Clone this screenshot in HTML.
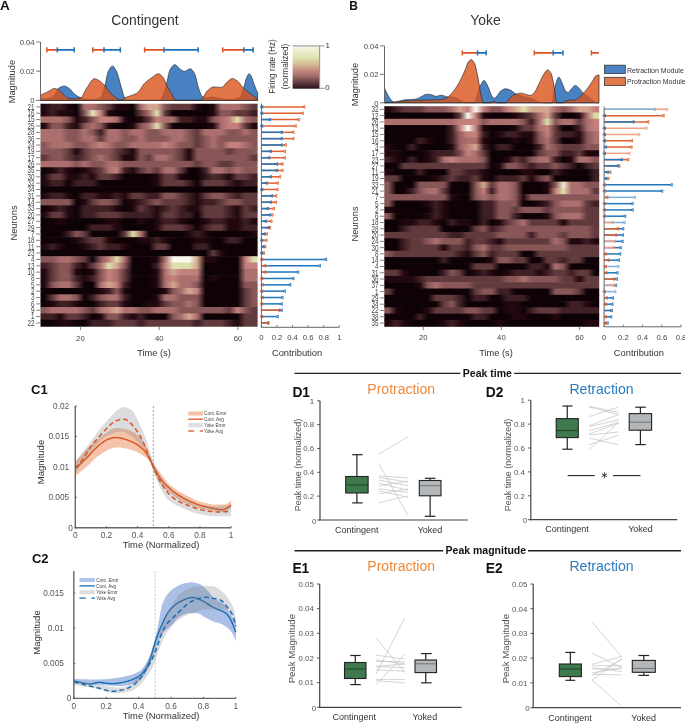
<!DOCTYPE html><html><head><meta charset="utf-8"><title>Figure</title><style>html,body{margin:0;padding:0;background:#fff;width:685px;height:723px;overflow:hidden;}svg{display:block;font-family:"Liberation Sans",sans-serif;will-change:transform;}</style></head><body><svg width="685" height="723" viewBox="0 0 685 723" font-family='"Liberation Sans", sans-serif'><defs><linearGradient id="cbar" x1="0" y1="0" x2="0" y2="1"><stop offset="0" stop-color="#f8f8f2"/><stop offset="0.1" stop-color="#eeeed4"/><stop offset="0.28" stop-color="#dfe2b0"/><stop offset="0.45" stop-color="#d2b592"/><stop offset="0.58" stop-color="#c28a80"/><stop offset="0.72" stop-color="#9c6a68"/><stop offset="0.86" stop-color="#5e3c40"/><stop offset="1" stop-color="#2a1018"/></linearGradient><linearGradient id="ha0" x1="0" y1="0" x2="1" y2="0"><stop offset="0.0185" stop-color="#21080e"/><stop offset="0.0556" stop-color="#3e1f24"/><stop offset="0.0926" stop-color="#3e1f24"/><stop offset="0.1296" stop-color="#21080e"/><stop offset="0.1667" stop-color="#0e0206"/><stop offset="0.2037" stop-color="#ab6f6e"/><stop offset="0.2407" stop-color="#ab6f6e"/><stop offset="0.2778" stop-color="#885657"/><stop offset="0.3148" stop-color="#613a3d"/><stop offset="0.3519" stop-color="#21080e"/><stop offset="0.3889" stop-color="#21080e"/><stop offset="0.4259" stop-color="#0e0206"/><stop offset="0.4630" stop-color="#ab6f6e"/><stop offset="0.5000" stop-color="#d2a68e"/><stop offset="0.5370" stop-color="#d2a68e"/><stop offset="0.5741" stop-color="#885657"/><stop offset="0.6111" stop-color="#613a3d"/><stop offset="0.6481" stop-color="#613a3d"/><stop offset="0.6852" stop-color="#613a3d"/><stop offset="0.7222" stop-color="#21080e"/><stop offset="0.7593" stop-color="#0e0206"/><stop offset="0.7963" stop-color="#21080e"/><stop offset="0.8333" stop-color="#ab6f6e"/><stop offset="0.8704" stop-color="#ab6f6e"/><stop offset="0.9074" stop-color="#ab6f6e"/><stop offset="0.9444" stop-color="#885657"/><stop offset="0.9815" stop-color="#613a3d"/></linearGradient><linearGradient id="ha1" x1="0" y1="0" x2="1" y2="0"><stop offset="0.0185" stop-color="#21080e"/><stop offset="0.0556" stop-color="#3e1f24"/><stop offset="0.0926" stop-color="#21080e"/><stop offset="0.1296" stop-color="#21080e"/><stop offset="0.1667" stop-color="#0e0206"/><stop offset="0.2037" stop-color="#885657"/><stop offset="0.2407" stop-color="#e3e3b9"/><stop offset="0.2778" stop-color="#c4807c"/><stop offset="0.3148" stop-color="#21080e"/><stop offset="0.3519" stop-color="#0e0206"/><stop offset="0.3889" stop-color="#0e0206"/><stop offset="0.4259" stop-color="#0e0206"/><stop offset="0.4630" stop-color="#613a3d"/><stop offset="0.5000" stop-color="#ab6f6e"/><stop offset="0.5370" stop-color="#dedeac"/><stop offset="0.5741" stop-color="#613a3d"/><stop offset="0.6111" stop-color="#0e0206"/><stop offset="0.6481" stop-color="#0e0206"/><stop offset="0.6852" stop-color="#0e0206"/><stop offset="0.7222" stop-color="#0e0206"/><stop offset="0.7593" stop-color="#0e0206"/><stop offset="0.7963" stop-color="#21080e"/><stop offset="0.8333" stop-color="#885657"/><stop offset="0.8704" stop-color="#885657"/><stop offset="0.9074" stop-color="#613a3d"/><stop offset="0.9444" stop-color="#613a3d"/><stop offset="0.9815" stop-color="#3e1f24"/></linearGradient><linearGradient id="ha2" x1="0" y1="0" x2="1" y2="0"><stop offset="0.0185" stop-color="#ab6f6e"/><stop offset="0.0556" stop-color="#ab6f6e"/><stop offset="0.0926" stop-color="#ab6f6e"/><stop offset="0.1296" stop-color="#885657"/><stop offset="0.1667" stop-color="#21080e"/><stop offset="0.2037" stop-color="#3e1f24"/><stop offset="0.2407" stop-color="#885657"/><stop offset="0.2778" stop-color="#c4807c"/><stop offset="0.3148" stop-color="#c4807c"/><stop offset="0.3519" stop-color="#ab6f6e"/><stop offset="0.3889" stop-color="#21080e"/><stop offset="0.4259" stop-color="#0e0206"/><stop offset="0.4630" stop-color="#21080e"/><stop offset="0.5000" stop-color="#613a3d"/><stop offset="0.5370" stop-color="#c4807c"/><stop offset="0.5741" stop-color="#ab6f6e"/><stop offset="0.6111" stop-color="#ab6f6e"/><stop offset="0.6481" stop-color="#3e1f24"/><stop offset="0.6852" stop-color="#3e1f24"/><stop offset="0.7222" stop-color="#21080e"/><stop offset="0.7593" stop-color="#21080e"/><stop offset="0.7963" stop-color="#885657"/><stop offset="0.8333" stop-color="#ab6f6e"/><stop offset="0.8704" stop-color="#c4807c"/><stop offset="0.9074" stop-color="#dedeac"/><stop offset="0.9444" stop-color="#ab6f6e"/><stop offset="0.9815" stop-color="#885657"/></linearGradient><linearGradient id="ha3" x1="0" y1="0" x2="1" y2="0"><stop offset="0.0185" stop-color="#21080e"/><stop offset="0.0556" stop-color="#885657"/><stop offset="0.0926" stop-color="#885657"/><stop offset="0.1296" stop-color="#3e1f24"/><stop offset="0.1667" stop-color="#21080e"/><stop offset="0.2037" stop-color="#885657"/><stop offset="0.2407" stop-color="#ab6f6e"/><stop offset="0.2778" stop-color="#885657"/><stop offset="0.3148" stop-color="#21080e"/><stop offset="0.3519" stop-color="#0e0206"/><stop offset="0.3889" stop-color="#0e0206"/><stop offset="0.4259" stop-color="#21080e"/><stop offset="0.4630" stop-color="#885657"/><stop offset="0.5000" stop-color="#ab6f6e"/><stop offset="0.5370" stop-color="#dedeac"/><stop offset="0.5741" stop-color="#885657"/><stop offset="0.6111" stop-color="#0e0206"/><stop offset="0.6481" stop-color="#0e0206"/><stop offset="0.6852" stop-color="#0e0206"/><stop offset="0.7222" stop-color="#0e0206"/><stop offset="0.7593" stop-color="#0e0206"/><stop offset="0.7963" stop-color="#21080e"/><stop offset="0.8333" stop-color="#ab6f6e"/><stop offset="0.8704" stop-color="#c4807c"/><stop offset="0.9074" stop-color="#c4807c"/><stop offset="0.9444" stop-color="#613a3d"/><stop offset="0.9815" stop-color="#21080e"/></linearGradient><linearGradient id="ha4" x1="0" y1="0" x2="1" y2="0"><stop offset="0.0185" stop-color="#ab6f6e"/><stop offset="0.0556" stop-color="#ab6f6e"/><stop offset="0.0926" stop-color="#ab6f6e"/><stop offset="0.1296" stop-color="#885657"/><stop offset="0.1667" stop-color="#885657"/><stop offset="0.2037" stop-color="#ab6f6e"/><stop offset="0.2407" stop-color="#885657"/><stop offset="0.2778" stop-color="#3e1f24"/><stop offset="0.3148" stop-color="#ab6f6e"/><stop offset="0.3519" stop-color="#ab6f6e"/><stop offset="0.3889" stop-color="#885657"/><stop offset="0.4259" stop-color="#ab6f6e"/><stop offset="0.4630" stop-color="#ab6f6e"/><stop offset="0.5000" stop-color="#885657"/><stop offset="0.5370" stop-color="#885657"/><stop offset="0.5741" stop-color="#ab6f6e"/><stop offset="0.6111" stop-color="#ab6f6e"/><stop offset="0.6481" stop-color="#ab6f6e"/><stop offset="0.6852" stop-color="#885657"/><stop offset="0.7222" stop-color="#613a3d"/><stop offset="0.7593" stop-color="#ab6f6e"/><stop offset="0.7963" stop-color="#ab6f6e"/><stop offset="0.8333" stop-color="#ab6f6e"/><stop offset="0.8704" stop-color="#885657"/><stop offset="0.9074" stop-color="#885657"/><stop offset="0.9444" stop-color="#ab6f6e"/><stop offset="0.9815" stop-color="#885657"/></linearGradient><linearGradient id="ha5" x1="0" y1="0" x2="1" y2="0"><stop offset="0.0185" stop-color="#ab6f6e"/><stop offset="0.0556" stop-color="#ab6f6e"/><stop offset="0.0926" stop-color="#ab6f6e"/><stop offset="0.1296" stop-color="#885657"/><stop offset="0.1667" stop-color="#885657"/><stop offset="0.2037" stop-color="#ab6f6e"/><stop offset="0.2407" stop-color="#ab6f6e"/><stop offset="0.2778" stop-color="#613a3d"/><stop offset="0.3148" stop-color="#ab6f6e"/><stop offset="0.3519" stop-color="#ab6f6e"/><stop offset="0.3889" stop-color="#885657"/><stop offset="0.4259" stop-color="#885657"/><stop offset="0.4630" stop-color="#ab6f6e"/><stop offset="0.5000" stop-color="#885657"/><stop offset="0.5370" stop-color="#885657"/><stop offset="0.5741" stop-color="#885657"/><stop offset="0.6111" stop-color="#ab6f6e"/><stop offset="0.6481" stop-color="#ab6f6e"/><stop offset="0.6852" stop-color="#885657"/><stop offset="0.7222" stop-color="#613a3d"/><stop offset="0.7593" stop-color="#885657"/><stop offset="0.7963" stop-color="#ab6f6e"/><stop offset="0.8333" stop-color="#885657"/><stop offset="0.8704" stop-color="#885657"/><stop offset="0.9074" stop-color="#885657"/><stop offset="0.9444" stop-color="#885657"/><stop offset="0.9815" stop-color="#885657"/></linearGradient><linearGradient id="ha6" x1="0" y1="0" x2="1" y2="0"><stop offset="0.0185" stop-color="#885657"/><stop offset="0.0556" stop-color="#ab6f6e"/><stop offset="0.0926" stop-color="#ab6f6e"/><stop offset="0.1296" stop-color="#ab6f6e"/><stop offset="0.1667" stop-color="#885657"/><stop offset="0.2037" stop-color="#885657"/><stop offset="0.2407" stop-color="#ab6f6e"/><stop offset="0.2778" stop-color="#c4807c"/><stop offset="0.3148" stop-color="#ab6f6e"/><stop offset="0.3519" stop-color="#885657"/><stop offset="0.3889" stop-color="#885657"/><stop offset="0.4259" stop-color="#ab6f6e"/><stop offset="0.4630" stop-color="#ab6f6e"/><stop offset="0.5000" stop-color="#ab6f6e"/><stop offset="0.5370" stop-color="#ab6f6e"/><stop offset="0.5741" stop-color="#c4807c"/><stop offset="0.6111" stop-color="#ab6f6e"/><stop offset="0.6481" stop-color="#885657"/><stop offset="0.6852" stop-color="#885657"/><stop offset="0.7222" stop-color="#613a3d"/><stop offset="0.7593" stop-color="#885657"/><stop offset="0.7963" stop-color="#ab6f6e"/><stop offset="0.8333" stop-color="#885657"/><stop offset="0.8704" stop-color="#c4807c"/><stop offset="0.9074" stop-color="#c4807c"/><stop offset="0.9444" stop-color="#ab6f6e"/><stop offset="0.9815" stop-color="#885657"/></linearGradient><linearGradient id="ha7" x1="0" y1="0" x2="1" y2="0"><stop offset="0.0185" stop-color="#885657"/><stop offset="0.0556" stop-color="#885657"/><stop offset="0.0926" stop-color="#885657"/><stop offset="0.1296" stop-color="#613a3d"/><stop offset="0.1667" stop-color="#21080e"/><stop offset="0.2037" stop-color="#613a3d"/><stop offset="0.2407" stop-color="#885657"/><stop offset="0.2778" stop-color="#885657"/><stop offset="0.3148" stop-color="#885657"/><stop offset="0.3519" stop-color="#613a3d"/><stop offset="0.3889" stop-color="#3e1f24"/><stop offset="0.4259" stop-color="#21080e"/><stop offset="0.4630" stop-color="#885657"/><stop offset="0.5000" stop-color="#885657"/><stop offset="0.5370" stop-color="#885657"/><stop offset="0.5741" stop-color="#885657"/><stop offset="0.6111" stop-color="#885657"/><stop offset="0.6481" stop-color="#613a3d"/><stop offset="0.6852" stop-color="#21080e"/><stop offset="0.7222" stop-color="#885657"/><stop offset="0.7593" stop-color="#885657"/><stop offset="0.7963" stop-color="#885657"/><stop offset="0.8333" stop-color="#885657"/><stop offset="0.8704" stop-color="#613a3d"/><stop offset="0.9074" stop-color="#885657"/><stop offset="0.9444" stop-color="#885657"/><stop offset="0.9815" stop-color="#885657"/></linearGradient><linearGradient id="ha8" x1="0" y1="0" x2="1" y2="0"><stop offset="0.0185" stop-color="#613a3d"/><stop offset="0.0556" stop-color="#885657"/><stop offset="0.0926" stop-color="#885657"/><stop offset="0.1296" stop-color="#613a3d"/><stop offset="0.1667" stop-color="#3e1f24"/><stop offset="0.2037" stop-color="#613a3d"/><stop offset="0.2407" stop-color="#885657"/><stop offset="0.2778" stop-color="#ab6f6e"/><stop offset="0.3148" stop-color="#885657"/><stop offset="0.3519" stop-color="#613a3d"/><stop offset="0.3889" stop-color="#21080e"/><stop offset="0.4259" stop-color="#21080e"/><stop offset="0.4630" stop-color="#885657"/><stop offset="0.5000" stop-color="#613a3d"/><stop offset="0.5370" stop-color="#ab6f6e"/><stop offset="0.5741" stop-color="#ab6f6e"/><stop offset="0.6111" stop-color="#885657"/><stop offset="0.6481" stop-color="#613a3d"/><stop offset="0.6852" stop-color="#21080e"/><stop offset="0.7222" stop-color="#885657"/><stop offset="0.7593" stop-color="#885657"/><stop offset="0.7963" stop-color="#885657"/><stop offset="0.8333" stop-color="#885657"/><stop offset="0.8704" stop-color="#885657"/><stop offset="0.9074" stop-color="#885657"/><stop offset="0.9444" stop-color="#885657"/><stop offset="0.9815" stop-color="#613a3d"/></linearGradient><linearGradient id="ha9" x1="0" y1="0" x2="1" y2="0"><stop offset="0.0185" stop-color="#ab6f6e"/><stop offset="0.0556" stop-color="#ab6f6e"/><stop offset="0.0926" stop-color="#ab6f6e"/><stop offset="0.1296" stop-color="#ab6f6e"/><stop offset="0.1667" stop-color="#885657"/><stop offset="0.2037" stop-color="#ab6f6e"/><stop offset="0.2407" stop-color="#885657"/><stop offset="0.2778" stop-color="#885657"/><stop offset="0.3148" stop-color="#ab6f6e"/><stop offset="0.3519" stop-color="#ab6f6e"/><stop offset="0.3889" stop-color="#885657"/><stop offset="0.4259" stop-color="#885657"/><stop offset="0.4630" stop-color="#885657"/><stop offset="0.5000" stop-color="#885657"/><stop offset="0.5370" stop-color="#885657"/><stop offset="0.5741" stop-color="#885657"/><stop offset="0.6111" stop-color="#885657"/><stop offset="0.6481" stop-color="#885657"/><stop offset="0.6852" stop-color="#885657"/><stop offset="0.7222" stop-color="#613a3d"/><stop offset="0.7593" stop-color="#885657"/><stop offset="0.7963" stop-color="#885657"/><stop offset="0.8333" stop-color="#613a3d"/><stop offset="0.8704" stop-color="#613a3d"/><stop offset="0.9074" stop-color="#885657"/><stop offset="0.9444" stop-color="#885657"/><stop offset="0.9815" stop-color="#885657"/></linearGradient><linearGradient id="ha10" x1="0" y1="0" x2="1" y2="0"><stop offset="0.0185" stop-color="#0e0206"/><stop offset="0.0556" stop-color="#21080e"/><stop offset="0.0926" stop-color="#3e1f24"/><stop offset="0.1296" stop-color="#21080e"/><stop offset="0.1667" stop-color="#0e0206"/><stop offset="0.2037" stop-color="#21080e"/><stop offset="0.2407" stop-color="#3e1f24"/><stop offset="0.2778" stop-color="#613a3d"/><stop offset="0.3148" stop-color="#ab6f6e"/><stop offset="0.3519" stop-color="#c4807c"/><stop offset="0.3889" stop-color="#3e1f24"/><stop offset="0.4259" stop-color="#21080e"/><stop offset="0.4630" stop-color="#613a3d"/><stop offset="0.5000" stop-color="#885657"/><stop offset="0.5370" stop-color="#613a3d"/><stop offset="0.5741" stop-color="#ab6f6e"/><stop offset="0.6111" stop-color="#ab6f6e"/><stop offset="0.6481" stop-color="#613a3d"/><stop offset="0.6852" stop-color="#0e0206"/><stop offset="0.7222" stop-color="#0e0206"/><stop offset="0.7593" stop-color="#3e1f24"/><stop offset="0.7963" stop-color="#ab6f6e"/><stop offset="0.8333" stop-color="#ab6f6e"/><stop offset="0.8704" stop-color="#885657"/><stop offset="0.9074" stop-color="#ab6f6e"/><stop offset="0.9444" stop-color="#885657"/><stop offset="0.9815" stop-color="#885657"/></linearGradient><linearGradient id="ha11" x1="0" y1="0" x2="1" y2="0"><stop offset="0.0185" stop-color="#21080e"/><stop offset="0.0556" stop-color="#613a3d"/><stop offset="0.0926" stop-color="#613a3d"/><stop offset="0.1296" stop-color="#21080e"/><stop offset="0.1667" stop-color="#21080e"/><stop offset="0.2037" stop-color="#3e1f24"/><stop offset="0.2407" stop-color="#21080e"/><stop offset="0.2778" stop-color="#613a3d"/><stop offset="0.3148" stop-color="#613a3d"/><stop offset="0.3519" stop-color="#3e1f24"/><stop offset="0.3889" stop-color="#0e0206"/><stop offset="0.4259" stop-color="#0e0206"/><stop offset="0.4630" stop-color="#0e0206"/><stop offset="0.5000" stop-color="#0e0206"/><stop offset="0.5370" stop-color="#21080e"/><stop offset="0.5741" stop-color="#613a3d"/><stop offset="0.6111" stop-color="#613a3d"/><stop offset="0.6481" stop-color="#18050a"/><stop offset="0.6852" stop-color="#0e0206"/><stop offset="0.7222" stop-color="#0e0206"/><stop offset="0.7593" stop-color="#301419"/><stop offset="0.7963" stop-color="#502c30"/><stop offset="0.8333" stop-color="#3e1f24"/><stop offset="0.8704" stop-color="#21080e"/><stop offset="0.9074" stop-color="#613a3d"/><stop offset="0.9444" stop-color="#613a3d"/><stop offset="0.9815" stop-color="#3e1f24"/></linearGradient><linearGradient id="ha12" x1="0" y1="0" x2="1" y2="0"><stop offset="0.0185" stop-color="#21080e"/><stop offset="0.0556" stop-color="#3e1f24"/><stop offset="0.0926" stop-color="#3e1f24"/><stop offset="0.1296" stop-color="#0e0206"/><stop offset="0.1667" stop-color="#3e1f24"/><stop offset="0.2037" stop-color="#3e1f24"/><stop offset="0.2407" stop-color="#3e1f24"/><stop offset="0.2778" stop-color="#0e0206"/><stop offset="0.3148" stop-color="#0e0206"/><stop offset="0.3519" stop-color="#0e0206"/><stop offset="0.3889" stop-color="#0e0206"/><stop offset="0.4259" stop-color="#0e0206"/><stop offset="0.4630" stop-color="#0e0206"/><stop offset="0.5000" stop-color="#0e0206"/><stop offset="0.5370" stop-color="#21080e"/><stop offset="0.5741" stop-color="#613a3d"/><stop offset="0.6111" stop-color="#613a3d"/><stop offset="0.6481" stop-color="#613a3d"/><stop offset="0.6852" stop-color="#3e1f24"/><stop offset="0.7222" stop-color="#0e0206"/><stop offset="0.7593" stop-color="#613a3d"/><stop offset="0.7963" stop-color="#613a3d"/><stop offset="0.8333" stop-color="#613a3d"/><stop offset="0.8704" stop-color="#3e1f24"/><stop offset="0.9074" stop-color="#21080e"/><stop offset="0.9444" stop-color="#3e1f24"/><stop offset="0.9815" stop-color="#3e1f24"/></linearGradient><linearGradient id="ha13" x1="0" y1="0" x2="1" y2="0"><stop offset="0.0185" stop-color="#0e0206"/><stop offset="0.0556" stop-color="#0e0206"/><stop offset="0.0926" stop-color="#0e0206"/><stop offset="0.1296" stop-color="#0e0206"/><stop offset="0.1667" stop-color="#0e0206"/><stop offset="0.2037" stop-color="#0e0206"/><stop offset="0.2407" stop-color="#0e0206"/><stop offset="0.2778" stop-color="#0e0206"/><stop offset="0.3148" stop-color="#0e0206"/><stop offset="0.3519" stop-color="#0e0206"/><stop offset="0.3889" stop-color="#0e0206"/><stop offset="0.4259" stop-color="#0e0206"/><stop offset="0.4630" stop-color="#0e0206"/><stop offset="0.5000" stop-color="#0e0206"/><stop offset="0.5370" stop-color="#0e0206"/><stop offset="0.5741" stop-color="#0e0206"/><stop offset="0.6111" stop-color="#0e0206"/><stop offset="0.6481" stop-color="#0e0206"/><stop offset="0.6852" stop-color="#0e0206"/><stop offset="0.7222" stop-color="#0e0206"/><stop offset="0.7593" stop-color="#0e0206"/><stop offset="0.7963" stop-color="#0e0206"/><stop offset="0.8333" stop-color="#0e0206"/><stop offset="0.8704" stop-color="#0e0206"/><stop offset="0.9074" stop-color="#0e0206"/><stop offset="0.9444" stop-color="#0e0206"/><stop offset="0.9815" stop-color="#0e0206"/></linearGradient><linearGradient id="ha14" x1="0" y1="0" x2="1" y2="0"><stop offset="0.0185" stop-color="#21080e"/><stop offset="0.0556" stop-color="#3e1f24"/><stop offset="0.0926" stop-color="#3e1f24"/><stop offset="0.1296" stop-color="#21080e"/><stop offset="0.1667" stop-color="#0e0206"/><stop offset="0.2037" stop-color="#3e1f24"/><stop offset="0.2407" stop-color="#3e1f24"/><stop offset="0.2778" stop-color="#21080e"/><stop offset="0.3148" stop-color="#21080e"/><stop offset="0.3519" stop-color="#3e1f24"/><stop offset="0.3889" stop-color="#21080e"/><stop offset="0.4259" stop-color="#613a3d"/><stop offset="0.4630" stop-color="#613a3d"/><stop offset="0.5000" stop-color="#3e1f24"/><stop offset="0.5370" stop-color="#3e1f24"/><stop offset="0.5741" stop-color="#885657"/><stop offset="0.6111" stop-color="#885657"/><stop offset="0.6481" stop-color="#613a3d"/><stop offset="0.6852" stop-color="#3e1f24"/><stop offset="0.7222" stop-color="#21080e"/><stop offset="0.7593" stop-color="#613a3d"/><stop offset="0.7963" stop-color="#885657"/><stop offset="0.8333" stop-color="#885657"/><stop offset="0.8704" stop-color="#613a3d"/><stop offset="0.9074" stop-color="#3e1f24"/><stop offset="0.9444" stop-color="#613a3d"/><stop offset="0.9815" stop-color="#613a3d"/></linearGradient><linearGradient id="ha15" x1="0" y1="0" x2="1" y2="0"><stop offset="0.0185" stop-color="#885657"/><stop offset="0.0556" stop-color="#885657"/><stop offset="0.0926" stop-color="#885657"/><stop offset="0.1296" stop-color="#885657"/><stop offset="0.1667" stop-color="#0e0206"/><stop offset="0.2037" stop-color="#21080e"/><stop offset="0.2407" stop-color="#613a3d"/><stop offset="0.2778" stop-color="#885657"/><stop offset="0.3148" stop-color="#885657"/><stop offset="0.3519" stop-color="#613a3d"/><stop offset="0.3889" stop-color="#0e0206"/><stop offset="0.4259" stop-color="#21080e"/><stop offset="0.4630" stop-color="#3e1f24"/><stop offset="0.5000" stop-color="#613a3d"/><stop offset="0.5370" stop-color="#885657"/><stop offset="0.5741" stop-color="#613a3d"/><stop offset="0.6111" stop-color="#613a3d"/><stop offset="0.6481" stop-color="#613a3d"/><stop offset="0.6852" stop-color="#3e1f24"/><stop offset="0.7222" stop-color="#21080e"/><stop offset="0.7593" stop-color="#3e1f24"/><stop offset="0.7963" stop-color="#3e1f24"/><stop offset="0.8333" stop-color="#613a3d"/><stop offset="0.8704" stop-color="#885657"/><stop offset="0.9074" stop-color="#885657"/><stop offset="0.9444" stop-color="#613a3d"/><stop offset="0.9815" stop-color="#613a3d"/></linearGradient><linearGradient id="ha16" x1="0" y1="0" x2="1" y2="0"><stop offset="0.0185" stop-color="#0e0206"/><stop offset="0.0556" stop-color="#21080e"/><stop offset="0.0926" stop-color="#3e1f24"/><stop offset="0.1296" stop-color="#21080e"/><stop offset="0.1667" stop-color="#0e0206"/><stop offset="0.2037" stop-color="#3e1f24"/><stop offset="0.2407" stop-color="#3e1f24"/><stop offset="0.2778" stop-color="#3e1f24"/><stop offset="0.3148" stop-color="#3e1f24"/><stop offset="0.3519" stop-color="#21080e"/><stop offset="0.3889" stop-color="#0e0206"/><stop offset="0.4259" stop-color="#21080e"/><stop offset="0.4630" stop-color="#613a3d"/><stop offset="0.5000" stop-color="#3e1f24"/><stop offset="0.5370" stop-color="#21080e"/><stop offset="0.5741" stop-color="#3e1f24"/><stop offset="0.6111" stop-color="#613a3d"/><stop offset="0.6481" stop-color="#3e1f24"/><stop offset="0.6852" stop-color="#21080e"/><stop offset="0.7222" stop-color="#21080e"/><stop offset="0.7593" stop-color="#613a3d"/><stop offset="0.7963" stop-color="#613a3d"/><stop offset="0.8333" stop-color="#613a3d"/><stop offset="0.8704" stop-color="#3e1f24"/><stop offset="0.9074" stop-color="#21080e"/><stop offset="0.9444" stop-color="#613a3d"/><stop offset="0.9815" stop-color="#3e1f24"/></linearGradient><linearGradient id="ha17" x1="0" y1="0" x2="1" y2="0"><stop offset="0.0185" stop-color="#21080e"/><stop offset="0.0556" stop-color="#613a3d"/><stop offset="0.0926" stop-color="#613a3d"/><stop offset="0.1296" stop-color="#21080e"/><stop offset="0.1667" stop-color="#0e0206"/><stop offset="0.2037" stop-color="#3e1f24"/><stop offset="0.2407" stop-color="#3e1f24"/><stop offset="0.2778" stop-color="#613a3d"/><stop offset="0.3148" stop-color="#613a3d"/><stop offset="0.3519" stop-color="#613a3d"/><stop offset="0.3889" stop-color="#3e1f24"/><stop offset="0.4259" stop-color="#3e1f24"/><stop offset="0.4630" stop-color="#3e1f24"/><stop offset="0.5000" stop-color="#3e1f24"/><stop offset="0.5370" stop-color="#21080e"/><stop offset="0.5741" stop-color="#613a3d"/><stop offset="0.6111" stop-color="#613a3d"/><stop offset="0.6481" stop-color="#3e1f24"/><stop offset="0.6852" stop-color="#3e1f24"/><stop offset="0.7222" stop-color="#0e0206"/><stop offset="0.7593" stop-color="#613a3d"/><stop offset="0.7963" stop-color="#613a3d"/><stop offset="0.8333" stop-color="#613a3d"/><stop offset="0.8704" stop-color="#3e1f24"/><stop offset="0.9074" stop-color="#21080e"/><stop offset="0.9444" stop-color="#613a3d"/><stop offset="0.9815" stop-color="#613a3d"/></linearGradient><linearGradient id="ha18" x1="0" y1="0" x2="1" y2="0"><stop offset="0.0185" stop-color="#0e0206"/><stop offset="0.0556" stop-color="#0e0206"/><stop offset="0.0926" stop-color="#21080e"/><stop offset="0.1296" stop-color="#0e0206"/><stop offset="0.1667" stop-color="#0e0206"/><stop offset="0.2037" stop-color="#0e0206"/><stop offset="0.2407" stop-color="#0e0206"/><stop offset="0.2778" stop-color="#0e0206"/><stop offset="0.3148" stop-color="#21080e"/><stop offset="0.3519" stop-color="#21080e"/><stop offset="0.3889" stop-color="#0e0206"/><stop offset="0.4259" stop-color="#0e0206"/><stop offset="0.4630" stop-color="#21080e"/><stop offset="0.5000" stop-color="#0e0206"/><stop offset="0.5370" stop-color="#21080e"/><stop offset="0.5741" stop-color="#3e1f24"/><stop offset="0.6111" stop-color="#3e1f24"/><stop offset="0.6481" stop-color="#21080e"/><stop offset="0.6852" stop-color="#0e0206"/><stop offset="0.7222" stop-color="#0e0206"/><stop offset="0.7593" stop-color="#21080e"/><stop offset="0.7963" stop-color="#3e1f24"/><stop offset="0.8333" stop-color="#3e1f24"/><stop offset="0.8704" stop-color="#21080e"/><stop offset="0.9074" stop-color="#21080e"/><stop offset="0.9444" stop-color="#3e1f24"/><stop offset="0.9815" stop-color="#21080e"/></linearGradient><linearGradient id="ha19" x1="0" y1="0" x2="1" y2="0"><stop offset="0.0185" stop-color="#0e0206"/><stop offset="0.0556" stop-color="#0e0206"/><stop offset="0.0926" stop-color="#0e0206"/><stop offset="0.1296" stop-color="#0e0206"/><stop offset="0.1667" stop-color="#0e0206"/><stop offset="0.2037" stop-color="#0e0206"/><stop offset="0.2407" stop-color="#3e1f24"/><stop offset="0.2778" stop-color="#3e1f24"/><stop offset="0.3148" stop-color="#3e1f24"/><stop offset="0.3519" stop-color="#21080e"/><stop offset="0.3889" stop-color="#0e0206"/><stop offset="0.4259" stop-color="#0e0206"/><stop offset="0.4630" stop-color="#0e0206"/><stop offset="0.5000" stop-color="#0e0206"/><stop offset="0.5370" stop-color="#21080e"/><stop offset="0.5741" stop-color="#613a3d"/><stop offset="0.6111" stop-color="#613a3d"/><stop offset="0.6481" stop-color="#613a3d"/><stop offset="0.6852" stop-color="#3e1f24"/><stop offset="0.7222" stop-color="#0e0206"/><stop offset="0.7593" stop-color="#3e1f24"/><stop offset="0.7963" stop-color="#613a3d"/><stop offset="0.8333" stop-color="#613a3d"/><stop offset="0.8704" stop-color="#21080e"/><stop offset="0.9074" stop-color="#21080e"/><stop offset="0.9444" stop-color="#3e1f24"/><stop offset="0.9815" stop-color="#3e1f24"/></linearGradient><linearGradient id="ha20" x1="0" y1="0" x2="1" y2="0"><stop offset="0.0185" stop-color="#0e0206"/><stop offset="0.0556" stop-color="#0e0206"/><stop offset="0.0926" stop-color="#0e0206"/><stop offset="0.1296" stop-color="#3e1f24"/><stop offset="0.1667" stop-color="#885657"/><stop offset="0.2037" stop-color="#613a3d"/><stop offset="0.2407" stop-color="#0e0206"/><stop offset="0.2778" stop-color="#0e0206"/><stop offset="0.3148" stop-color="#0e0206"/><stop offset="0.3519" stop-color="#0e0206"/><stop offset="0.3889" stop-color="#613a3d"/><stop offset="0.4259" stop-color="#dedeac"/><stop offset="0.4630" stop-color="#ab6f6e"/><stop offset="0.5000" stop-color="#0e0206"/><stop offset="0.5370" stop-color="#0e0206"/><stop offset="0.5741" stop-color="#0e0206"/><stop offset="0.6111" stop-color="#0e0206"/><stop offset="0.6481" stop-color="#0e0206"/><stop offset="0.6852" stop-color="#21080e"/><stop offset="0.7222" stop-color="#3e1f24"/><stop offset="0.7593" stop-color="#21080e"/><stop offset="0.7963" stop-color="#0e0206"/><stop offset="0.8333" stop-color="#0e0206"/><stop offset="0.8704" stop-color="#0e0206"/><stop offset="0.9074" stop-color="#0e0206"/><stop offset="0.9444" stop-color="#0e0206"/><stop offset="0.9815" stop-color="#21080e"/></linearGradient><linearGradient id="ha21" x1="0" y1="0" x2="1" y2="0"><stop offset="0.0185" stop-color="#0e0206"/><stop offset="0.0556" stop-color="#0e0206"/><stop offset="0.0926" stop-color="#0e0206"/><stop offset="0.1296" stop-color="#0e0206"/><stop offset="0.1667" stop-color="#21080e"/><stop offset="0.2037" stop-color="#3e1f24"/><stop offset="0.2407" stop-color="#613a3d"/><stop offset="0.2778" stop-color="#613a3d"/><stop offset="0.3148" stop-color="#21080e"/><stop offset="0.3519" stop-color="#0e0206"/><stop offset="0.3889" stop-color="#0e0206"/><stop offset="0.4259" stop-color="#0e0206"/><stop offset="0.4630" stop-color="#21080e"/><stop offset="0.5000" stop-color="#21080e"/><stop offset="0.5370" stop-color="#3e1f24"/><stop offset="0.5741" stop-color="#21080e"/><stop offset="0.6111" stop-color="#0e0206"/><stop offset="0.6481" stop-color="#0e0206"/><stop offset="0.6852" stop-color="#0e0206"/><stop offset="0.7222" stop-color="#21080e"/><stop offset="0.7593" stop-color="#21080e"/><stop offset="0.7963" stop-color="#0e0206"/><stop offset="0.8333" stop-color="#0e0206"/><stop offset="0.8704" stop-color="#3e1f24"/><stop offset="0.9074" stop-color="#3e1f24"/><stop offset="0.9444" stop-color="#0e0206"/><stop offset="0.9815" stop-color="#0e0206"/></linearGradient><linearGradient id="ha22" x1="0" y1="0" x2="1" y2="0"><stop offset="0.0185" stop-color="#21080e"/><stop offset="0.0556" stop-color="#3e1f24"/><stop offset="0.0926" stop-color="#21080e"/><stop offset="0.1296" stop-color="#0e0206"/><stop offset="0.1667" stop-color="#0e0206"/><stop offset="0.2037" stop-color="#21080e"/><stop offset="0.2407" stop-color="#3e1f24"/><stop offset="0.2778" stop-color="#613a3d"/><stop offset="0.3148" stop-color="#3e1f24"/><stop offset="0.3519" stop-color="#3e1f24"/><stop offset="0.3889" stop-color="#21080e"/><stop offset="0.4259" stop-color="#0e0206"/><stop offset="0.4630" stop-color="#0e0206"/><stop offset="0.5000" stop-color="#0e0206"/><stop offset="0.5370" stop-color="#613a3d"/><stop offset="0.5741" stop-color="#613a3d"/><stop offset="0.6111" stop-color="#0e0206"/><stop offset="0.6481" stop-color="#0e0206"/><stop offset="0.6852" stop-color="#0e0206"/><stop offset="0.7222" stop-color="#3e1f24"/><stop offset="0.7593" stop-color="#3e1f24"/><stop offset="0.7963" stop-color="#0e0206"/><stop offset="0.8333" stop-color="#0e0206"/><stop offset="0.8704" stop-color="#0e0206"/><stop offset="0.9074" stop-color="#0e0206"/><stop offset="0.9444" stop-color="#0e0206"/><stop offset="0.9815" stop-color="#0e0206"/></linearGradient><linearGradient id="ha23" x1="0" y1="0" x2="1" y2="0"><stop offset="0.0185" stop-color="#0e0206"/><stop offset="0.0556" stop-color="#0e0206"/><stop offset="0.0926" stop-color="#0e0206"/><stop offset="0.1296" stop-color="#0e0206"/><stop offset="0.1667" stop-color="#0e0206"/><stop offset="0.2037" stop-color="#0e0206"/><stop offset="0.2407" stop-color="#0e0206"/><stop offset="0.2778" stop-color="#0e0206"/><stop offset="0.3148" stop-color="#0e0206"/><stop offset="0.3519" stop-color="#0e0206"/><stop offset="0.3889" stop-color="#0e0206"/><stop offset="0.4259" stop-color="#0e0206"/><stop offset="0.4630" stop-color="#0e0206"/><stop offset="0.5000" stop-color="#0e0206"/><stop offset="0.5370" stop-color="#0e0206"/><stop offset="0.5741" stop-color="#0e0206"/><stop offset="0.6111" stop-color="#0e0206"/><stop offset="0.6481" stop-color="#0e0206"/><stop offset="0.6852" stop-color="#0e0206"/><stop offset="0.7222" stop-color="#0e0206"/><stop offset="0.7593" stop-color="#0e0206"/><stop offset="0.7963" stop-color="#613a3d"/><stop offset="0.8333" stop-color="#21080e"/><stop offset="0.8704" stop-color="#0e0206"/><stop offset="0.9074" stop-color="#0e0206"/><stop offset="0.9444" stop-color="#0e0206"/><stop offset="0.9815" stop-color="#0e0206"/></linearGradient><linearGradient id="ha24" x1="0" y1="0" x2="1" y2="0"><stop offset="0.0185" stop-color="#885657"/><stop offset="0.0556" stop-color="#885657"/><stop offset="0.0926" stop-color="#ab6f6e"/><stop offset="0.1296" stop-color="#ab6f6e"/><stop offset="0.1667" stop-color="#885657"/><stop offset="0.2037" stop-color="#613a3d"/><stop offset="0.2407" stop-color="#0e0206"/><stop offset="0.2778" stop-color="#885657"/><stop offset="0.3148" stop-color="#c4807c"/><stop offset="0.3519" stop-color="#dedeac"/><stop offset="0.3889" stop-color="#ab6f6e"/><stop offset="0.4259" stop-color="#0e0206"/><stop offset="0.4630" stop-color="#0e0206"/><stop offset="0.5000" stop-color="#0e0206"/><stop offset="0.5370" stop-color="#21080e"/><stop offset="0.5741" stop-color="#ab6f6e"/><stop offset="0.6111" stop-color="#f9f9ee"/><stop offset="0.6481" stop-color="#f9f9ee"/><stop offset="0.6852" stop-color="#f9f9ee"/><stop offset="0.7222" stop-color="#d2a68e"/><stop offset="0.7593" stop-color="#21080e"/><stop offset="0.7963" stop-color="#21080e"/><stop offset="0.8333" stop-color="#0e0206"/><stop offset="0.8704" stop-color="#0e0206"/><stop offset="0.9074" stop-color="#0e0206"/><stop offset="0.9444" stop-color="#c4807c"/><stop offset="0.9815" stop-color="#dedeac"/></linearGradient><linearGradient id="ha25" x1="0" y1="0" x2="1" y2="0"><stop offset="0.0185" stop-color="#3e1f24"/><stop offset="0.0556" stop-color="#613a3d"/><stop offset="0.0926" stop-color="#885657"/><stop offset="0.1296" stop-color="#885657"/><stop offset="0.1667" stop-color="#3e1f24"/><stop offset="0.2037" stop-color="#21080e"/><stop offset="0.2407" stop-color="#613a3d"/><stop offset="0.2778" stop-color="#ab6f6e"/><stop offset="0.3148" stop-color="#dedeac"/><stop offset="0.3519" stop-color="#d2a68e"/><stop offset="0.3889" stop-color="#885657"/><stop offset="0.4259" stop-color="#0e0206"/><stop offset="0.4630" stop-color="#0e0206"/><stop offset="0.5000" stop-color="#0e0206"/><stop offset="0.5370" stop-color="#3e1f24"/><stop offset="0.5741" stop-color="#c4807c"/><stop offset="0.6111" stop-color="#dedeac"/><stop offset="0.6481" stop-color="#dedeac"/><stop offset="0.6852" stop-color="#dedeac"/><stop offset="0.7222" stop-color="#d2a68e"/><stop offset="0.7593" stop-color="#0e0206"/><stop offset="0.7963" stop-color="#0e0206"/><stop offset="0.8333" stop-color="#0e0206"/><stop offset="0.8704" stop-color="#0e0206"/><stop offset="0.9074" stop-color="#0e0206"/><stop offset="0.9444" stop-color="#c4807c"/><stop offset="0.9815" stop-color="#c4807c"/></linearGradient><linearGradient id="ha26" x1="0" y1="0" x2="1" y2="0"><stop offset="0.0185" stop-color="#21080e"/><stop offset="0.0556" stop-color="#613a3d"/><stop offset="0.0926" stop-color="#885657"/><stop offset="0.1296" stop-color="#885657"/><stop offset="0.1667" stop-color="#21080e"/><stop offset="0.2037" stop-color="#0e0206"/><stop offset="0.2407" stop-color="#21080e"/><stop offset="0.2778" stop-color="#885657"/><stop offset="0.3148" stop-color="#c4807c"/><stop offset="0.3519" stop-color="#ab6f6e"/><stop offset="0.3889" stop-color="#613a3d"/><stop offset="0.4259" stop-color="#0e0206"/><stop offset="0.4630" stop-color="#0e0206"/><stop offset="0.5000" stop-color="#0e0206"/><stop offset="0.5370" stop-color="#21080e"/><stop offset="0.5741" stop-color="#ab6f6e"/><stop offset="0.6111" stop-color="#d2a68e"/><stop offset="0.6481" stop-color="#c4807c"/><stop offset="0.6852" stop-color="#c4807c"/><stop offset="0.7222" stop-color="#c4807c"/><stop offset="0.7593" stop-color="#0e0206"/><stop offset="0.7963" stop-color="#0e0206"/><stop offset="0.8333" stop-color="#0e0206"/><stop offset="0.8704" stop-color="#0e0206"/><stop offset="0.9074" stop-color="#0e0206"/><stop offset="0.9444" stop-color="#ab6f6e"/><stop offset="0.9815" stop-color="#ab6f6e"/></linearGradient><linearGradient id="ha27" x1="0" y1="0" x2="1" y2="0"><stop offset="0.0185" stop-color="#21080e"/><stop offset="0.0556" stop-color="#613a3d"/><stop offset="0.0926" stop-color="#885657"/><stop offset="0.1296" stop-color="#885657"/><stop offset="0.1667" stop-color="#3e1f24"/><stop offset="0.2037" stop-color="#21080e"/><stop offset="0.2407" stop-color="#3e1f24"/><stop offset="0.2778" stop-color="#885657"/><stop offset="0.3148" stop-color="#c4807c"/><stop offset="0.3519" stop-color="#ab6f6e"/><stop offset="0.3889" stop-color="#613a3d"/><stop offset="0.4259" stop-color="#0e0206"/><stop offset="0.4630" stop-color="#0e0206"/><stop offset="0.5000" stop-color="#0e0206"/><stop offset="0.5370" stop-color="#21080e"/><stop offset="0.5741" stop-color="#ab6f6e"/><stop offset="0.6111" stop-color="#c4807c"/><stop offset="0.6481" stop-color="#ab6f6e"/><stop offset="0.6852" stop-color="#ab6f6e"/><stop offset="0.7222" stop-color="#ab6f6e"/><stop offset="0.7593" stop-color="#0e0206"/><stop offset="0.7963" stop-color="#21080e"/><stop offset="0.8333" stop-color="#0e0206"/><stop offset="0.8704" stop-color="#0e0206"/><stop offset="0.9074" stop-color="#0e0206"/><stop offset="0.9444" stop-color="#ab6f6e"/><stop offset="0.9815" stop-color="#ab6f6e"/></linearGradient><linearGradient id="ha28" x1="0" y1="0" x2="1" y2="0"><stop offset="0.0185" stop-color="#21080e"/><stop offset="0.0556" stop-color="#885657"/><stop offset="0.0926" stop-color="#ab6f6e"/><stop offset="0.1296" stop-color="#ab6f6e"/><stop offset="0.1667" stop-color="#613a3d"/><stop offset="0.2037" stop-color="#0e0206"/><stop offset="0.2407" stop-color="#0e0206"/><stop offset="0.2778" stop-color="#ab6f6e"/><stop offset="0.3148" stop-color="#d2a68e"/><stop offset="0.3519" stop-color="#c4807c"/><stop offset="0.3889" stop-color="#3e1f24"/><stop offset="0.4259" stop-color="#0e0206"/><stop offset="0.4630" stop-color="#0e0206"/><stop offset="0.5000" stop-color="#0e0206"/><stop offset="0.5370" stop-color="#21080e"/><stop offset="0.5741" stop-color="#ab6f6e"/><stop offset="0.6111" stop-color="#d2a68e"/><stop offset="0.6481" stop-color="#ab6f6e"/><stop offset="0.6852" stop-color="#ab6f6e"/><stop offset="0.7222" stop-color="#885657"/><stop offset="0.7593" stop-color="#0e0206"/><stop offset="0.7963" stop-color="#0e0206"/><stop offset="0.8333" stop-color="#0e0206"/><stop offset="0.8704" stop-color="#0e0206"/><stop offset="0.9074" stop-color="#0e0206"/><stop offset="0.9444" stop-color="#885657"/><stop offset="0.9815" stop-color="#885657"/></linearGradient><linearGradient id="ha29" x1="0" y1="0" x2="1" y2="0"><stop offset="0.0185" stop-color="#0e0206"/><stop offset="0.0556" stop-color="#0e0206"/><stop offset="0.0926" stop-color="#0e0206"/><stop offset="0.1296" stop-color="#0e0206"/><stop offset="0.1667" stop-color="#0e0206"/><stop offset="0.2037" stop-color="#0e0206"/><stop offset="0.2407" stop-color="#0e0206"/><stop offset="0.2778" stop-color="#21080e"/><stop offset="0.3148" stop-color="#3e1f24"/><stop offset="0.3519" stop-color="#885657"/><stop offset="0.3889" stop-color="#21080e"/><stop offset="0.4259" stop-color="#0e0206"/><stop offset="0.4630" stop-color="#0e0206"/><stop offset="0.5000" stop-color="#0e0206"/><stop offset="0.5370" stop-color="#0e0206"/><stop offset="0.5741" stop-color="#21080e"/><stop offset="0.6111" stop-color="#885657"/><stop offset="0.6481" stop-color="#ab6f6e"/><stop offset="0.6852" stop-color="#d2a68e"/><stop offset="0.7222" stop-color="#c4807c"/><stop offset="0.7593" stop-color="#0e0206"/><stop offset="0.7963" stop-color="#0e0206"/><stop offset="0.8333" stop-color="#0e0206"/><stop offset="0.8704" stop-color="#0e0206"/><stop offset="0.9074" stop-color="#0e0206"/><stop offset="0.9444" stop-color="#613a3d"/><stop offset="0.9815" stop-color="#885657"/></linearGradient><linearGradient id="ha30" x1="0" y1="0" x2="1" y2="0"><stop offset="0.0185" stop-color="#0e0206"/><stop offset="0.0556" stop-color="#613a3d"/><stop offset="0.0926" stop-color="#ab6f6e"/><stop offset="0.1296" stop-color="#ab6f6e"/><stop offset="0.1667" stop-color="#885657"/><stop offset="0.2037" stop-color="#0e0206"/><stop offset="0.2407" stop-color="#3e1f24"/><stop offset="0.2778" stop-color="#885657"/><stop offset="0.3148" stop-color="#ab6f6e"/><stop offset="0.3519" stop-color="#ab6f6e"/><stop offset="0.3889" stop-color="#3e1f24"/><stop offset="0.4259" stop-color="#0e0206"/><stop offset="0.4630" stop-color="#0e0206"/><stop offset="0.5000" stop-color="#0e0206"/><stop offset="0.5370" stop-color="#21080e"/><stop offset="0.5741" stop-color="#ab6f6e"/><stop offset="0.6111" stop-color="#ab6f6e"/><stop offset="0.6481" stop-color="#885657"/><stop offset="0.6852" stop-color="#885657"/><stop offset="0.7222" stop-color="#885657"/><stop offset="0.7593" stop-color="#0e0206"/><stop offset="0.7963" stop-color="#0e0206"/><stop offset="0.8333" stop-color="#0e0206"/><stop offset="0.8704" stop-color="#0e0206"/><stop offset="0.9074" stop-color="#0e0206"/><stop offset="0.9444" stop-color="#613a3d"/><stop offset="0.9815" stop-color="#885657"/></linearGradient><linearGradient id="ha31" x1="0" y1="0" x2="1" y2="0"><stop offset="0.0185" stop-color="#0e0206"/><stop offset="0.0556" stop-color="#21080e"/><stop offset="0.0926" stop-color="#3e1f24"/><stop offset="0.1296" stop-color="#3e1f24"/><stop offset="0.1667" stop-color="#21080e"/><stop offset="0.2037" stop-color="#0e0206"/><stop offset="0.2407" stop-color="#0e0206"/><stop offset="0.2778" stop-color="#3e1f24"/><stop offset="0.3148" stop-color="#613a3d"/><stop offset="0.3519" stop-color="#613a3d"/><stop offset="0.3889" stop-color="#21080e"/><stop offset="0.4259" stop-color="#0e0206"/><stop offset="0.4630" stop-color="#0e0206"/><stop offset="0.5000" stop-color="#21080e"/><stop offset="0.5370" stop-color="#21080e"/><stop offset="0.5741" stop-color="#613a3d"/><stop offset="0.6111" stop-color="#885657"/><stop offset="0.6481" stop-color="#885657"/><stop offset="0.6852" stop-color="#ab6f6e"/><stop offset="0.7222" stop-color="#885657"/><stop offset="0.7593" stop-color="#0e0206"/><stop offset="0.7963" stop-color="#0e0206"/><stop offset="0.8333" stop-color="#0e0206"/><stop offset="0.8704" stop-color="#0e0206"/><stop offset="0.9074" stop-color="#0e0206"/><stop offset="0.9444" stop-color="#613a3d"/><stop offset="0.9815" stop-color="#885657"/></linearGradient><linearGradient id="ha32" x1="0" y1="0" x2="1" y2="0"><stop offset="0.0185" stop-color="#885657"/><stop offset="0.0556" stop-color="#ab6f6e"/><stop offset="0.0926" stop-color="#ab6f6e"/><stop offset="0.1296" stop-color="#ab6f6e"/><stop offset="0.1667" stop-color="#ab6f6e"/><stop offset="0.2037" stop-color="#885657"/><stop offset="0.2407" stop-color="#613a3d"/><stop offset="0.2778" stop-color="#ab6f6e"/><stop offset="0.3148" stop-color="#c4807c"/><stop offset="0.3519" stop-color="#d2a68e"/><stop offset="0.3889" stop-color="#ab6f6e"/><stop offset="0.4259" stop-color="#ab6f6e"/><stop offset="0.4630" stop-color="#885657"/><stop offset="0.5000" stop-color="#885657"/><stop offset="0.5370" stop-color="#ab6f6e"/><stop offset="0.5741" stop-color="#ab6f6e"/><stop offset="0.6111" stop-color="#ab6f6e"/><stop offset="0.6481" stop-color="#885657"/><stop offset="0.6852" stop-color="#885657"/><stop offset="0.7222" stop-color="#885657"/><stop offset="0.7593" stop-color="#885657"/><stop offset="0.7963" stop-color="#885657"/><stop offset="0.8333" stop-color="#885657"/><stop offset="0.8704" stop-color="#613a3d"/><stop offset="0.9074" stop-color="#c4807c"/><stop offset="0.9444" stop-color="#885657"/><stop offset="0.9815" stop-color="#613a3d"/></linearGradient><linearGradient id="ha33" x1="0" y1="0" x2="1" y2="0"><stop offset="0.0185" stop-color="#3e1f24"/><stop offset="0.0556" stop-color="#3e1f24"/><stop offset="0.0926" stop-color="#21080e"/><stop offset="0.1296" stop-color="#613a3d"/><stop offset="0.1667" stop-color="#613a3d"/><stop offset="0.2037" stop-color="#3e1f24"/><stop offset="0.2407" stop-color="#0e0206"/><stop offset="0.2778" stop-color="#21080e"/><stop offset="0.3148" stop-color="#885657"/><stop offset="0.3519" stop-color="#885657"/><stop offset="0.3889" stop-color="#3e1f24"/><stop offset="0.4259" stop-color="#21080e"/><stop offset="0.4630" stop-color="#3e1f24"/><stop offset="0.5000" stop-color="#0e0206"/><stop offset="0.5370" stop-color="#0e0206"/><stop offset="0.5741" stop-color="#0e0206"/><stop offset="0.6111" stop-color="#885657"/><stop offset="0.6481" stop-color="#ab6f6e"/><stop offset="0.6852" stop-color="#d2a68e"/><stop offset="0.7222" stop-color="#ab6f6e"/><stop offset="0.7593" stop-color="#0e0206"/><stop offset="0.7963" stop-color="#0e0206"/><stop offset="0.8333" stop-color="#0e0206"/><stop offset="0.8704" stop-color="#0e0206"/><stop offset="0.9074" stop-color="#0e0206"/><stop offset="0.9444" stop-color="#613a3d"/><stop offset="0.9815" stop-color="#613a3d"/></linearGradient><linearGradient id="ha34" x1="0" y1="0" x2="1" y2="0"><stop offset="0.0185" stop-color="#0e0206"/><stop offset="0.0556" stop-color="#0e0206"/><stop offset="0.0926" stop-color="#21080e"/><stop offset="0.1296" stop-color="#21080e"/><stop offset="0.1667" stop-color="#0e0206"/><stop offset="0.2037" stop-color="#0e0206"/><stop offset="0.2407" stop-color="#3e1f24"/><stop offset="0.2778" stop-color="#3e1f24"/><stop offset="0.3148" stop-color="#3e1f24"/><stop offset="0.3519" stop-color="#613a3d"/><stop offset="0.3889" stop-color="#613a3d"/><stop offset="0.4259" stop-color="#613a3d"/><stop offset="0.4630" stop-color="#3e1f24"/><stop offset="0.5000" stop-color="#613a3d"/><stop offset="0.5370" stop-color="#613a3d"/><stop offset="0.5741" stop-color="#613a3d"/><stop offset="0.6111" stop-color="#613a3d"/><stop offset="0.6481" stop-color="#613a3d"/><stop offset="0.6852" stop-color="#613a3d"/><stop offset="0.7222" stop-color="#3e1f24"/><stop offset="0.7593" stop-color="#613a3d"/><stop offset="0.7963" stop-color="#613a3d"/><stop offset="0.8333" stop-color="#613a3d"/><stop offset="0.8704" stop-color="#3e1f24"/><stop offset="0.9074" stop-color="#21080e"/><stop offset="0.9444" stop-color="#613a3d"/><stop offset="0.9815" stop-color="#613a3d"/></linearGradient><linearGradient id="hb0" x1="0" y1="0" x2="1" y2="0"><stop offset="0.0185" stop-color="#21080e"/><stop offset="0.0556" stop-color="#3e1f24"/><stop offset="0.0926" stop-color="#613a3d"/><stop offset="0.1296" stop-color="#613a3d"/><stop offset="0.1667" stop-color="#613a3d"/><stop offset="0.2037" stop-color="#885657"/><stop offset="0.2407" stop-color="#885657"/><stop offset="0.2778" stop-color="#885657"/><stop offset="0.3148" stop-color="#ab6f6e"/><stop offset="0.3519" stop-color="#d2a68e"/><stop offset="0.3889" stop-color="#c4807c"/><stop offset="0.4259" stop-color="#f9f9ee"/><stop offset="0.4630" stop-color="#c4807c"/><stop offset="0.5000" stop-color="#885657"/><stop offset="0.5370" stop-color="#885657"/><stop offset="0.5741" stop-color="#c4807c"/><stop offset="0.6111" stop-color="#d2a68e"/><stop offset="0.6481" stop-color="#dedeac"/><stop offset="0.6852" stop-color="#d2a68e"/><stop offset="0.7222" stop-color="#d2a68e"/><stop offset="0.7593" stop-color="#d2a68e"/><stop offset="0.7963" stop-color="#ab6f6e"/><stop offset="0.8333" stop-color="#885657"/><stop offset="0.8704" stop-color="#ab6f6e"/><stop offset="0.9074" stop-color="#d2a68e"/><stop offset="0.9444" stop-color="#d2a68e"/><stop offset="0.9815" stop-color="#c4807c"/></linearGradient><linearGradient id="hb1" x1="0" y1="0" x2="1" y2="0"><stop offset="0.0185" stop-color="#0e0206"/><stop offset="0.0556" stop-color="#0e0206"/><stop offset="0.0926" stop-color="#0e0206"/><stop offset="0.1296" stop-color="#0e0206"/><stop offset="0.1667" stop-color="#0e0206"/><stop offset="0.2037" stop-color="#0e0206"/><stop offset="0.2407" stop-color="#0e0206"/><stop offset="0.2778" stop-color="#0e0206"/><stop offset="0.3148" stop-color="#0e0206"/><stop offset="0.3519" stop-color="#613a3d"/><stop offset="0.3889" stop-color="#f9f9ee"/><stop offset="0.4259" stop-color="#c4807c"/><stop offset="0.4630" stop-color="#21080e"/><stop offset="0.5000" stop-color="#0e0206"/><stop offset="0.5370" stop-color="#0e0206"/><stop offset="0.5741" stop-color="#0e0206"/><stop offset="0.6111" stop-color="#21080e"/><stop offset="0.6481" stop-color="#3e1f24"/><stop offset="0.6852" stop-color="#613a3d"/><stop offset="0.7222" stop-color="#ab6f6e"/><stop offset="0.7593" stop-color="#d2a68e"/><stop offset="0.7963" stop-color="#613a3d"/><stop offset="0.8333" stop-color="#0e0206"/><stop offset="0.8704" stop-color="#0e0206"/><stop offset="0.9074" stop-color="#21080e"/><stop offset="0.9444" stop-color="#ab6f6e"/><stop offset="0.9815" stop-color="#dedeac"/></linearGradient><linearGradient id="hb2" x1="0" y1="0" x2="1" y2="0"><stop offset="0.0185" stop-color="#ab6f6e"/><stop offset="0.0556" stop-color="#ab6f6e"/><stop offset="0.0926" stop-color="#ab6f6e"/><stop offset="0.1296" stop-color="#ab6f6e"/><stop offset="0.1667" stop-color="#ab6f6e"/><stop offset="0.2037" stop-color="#ab6f6e"/><stop offset="0.2407" stop-color="#ab6f6e"/><stop offset="0.2778" stop-color="#ab6f6e"/><stop offset="0.3148" stop-color="#ab6f6e"/><stop offset="0.3519" stop-color="#c4807c"/><stop offset="0.3889" stop-color="#c4807c"/><stop offset="0.4259" stop-color="#c4807c"/><stop offset="0.4630" stop-color="#885657"/><stop offset="0.5000" stop-color="#ab6f6e"/><stop offset="0.5370" stop-color="#ab6f6e"/><stop offset="0.5741" stop-color="#ab6f6e"/><stop offset="0.6111" stop-color="#ab6f6e"/><stop offset="0.6481" stop-color="#885657"/><stop offset="0.6852" stop-color="#3e1f24"/><stop offset="0.7222" stop-color="#ab6f6e"/><stop offset="0.7593" stop-color="#dedeac"/><stop offset="0.7963" stop-color="#885657"/><stop offset="0.8333" stop-color="#ab6f6e"/><stop offset="0.8704" stop-color="#ab6f6e"/><stop offset="0.9074" stop-color="#613a3d"/><stop offset="0.9444" stop-color="#ab6f6e"/><stop offset="0.9815" stop-color="#c4807c"/></linearGradient><linearGradient id="hb3" x1="0" y1="0" x2="1" y2="0"><stop offset="0.0185" stop-color="#0e0206"/><stop offset="0.0556" stop-color="#0e0206"/><stop offset="0.0926" stop-color="#0e0206"/><stop offset="0.1296" stop-color="#0e0206"/><stop offset="0.1667" stop-color="#0e0206"/><stop offset="0.2037" stop-color="#0e0206"/><stop offset="0.2407" stop-color="#0e0206"/><stop offset="0.2778" stop-color="#0e0206"/><stop offset="0.3148" stop-color="#3e1f24"/><stop offset="0.3519" stop-color="#c4807c"/><stop offset="0.3889" stop-color="#f9f9ee"/><stop offset="0.4259" stop-color="#c4807c"/><stop offset="0.4630" stop-color="#21080e"/><stop offset="0.5000" stop-color="#0e0206"/><stop offset="0.5370" stop-color="#0e0206"/><stop offset="0.5741" stop-color="#0e0206"/><stop offset="0.6111" stop-color="#21080e"/><stop offset="0.6481" stop-color="#613a3d"/><stop offset="0.6852" stop-color="#613a3d"/><stop offset="0.7222" stop-color="#ab6f6e"/><stop offset="0.7593" stop-color="#c4807c"/><stop offset="0.7963" stop-color="#613a3d"/><stop offset="0.8333" stop-color="#0e0206"/><stop offset="0.8704" stop-color="#0e0206"/><stop offset="0.9074" stop-color="#3e1f24"/><stop offset="0.9444" stop-color="#ab6f6e"/><stop offset="0.9815" stop-color="#c4807c"/></linearGradient><linearGradient id="hb4" x1="0" y1="0" x2="1" y2="0"><stop offset="0.0185" stop-color="#0e0206"/><stop offset="0.0556" stop-color="#0e0206"/><stop offset="0.0926" stop-color="#0e0206"/><stop offset="0.1296" stop-color="#0e0206"/><stop offset="0.1667" stop-color="#0e0206"/><stop offset="0.2037" stop-color="#0e0206"/><stop offset="0.2407" stop-color="#0e0206"/><stop offset="0.2778" stop-color="#0e0206"/><stop offset="0.3148" stop-color="#3e1f24"/><stop offset="0.3519" stop-color="#9a6262"/><stop offset="0.3889" stop-color="#c4807c"/><stop offset="0.4259" stop-color="#c4807c"/><stop offset="0.4630" stop-color="#3e1f24"/><stop offset="0.5000" stop-color="#0e0206"/><stop offset="0.5370" stop-color="#21080e"/><stop offset="0.5741" stop-color="#3e1f24"/><stop offset="0.6111" stop-color="#3e1f24"/><stop offset="0.6481" stop-color="#21080e"/><stop offset="0.6852" stop-color="#21080e"/><stop offset="0.7222" stop-color="#885657"/><stop offset="0.7593" stop-color="#c4807c"/><stop offset="0.7963" stop-color="#613a3d"/><stop offset="0.8333" stop-color="#3e1f24"/><stop offset="0.8704" stop-color="#3e1f24"/><stop offset="0.9074" stop-color="#21080e"/><stop offset="0.9444" stop-color="#885657"/><stop offset="0.9815" stop-color="#ab6f6e"/></linearGradient><linearGradient id="hb5" x1="0" y1="0" x2="1" y2="0"><stop offset="0.0185" stop-color="#0e0206"/><stop offset="0.0556" stop-color="#0e0206"/><stop offset="0.0926" stop-color="#0e0206"/><stop offset="0.1296" stop-color="#0e0206"/><stop offset="0.1667" stop-color="#3e1f24"/><stop offset="0.2037" stop-color="#21080e"/><stop offset="0.2407" stop-color="#0e0206"/><stop offset="0.2778" stop-color="#0e0206"/><stop offset="0.3148" stop-color="#3e1f24"/><stop offset="0.3519" stop-color="#9a6262"/><stop offset="0.3889" stop-color="#ab6f6e"/><stop offset="0.4259" stop-color="#ab6f6e"/><stop offset="0.4630" stop-color="#21080e"/><stop offset="0.5000" stop-color="#0e0206"/><stop offset="0.5370" stop-color="#0e0206"/><stop offset="0.5741" stop-color="#0e0206"/><stop offset="0.6111" stop-color="#21080e"/><stop offset="0.6481" stop-color="#0e0206"/><stop offset="0.6852" stop-color="#21080e"/><stop offset="0.7222" stop-color="#885657"/><stop offset="0.7593" stop-color="#ab6f6e"/><stop offset="0.7963" stop-color="#613a3d"/><stop offset="0.8333" stop-color="#0e0206"/><stop offset="0.8704" stop-color="#0e0206"/><stop offset="0.9074" stop-color="#21080e"/><stop offset="0.9444" stop-color="#885657"/><stop offset="0.9815" stop-color="#ab6f6e"/></linearGradient><linearGradient id="hb6" x1="0" y1="0" x2="1" y2="0"><stop offset="0.0185" stop-color="#21080e"/><stop offset="0.0556" stop-color="#0e0206"/><stop offset="0.0926" stop-color="#0e0206"/><stop offset="0.1296" stop-color="#3e1f24"/><stop offset="0.1667" stop-color="#0e0206"/><stop offset="0.2037" stop-color="#0e0206"/><stop offset="0.2407" stop-color="#0e0206"/><stop offset="0.2778" stop-color="#0e0206"/><stop offset="0.3148" stop-color="#21080e"/><stop offset="0.3519" stop-color="#9a6262"/><stop offset="0.3889" stop-color="#c4807c"/><stop offset="0.4259" stop-color="#d2a68e"/><stop offset="0.4630" stop-color="#3e1f24"/><stop offset="0.5000" stop-color="#0e0206"/><stop offset="0.5370" stop-color="#3e1f24"/><stop offset="0.5741" stop-color="#3e1f24"/><stop offset="0.6111" stop-color="#0e0206"/><stop offset="0.6481" stop-color="#0e0206"/><stop offset="0.6852" stop-color="#0e0206"/><stop offset="0.7222" stop-color="#3e1f24"/><stop offset="0.7593" stop-color="#ab6f6e"/><stop offset="0.7963" stop-color="#885657"/><stop offset="0.8333" stop-color="#613a3d"/><stop offset="0.8704" stop-color="#613a3d"/><stop offset="0.9074" stop-color="#613a3d"/><stop offset="0.9444" stop-color="#885657"/><stop offset="0.9815" stop-color="#885657"/></linearGradient><linearGradient id="hb7" x1="0" y1="0" x2="1" y2="0"><stop offset="0.0185" stop-color="#21080e"/><stop offset="0.0556" stop-color="#21080e"/><stop offset="0.0926" stop-color="#0e0206"/><stop offset="0.1296" stop-color="#0e0206"/><stop offset="0.1667" stop-color="#0e0206"/><stop offset="0.2037" stop-color="#21080e"/><stop offset="0.2407" stop-color="#3e1f24"/><stop offset="0.2778" stop-color="#3e1f24"/><stop offset="0.3148" stop-color="#3e1f24"/><stop offset="0.3519" stop-color="#74484a"/><stop offset="0.3889" stop-color="#c4807c"/><stop offset="0.4259" stop-color="#ab6f6e"/><stop offset="0.4630" stop-color="#613a3d"/><stop offset="0.5000" stop-color="#0e0206"/><stop offset="0.5370" stop-color="#0e0206"/><stop offset="0.5741" stop-color="#0e0206"/><stop offset="0.6111" stop-color="#0e0206"/><stop offset="0.6481" stop-color="#0e0206"/><stop offset="0.6852" stop-color="#0e0206"/><stop offset="0.7222" stop-color="#613a3d"/><stop offset="0.7593" stop-color="#885657"/><stop offset="0.7963" stop-color="#885657"/><stop offset="0.8333" stop-color="#3e1f24"/><stop offset="0.8704" stop-color="#3e1f24"/><stop offset="0.9074" stop-color="#613a3d"/><stop offset="0.9444" stop-color="#21080e"/><stop offset="0.9815" stop-color="#21080e"/></linearGradient><linearGradient id="hb8" x1="0" y1="0" x2="1" y2="0"><stop offset="0.0185" stop-color="#3e1f24"/><stop offset="0.0556" stop-color="#21080e"/><stop offset="0.0926" stop-color="#0e0206"/><stop offset="0.1296" stop-color="#3e1f24"/><stop offset="0.1667" stop-color="#0e0206"/><stop offset="0.2037" stop-color="#21080e"/><stop offset="0.2407" stop-color="#3e1f24"/><stop offset="0.2778" stop-color="#ab6f6e"/><stop offset="0.3148" stop-color="#c4807c"/><stop offset="0.3519" stop-color="#ab6f6e"/><stop offset="0.3889" stop-color="#ab6f6e"/><stop offset="0.4259" stop-color="#ab6f6e"/><stop offset="0.4630" stop-color="#885657"/><stop offset="0.5000" stop-color="#0e0206"/><stop offset="0.5370" stop-color="#0e0206"/><stop offset="0.5741" stop-color="#21080e"/><stop offset="0.6111" stop-color="#613a3d"/><stop offset="0.6481" stop-color="#3e1f24"/><stop offset="0.6852" stop-color="#885657"/><stop offset="0.7222" stop-color="#ab6f6e"/><stop offset="0.7593" stop-color="#ab6f6e"/><stop offset="0.7963" stop-color="#3e1f24"/><stop offset="0.8333" stop-color="#0e0206"/><stop offset="0.8704" stop-color="#21080e"/><stop offset="0.9074" stop-color="#ab6f6e"/><stop offset="0.9444" stop-color="#ab6f6e"/><stop offset="0.9815" stop-color="#885657"/></linearGradient><linearGradient id="hb9" x1="0" y1="0" x2="1" y2="0"><stop offset="0.0185" stop-color="#0e0206"/><stop offset="0.0556" stop-color="#0e0206"/><stop offset="0.0926" stop-color="#613a3d"/><stop offset="0.1296" stop-color="#613a3d"/><stop offset="0.1667" stop-color="#613a3d"/><stop offset="0.2037" stop-color="#613a3d"/><stop offset="0.2407" stop-color="#613a3d"/><stop offset="0.2778" stop-color="#613a3d"/><stop offset="0.3148" stop-color="#613a3d"/><stop offset="0.3519" stop-color="#613a3d"/><stop offset="0.3889" stop-color="#613a3d"/><stop offset="0.4259" stop-color="#613a3d"/><stop offset="0.4630" stop-color="#613a3d"/><stop offset="0.5000" stop-color="#0e0206"/><stop offset="0.5370" stop-color="#21080e"/><stop offset="0.5741" stop-color="#885657"/><stop offset="0.6111" stop-color="#885657"/><stop offset="0.6481" stop-color="#613a3d"/><stop offset="0.6852" stop-color="#3e1f24"/><stop offset="0.7222" stop-color="#613a3d"/><stop offset="0.7593" stop-color="#613a3d"/><stop offset="0.7963" stop-color="#885657"/><stop offset="0.8333" stop-color="#613a3d"/><stop offset="0.8704" stop-color="#3e1f24"/><stop offset="0.9074" stop-color="#0e0206"/><stop offset="0.9444" stop-color="#3e1f24"/><stop offset="0.9815" stop-color="#613a3d"/></linearGradient><linearGradient id="hb10" x1="0" y1="0" x2="1" y2="0"><stop offset="0.0185" stop-color="#21080e"/><stop offset="0.0556" stop-color="#0e0206"/><stop offset="0.0926" stop-color="#0e0206"/><stop offset="0.1296" stop-color="#0e0206"/><stop offset="0.1667" stop-color="#3e1f24"/><stop offset="0.2037" stop-color="#0e0206"/><stop offset="0.2407" stop-color="#0e0206"/><stop offset="0.2778" stop-color="#0e0206"/><stop offset="0.3148" stop-color="#613a3d"/><stop offset="0.3519" stop-color="#613a3d"/><stop offset="0.3889" stop-color="#3e1f24"/><stop offset="0.4259" stop-color="#3e1f24"/><stop offset="0.4630" stop-color="#21080e"/><stop offset="0.5000" stop-color="#0e0206"/><stop offset="0.5370" stop-color="#0e0206"/><stop offset="0.5741" stop-color="#0e0206"/><stop offset="0.6111" stop-color="#0e0206"/><stop offset="0.6481" stop-color="#21080e"/><stop offset="0.6852" stop-color="#21080e"/><stop offset="0.7222" stop-color="#0e0206"/><stop offset="0.7593" stop-color="#0e0206"/><stop offset="0.7963" stop-color="#3e1f24"/><stop offset="0.8333" stop-color="#21080e"/><stop offset="0.8704" stop-color="#0e0206"/><stop offset="0.9074" stop-color="#0e0206"/><stop offset="0.9444" stop-color="#0e0206"/><stop offset="0.9815" stop-color="#3e1f24"/></linearGradient><linearGradient id="hb11" x1="0" y1="0" x2="1" y2="0"><stop offset="0.0185" stop-color="#613a3d"/><stop offset="0.0556" stop-color="#613a3d"/><stop offset="0.0926" stop-color="#0e0206"/><stop offset="0.1296" stop-color="#0e0206"/><stop offset="0.1667" stop-color="#0e0206"/><stop offset="0.2037" stop-color="#0e0206"/><stop offset="0.2407" stop-color="#21080e"/><stop offset="0.2778" stop-color="#3e1f24"/><stop offset="0.3148" stop-color="#613a3d"/><stop offset="0.3519" stop-color="#3e1f24"/><stop offset="0.3889" stop-color="#3e1f24"/><stop offset="0.4259" stop-color="#613a3d"/><stop offset="0.4630" stop-color="#21080e"/><stop offset="0.5000" stop-color="#0e0206"/><stop offset="0.5370" stop-color="#3e1f24"/><stop offset="0.5741" stop-color="#3e1f24"/><stop offset="0.6111" stop-color="#3e1f24"/><stop offset="0.6481" stop-color="#613a3d"/><stop offset="0.6852" stop-color="#21080e"/><stop offset="0.7222" stop-color="#613a3d"/><stop offset="0.7593" stop-color="#885657"/><stop offset="0.7963" stop-color="#0e0206"/><stop offset="0.8333" stop-color="#0e0206"/><stop offset="0.8704" stop-color="#0e0206"/><stop offset="0.9074" stop-color="#0e0206"/><stop offset="0.9444" stop-color="#0e0206"/><stop offset="0.9815" stop-color="#3e1f24"/></linearGradient><linearGradient id="hb12" x1="0" y1="0" x2="1" y2="0"><stop offset="0.0185" stop-color="#885657"/><stop offset="0.0556" stop-color="#0e0206"/><stop offset="0.0926" stop-color="#0e0206"/><stop offset="0.1296" stop-color="#0e0206"/><stop offset="0.1667" stop-color="#885657"/><stop offset="0.2037" stop-color="#885657"/><stop offset="0.2407" stop-color="#885657"/><stop offset="0.2778" stop-color="#885657"/><stop offset="0.3148" stop-color="#0e0206"/><stop offset="0.3519" stop-color="#0e0206"/><stop offset="0.3889" stop-color="#0e0206"/><stop offset="0.4259" stop-color="#885657"/><stop offset="0.4630" stop-color="#d2a68e"/><stop offset="0.5000" stop-color="#613a3d"/><stop offset="0.5370" stop-color="#ab6f6e"/><stop offset="0.5741" stop-color="#ab6f6e"/><stop offset="0.6111" stop-color="#885657"/><stop offset="0.6481" stop-color="#0e0206"/><stop offset="0.6852" stop-color="#0e0206"/><stop offset="0.7222" stop-color="#0e0206"/><stop offset="0.7593" stop-color="#21080e"/><stop offset="0.7963" stop-color="#885657"/><stop offset="0.8333" stop-color="#ececcd"/><stop offset="0.8704" stop-color="#ab6f6e"/><stop offset="0.9074" stop-color="#ab6f6e"/><stop offset="0.9444" stop-color="#885657"/><stop offset="0.9815" stop-color="#885657"/></linearGradient><linearGradient id="hb13" x1="0" y1="0" x2="1" y2="0"><stop offset="0.0185" stop-color="#885657"/><stop offset="0.0556" stop-color="#0e0206"/><stop offset="0.0926" stop-color="#0e0206"/><stop offset="0.1296" stop-color="#3e1f24"/><stop offset="0.1667" stop-color="#885657"/><stop offset="0.2037" stop-color="#ab6f6e"/><stop offset="0.2407" stop-color="#ab6f6e"/><stop offset="0.2778" stop-color="#613a3d"/><stop offset="0.3148" stop-color="#0e0206"/><stop offset="0.3519" stop-color="#0e0206"/><stop offset="0.3889" stop-color="#0e0206"/><stop offset="0.4259" stop-color="#885657"/><stop offset="0.4630" stop-color="#c4807c"/><stop offset="0.5000" stop-color="#3e1f24"/><stop offset="0.5370" stop-color="#ab6f6e"/><stop offset="0.5741" stop-color="#ab6f6e"/><stop offset="0.6111" stop-color="#885657"/><stop offset="0.6481" stop-color="#0e0206"/><stop offset="0.6852" stop-color="#0e0206"/><stop offset="0.7222" stop-color="#0e0206"/><stop offset="0.7593" stop-color="#21080e"/><stop offset="0.7963" stop-color="#c4807c"/><stop offset="0.8333" stop-color="#dedeac"/><stop offset="0.8704" stop-color="#ab6f6e"/><stop offset="0.9074" stop-color="#ab6f6e"/><stop offset="0.9444" stop-color="#ab6f6e"/><stop offset="0.9815" stop-color="#613a3d"/></linearGradient><linearGradient id="hb14" x1="0" y1="0" x2="1" y2="0"><stop offset="0.0185" stop-color="#885657"/><stop offset="0.0556" stop-color="#885657"/><stop offset="0.0926" stop-color="#885657"/><stop offset="0.1296" stop-color="#885657"/><stop offset="0.1667" stop-color="#885657"/><stop offset="0.2037" stop-color="#885657"/><stop offset="0.2407" stop-color="#885657"/><stop offset="0.2778" stop-color="#885657"/><stop offset="0.3148" stop-color="#21080e"/><stop offset="0.3519" stop-color="#0e0206"/><stop offset="0.3889" stop-color="#0e0206"/><stop offset="0.4259" stop-color="#885657"/><stop offset="0.4630" stop-color="#ab6f6e"/><stop offset="0.5000" stop-color="#885657"/><stop offset="0.5370" stop-color="#ab6f6e"/><stop offset="0.5741" stop-color="#ab6f6e"/><stop offset="0.6111" stop-color="#885657"/><stop offset="0.6481" stop-color="#21080e"/><stop offset="0.6852" stop-color="#885657"/><stop offset="0.7222" stop-color="#885657"/><stop offset="0.7593" stop-color="#885657"/><stop offset="0.7963" stop-color="#885657"/><stop offset="0.8333" stop-color="#885657"/><stop offset="0.8704" stop-color="#885657"/><stop offset="0.9074" stop-color="#885657"/><stop offset="0.9444" stop-color="#885657"/><stop offset="0.9815" stop-color="#885657"/></linearGradient><linearGradient id="hb15" x1="0" y1="0" x2="1" y2="0"><stop offset="0.0185" stop-color="#885657"/><stop offset="0.0556" stop-color="#0e0206"/><stop offset="0.0926" stop-color="#0e0206"/><stop offset="0.1296" stop-color="#0e0206"/><stop offset="0.1667" stop-color="#0e0206"/><stop offset="0.2037" stop-color="#21080e"/><stop offset="0.2407" stop-color="#3e1f24"/><stop offset="0.2778" stop-color="#21080e"/><stop offset="0.3148" stop-color="#0e0206"/><stop offset="0.3519" stop-color="#0e0206"/><stop offset="0.3889" stop-color="#0e0206"/><stop offset="0.4259" stop-color="#0e0206"/><stop offset="0.4630" stop-color="#3e1f24"/><stop offset="0.5000" stop-color="#3e1f24"/><stop offset="0.5370" stop-color="#885657"/><stop offset="0.5741" stop-color="#885657"/><stop offset="0.6111" stop-color="#885657"/><stop offset="0.6481" stop-color="#0e0206"/><stop offset="0.6852" stop-color="#0e0206"/><stop offset="0.7222" stop-color="#21080e"/><stop offset="0.7593" stop-color="#3e1f24"/><stop offset="0.7963" stop-color="#885657"/><stop offset="0.8333" stop-color="#ab6f6e"/><stop offset="0.8704" stop-color="#ab6f6e"/><stop offset="0.9074" stop-color="#ab6f6e"/><stop offset="0.9444" stop-color="#613a3d"/><stop offset="0.9815" stop-color="#3e1f24"/></linearGradient><linearGradient id="hb16" x1="0" y1="0" x2="1" y2="0"><stop offset="0.0185" stop-color="#21080e"/><stop offset="0.0556" stop-color="#0e0206"/><stop offset="0.0926" stop-color="#0e0206"/><stop offset="0.1296" stop-color="#0e0206"/><stop offset="0.1667" stop-color="#0e0206"/><stop offset="0.2037" stop-color="#0e0206"/><stop offset="0.2407" stop-color="#3e1f24"/><stop offset="0.2778" stop-color="#21080e"/><stop offset="0.3148" stop-color="#0e0206"/><stop offset="0.3519" stop-color="#0e0206"/><stop offset="0.3889" stop-color="#0e0206"/><stop offset="0.4259" stop-color="#0e0206"/><stop offset="0.4630" stop-color="#3e1f24"/><stop offset="0.5000" stop-color="#3e1f24"/><stop offset="0.5370" stop-color="#885657"/><stop offset="0.5741" stop-color="#885657"/><stop offset="0.6111" stop-color="#613a3d"/><stop offset="0.6481" stop-color="#885657"/><stop offset="0.6852" stop-color="#885657"/><stop offset="0.7222" stop-color="#885657"/><stop offset="0.7593" stop-color="#613a3d"/><stop offset="0.7963" stop-color="#885657"/><stop offset="0.8333" stop-color="#885657"/><stop offset="0.8704" stop-color="#885657"/><stop offset="0.9074" stop-color="#885657"/><stop offset="0.9444" stop-color="#613a3d"/><stop offset="0.9815" stop-color="#613a3d"/></linearGradient><linearGradient id="hb17" x1="0" y1="0" x2="1" y2="0"><stop offset="0.0185" stop-color="#885657"/><stop offset="0.0556" stop-color="#0e0206"/><stop offset="0.0926" stop-color="#0e0206"/><stop offset="0.1296" stop-color="#0e0206"/><stop offset="0.1667" stop-color="#0e0206"/><stop offset="0.2037" stop-color="#21080e"/><stop offset="0.2407" stop-color="#3e1f24"/><stop offset="0.2778" stop-color="#21080e"/><stop offset="0.3148" stop-color="#0e0206"/><stop offset="0.3519" stop-color="#0e0206"/><stop offset="0.3889" stop-color="#0e0206"/><stop offset="0.4259" stop-color="#0e0206"/><stop offset="0.4630" stop-color="#3e1f24"/><stop offset="0.5000" stop-color="#3e1f24"/><stop offset="0.5370" stop-color="#885657"/><stop offset="0.5741" stop-color="#885657"/><stop offset="0.6111" stop-color="#3e1f24"/><stop offset="0.6481" stop-color="#0e0206"/><stop offset="0.6852" stop-color="#0e0206"/><stop offset="0.7222" stop-color="#0e0206"/><stop offset="0.7593" stop-color="#21080e"/><stop offset="0.7963" stop-color="#885657"/><stop offset="0.8333" stop-color="#ab6f6e"/><stop offset="0.8704" stop-color="#ab6f6e"/><stop offset="0.9074" stop-color="#ab6f6e"/><stop offset="0.9444" stop-color="#613a3d"/><stop offset="0.9815" stop-color="#613a3d"/></linearGradient><linearGradient id="hb18" x1="0" y1="0" x2="1" y2="0"><stop offset="0.0185" stop-color="#0e0206"/><stop offset="0.0556" stop-color="#0e0206"/><stop offset="0.0926" stop-color="#21080e"/><stop offset="0.1296" stop-color="#21080e"/><stop offset="0.1667" stop-color="#3e1f24"/><stop offset="0.2037" stop-color="#3e1f24"/><stop offset="0.2407" stop-color="#21080e"/><stop offset="0.2778" stop-color="#0e0206"/><stop offset="0.3148" stop-color="#3e1f24"/><stop offset="0.3519" stop-color="#21080e"/><stop offset="0.3889" stop-color="#21080e"/><stop offset="0.4259" stop-color="#0e0206"/><stop offset="0.4630" stop-color="#3e1f24"/><stop offset="0.5000" stop-color="#0e0206"/><stop offset="0.5370" stop-color="#21080e"/><stop offset="0.5741" stop-color="#613a3d"/><stop offset="0.6111" stop-color="#885657"/><stop offset="0.6481" stop-color="#ab6f6e"/><stop offset="0.6852" stop-color="#613a3d"/><stop offset="0.7222" stop-color="#613a3d"/><stop offset="0.7593" stop-color="#613a3d"/><stop offset="0.7963" stop-color="#613a3d"/><stop offset="0.8333" stop-color="#21080e"/><stop offset="0.8704" stop-color="#613a3d"/><stop offset="0.9074" stop-color="#613a3d"/><stop offset="0.9444" stop-color="#613a3d"/><stop offset="0.9815" stop-color="#613a3d"/></linearGradient><linearGradient id="hb19" x1="0" y1="0" x2="1" y2="0"><stop offset="0.0185" stop-color="#0e0206"/><stop offset="0.0556" stop-color="#0e0206"/><stop offset="0.0926" stop-color="#3e1f24"/><stop offset="0.1296" stop-color="#613a3d"/><stop offset="0.1667" stop-color="#613a3d"/><stop offset="0.2037" stop-color="#613a3d"/><stop offset="0.2407" stop-color="#613a3d"/><stop offset="0.2778" stop-color="#0e0206"/><stop offset="0.3148" stop-color="#0e0206"/><stop offset="0.3519" stop-color="#0e0206"/><stop offset="0.3889" stop-color="#0e0206"/><stop offset="0.4259" stop-color="#613a3d"/><stop offset="0.4630" stop-color="#885657"/><stop offset="0.5000" stop-color="#3e1f24"/><stop offset="0.5370" stop-color="#613a3d"/><stop offset="0.5741" stop-color="#885657"/><stop offset="0.6111" stop-color="#885657"/><stop offset="0.6481" stop-color="#885657"/><stop offset="0.6852" stop-color="#885657"/><stop offset="0.7222" stop-color="#885657"/><stop offset="0.7593" stop-color="#885657"/><stop offset="0.7963" stop-color="#885657"/><stop offset="0.8333" stop-color="#885657"/><stop offset="0.8704" stop-color="#885657"/><stop offset="0.9074" stop-color="#885657"/><stop offset="0.9444" stop-color="#885657"/><stop offset="0.9815" stop-color="#613a3d"/></linearGradient><linearGradient id="hb20" x1="0" y1="0" x2="1" y2="0"><stop offset="0.0185" stop-color="#613a3d"/><stop offset="0.0556" stop-color="#613a3d"/><stop offset="0.0926" stop-color="#613a3d"/><stop offset="0.1296" stop-color="#613a3d"/><stop offset="0.1667" stop-color="#613a3d"/><stop offset="0.2037" stop-color="#613a3d"/><stop offset="0.2407" stop-color="#613a3d"/><stop offset="0.2778" stop-color="#613a3d"/><stop offset="0.3148" stop-color="#3e1f24"/><stop offset="0.3519" stop-color="#3e1f24"/><stop offset="0.3889" stop-color="#613a3d"/><stop offset="0.4259" stop-color="#613a3d"/><stop offset="0.4630" stop-color="#613a3d"/><stop offset="0.5000" stop-color="#613a3d"/><stop offset="0.5370" stop-color="#885657"/><stop offset="0.5741" stop-color="#885657"/><stop offset="0.6111" stop-color="#885657"/><stop offset="0.6481" stop-color="#885657"/><stop offset="0.6852" stop-color="#3e1f24"/><stop offset="0.7222" stop-color="#885657"/><stop offset="0.7593" stop-color="#885657"/><stop offset="0.7963" stop-color="#885657"/><stop offset="0.8333" stop-color="#613a3d"/><stop offset="0.8704" stop-color="#885657"/><stop offset="0.9074" stop-color="#885657"/><stop offset="0.9444" stop-color="#885657"/><stop offset="0.9815" stop-color="#613a3d"/></linearGradient><linearGradient id="hb21" x1="0" y1="0" x2="1" y2="0"><stop offset="0.0185" stop-color="#0e0206"/><stop offset="0.0556" stop-color="#0e0206"/><stop offset="0.0926" stop-color="#3e1f24"/><stop offset="0.1296" stop-color="#613a3d"/><stop offset="0.1667" stop-color="#613a3d"/><stop offset="0.2037" stop-color="#885657"/><stop offset="0.2407" stop-color="#ab6f6e"/><stop offset="0.2778" stop-color="#885657"/><stop offset="0.3148" stop-color="#885657"/><stop offset="0.3519" stop-color="#885657"/><stop offset="0.3889" stop-color="#3e1f24"/><stop offset="0.4259" stop-color="#613a3d"/><stop offset="0.4630" stop-color="#613a3d"/><stop offset="0.5000" stop-color="#3e1f24"/><stop offset="0.5370" stop-color="#21080e"/><stop offset="0.5741" stop-color="#613a3d"/><stop offset="0.6111" stop-color="#613a3d"/><stop offset="0.6481" stop-color="#613a3d"/><stop offset="0.6852" stop-color="#613a3d"/><stop offset="0.7222" stop-color="#613a3d"/><stop offset="0.7593" stop-color="#613a3d"/><stop offset="0.7963" stop-color="#ab6f6e"/><stop offset="0.8333" stop-color="#885657"/><stop offset="0.8704" stop-color="#21080e"/><stop offset="0.9074" stop-color="#21080e"/><stop offset="0.9444" stop-color="#3e1f24"/><stop offset="0.9815" stop-color="#21080e"/></linearGradient><linearGradient id="hb22" x1="0" y1="0" x2="1" y2="0"><stop offset="0.0185" stop-color="#0e0206"/><stop offset="0.0556" stop-color="#0e0206"/><stop offset="0.0926" stop-color="#3e1f24"/><stop offset="0.1296" stop-color="#613a3d"/><stop offset="0.1667" stop-color="#613a3d"/><stop offset="0.2037" stop-color="#613a3d"/><stop offset="0.2407" stop-color="#613a3d"/><stop offset="0.2778" stop-color="#21080e"/><stop offset="0.3148" stop-color="#613a3d"/><stop offset="0.3519" stop-color="#613a3d"/><stop offset="0.3889" stop-color="#3e1f24"/><stop offset="0.4259" stop-color="#885657"/><stop offset="0.4630" stop-color="#ab6f6e"/><stop offset="0.5000" stop-color="#613a3d"/><stop offset="0.5370" stop-color="#613a3d"/><stop offset="0.5741" stop-color="#885657"/><stop offset="0.6111" stop-color="#885657"/><stop offset="0.6481" stop-color="#885657"/><stop offset="0.6852" stop-color="#885657"/><stop offset="0.7222" stop-color="#885657"/><stop offset="0.7593" stop-color="#885657"/><stop offset="0.7963" stop-color="#885657"/><stop offset="0.8333" stop-color="#885657"/><stop offset="0.8704" stop-color="#613a3d"/><stop offset="0.9074" stop-color="#613a3d"/><stop offset="0.9444" stop-color="#613a3d"/><stop offset="0.9815" stop-color="#613a3d"/></linearGradient><linearGradient id="hb23" x1="0" y1="0" x2="1" y2="0"><stop offset="0.0185" stop-color="#885657"/><stop offset="0.0556" stop-color="#613a3d"/><stop offset="0.0926" stop-color="#613a3d"/><stop offset="0.1296" stop-color="#613a3d"/><stop offset="0.1667" stop-color="#613a3d"/><stop offset="0.2037" stop-color="#613a3d"/><stop offset="0.2407" stop-color="#613a3d"/><stop offset="0.2778" stop-color="#613a3d"/><stop offset="0.3148" stop-color="#613a3d"/><stop offset="0.3519" stop-color="#3e1f24"/><stop offset="0.3889" stop-color="#21080e"/><stop offset="0.4259" stop-color="#613a3d"/><stop offset="0.4630" stop-color="#885657"/><stop offset="0.5000" stop-color="#3e1f24"/><stop offset="0.5370" stop-color="#613a3d"/><stop offset="0.5741" stop-color="#613a3d"/><stop offset="0.6111" stop-color="#613a3d"/><stop offset="0.6481" stop-color="#0e0206"/><stop offset="0.6852" stop-color="#0e0206"/><stop offset="0.7222" stop-color="#613a3d"/><stop offset="0.7593" stop-color="#613a3d"/><stop offset="0.7963" stop-color="#613a3d"/><stop offset="0.8333" stop-color="#613a3d"/><stop offset="0.8704" stop-color="#613a3d"/><stop offset="0.9074" stop-color="#613a3d"/><stop offset="0.9444" stop-color="#613a3d"/><stop offset="0.9815" stop-color="#613a3d"/></linearGradient><linearGradient id="hb24" x1="0" y1="0" x2="1" y2="0"><stop offset="0.0185" stop-color="#0e0206"/><stop offset="0.0556" stop-color="#0e0206"/><stop offset="0.0926" stop-color="#0e0206"/><stop offset="0.1296" stop-color="#0e0206"/><stop offset="0.1667" stop-color="#0e0206"/><stop offset="0.2037" stop-color="#0e0206"/><stop offset="0.2407" stop-color="#0e0206"/><stop offset="0.2778" stop-color="#3e1f24"/><stop offset="0.3148" stop-color="#0e0206"/><stop offset="0.3519" stop-color="#0e0206"/><stop offset="0.3889" stop-color="#0e0206"/><stop offset="0.4259" stop-color="#0e0206"/><stop offset="0.4630" stop-color="#0e0206"/><stop offset="0.5000" stop-color="#21080e"/><stop offset="0.5370" stop-color="#885657"/><stop offset="0.5741" stop-color="#885657"/><stop offset="0.6111" stop-color="#613a3d"/><stop offset="0.6481" stop-color="#613a3d"/><stop offset="0.6852" stop-color="#0e0206"/><stop offset="0.7222" stop-color="#0e0206"/><stop offset="0.7593" stop-color="#613a3d"/><stop offset="0.7963" stop-color="#613a3d"/><stop offset="0.8333" stop-color="#3e1f24"/><stop offset="0.8704" stop-color="#613a3d"/><stop offset="0.9074" stop-color="#613a3d"/><stop offset="0.9444" stop-color="#0e0206"/><stop offset="0.9815" stop-color="#0e0206"/></linearGradient><linearGradient id="hb25" x1="0" y1="0" x2="1" y2="0"><stop offset="0.0185" stop-color="#0e0206"/><stop offset="0.0556" stop-color="#0e0206"/><stop offset="0.0926" stop-color="#0e0206"/><stop offset="0.1296" stop-color="#0e0206"/><stop offset="0.1667" stop-color="#0e0206"/><stop offset="0.2037" stop-color="#0e0206"/><stop offset="0.2407" stop-color="#0e0206"/><stop offset="0.2778" stop-color="#0e0206"/><stop offset="0.3148" stop-color="#0e0206"/><stop offset="0.3519" stop-color="#0e0206"/><stop offset="0.3889" stop-color="#0e0206"/><stop offset="0.4259" stop-color="#613a3d"/><stop offset="0.4630" stop-color="#613a3d"/><stop offset="0.5000" stop-color="#613a3d"/><stop offset="0.5370" stop-color="#0e0206"/><stop offset="0.5741" stop-color="#0e0206"/><stop offset="0.6111" stop-color="#0e0206"/><stop offset="0.6481" stop-color="#0e0206"/><stop offset="0.6852" stop-color="#3e1f24"/><stop offset="0.7222" stop-color="#3e1f24"/><stop offset="0.7593" stop-color="#21080e"/><stop offset="0.7963" stop-color="#ab6f6e"/><stop offset="0.8333" stop-color="#885657"/><stop offset="0.8704" stop-color="#0e0206"/><stop offset="0.9074" stop-color="#0e0206"/><stop offset="0.9444" stop-color="#0e0206"/><stop offset="0.9815" stop-color="#0e0206"/></linearGradient><linearGradient id="hb26" x1="0" y1="0" x2="1" y2="0"><stop offset="0.0185" stop-color="#613a3d"/><stop offset="0.0556" stop-color="#613a3d"/><stop offset="0.0926" stop-color="#21080e"/><stop offset="0.1296" stop-color="#0e0206"/><stop offset="0.1667" stop-color="#0e0206"/><stop offset="0.2037" stop-color="#0e0206"/><stop offset="0.2407" stop-color="#0e0206"/><stop offset="0.2778" stop-color="#3e1f24"/><stop offset="0.3148" stop-color="#885657"/><stop offset="0.3519" stop-color="#613a3d"/><stop offset="0.3889" stop-color="#0e0206"/><stop offset="0.4259" stop-color="#21080e"/><stop offset="0.4630" stop-color="#3e1f24"/><stop offset="0.5000" stop-color="#21080e"/><stop offset="0.5370" stop-color="#0e0206"/><stop offset="0.5741" stop-color="#21080e"/><stop offset="0.6111" stop-color="#3e1f24"/><stop offset="0.6481" stop-color="#3e1f24"/><stop offset="0.6852" stop-color="#3e1f24"/><stop offset="0.7222" stop-color="#21080e"/><stop offset="0.7593" stop-color="#3e1f24"/><stop offset="0.7963" stop-color="#613a3d"/><stop offset="0.8333" stop-color="#613a3d"/><stop offset="0.8704" stop-color="#3e1f24"/><stop offset="0.9074" stop-color="#613a3d"/><stop offset="0.9444" stop-color="#613a3d"/><stop offset="0.9815" stop-color="#0e0206"/></linearGradient><linearGradient id="hb27" x1="0" y1="0" x2="1" y2="0"><stop offset="0.0185" stop-color="#21080e"/><stop offset="0.0556" stop-color="#21080e"/><stop offset="0.0926" stop-color="#21080e"/><stop offset="0.1296" stop-color="#21080e"/><stop offset="0.1667" stop-color="#3e1f24"/><stop offset="0.2037" stop-color="#613a3d"/><stop offset="0.2407" stop-color="#613a3d"/><stop offset="0.2778" stop-color="#613a3d"/><stop offset="0.3148" stop-color="#613a3d"/><stop offset="0.3519" stop-color="#613a3d"/><stop offset="0.3889" stop-color="#613a3d"/><stop offset="0.4259" stop-color="#613a3d"/><stop offset="0.4630" stop-color="#613a3d"/><stop offset="0.5000" stop-color="#613a3d"/><stop offset="0.5370" stop-color="#613a3d"/><stop offset="0.5741" stop-color="#885657"/><stop offset="0.6111" stop-color="#885657"/><stop offset="0.6481" stop-color="#ab6f6e"/><stop offset="0.6852" stop-color="#885657"/><stop offset="0.7222" stop-color="#885657"/><stop offset="0.7593" stop-color="#885657"/><stop offset="0.7963" stop-color="#885657"/><stop offset="0.8333" stop-color="#613a3d"/><stop offset="0.8704" stop-color="#613a3d"/><stop offset="0.9074" stop-color="#21080e"/><stop offset="0.9444" stop-color="#613a3d"/><stop offset="0.9815" stop-color="#613a3d"/></linearGradient><linearGradient id="hb28" x1="0" y1="0" x2="1" y2="0"><stop offset="0.0185" stop-color="#0e0206"/><stop offset="0.0556" stop-color="#0e0206"/><stop offset="0.0926" stop-color="#0e0206"/><stop offset="0.1296" stop-color="#0e0206"/><stop offset="0.1667" stop-color="#21080e"/><stop offset="0.2037" stop-color="#885657"/><stop offset="0.2407" stop-color="#ab6f6e"/><stop offset="0.2778" stop-color="#885657"/><stop offset="0.3148" stop-color="#885657"/><stop offset="0.3519" stop-color="#885657"/><stop offset="0.3889" stop-color="#885657"/><stop offset="0.4259" stop-color="#613a3d"/><stop offset="0.4630" stop-color="#613a3d"/><stop offset="0.5000" stop-color="#613a3d"/><stop offset="0.5370" stop-color="#613a3d"/><stop offset="0.5741" stop-color="#613a3d"/><stop offset="0.6111" stop-color="#613a3d"/><stop offset="0.6481" stop-color="#613a3d"/><stop offset="0.6852" stop-color="#613a3d"/><stop offset="0.7222" stop-color="#613a3d"/><stop offset="0.7593" stop-color="#613a3d"/><stop offset="0.7963" stop-color="#613a3d"/><stop offset="0.8333" stop-color="#613a3d"/><stop offset="0.8704" stop-color="#613a3d"/><stop offset="0.9074" stop-color="#613a3d"/><stop offset="0.9444" stop-color="#613a3d"/><stop offset="0.9815" stop-color="#613a3d"/></linearGradient><linearGradient id="hb29" x1="0" y1="0" x2="1" y2="0"><stop offset="0.0185" stop-color="#613a3d"/><stop offset="0.0556" stop-color="#0e0206"/><stop offset="0.0926" stop-color="#0e0206"/><stop offset="0.1296" stop-color="#0e0206"/><stop offset="0.1667" stop-color="#0e0206"/><stop offset="0.2037" stop-color="#0e0206"/><stop offset="0.2407" stop-color="#0e0206"/><stop offset="0.2778" stop-color="#0e0206"/><stop offset="0.3148" stop-color="#0e0206"/><stop offset="0.3519" stop-color="#0e0206"/><stop offset="0.3889" stop-color="#0e0206"/><stop offset="0.4259" stop-color="#613a3d"/><stop offset="0.4630" stop-color="#885657"/><stop offset="0.5000" stop-color="#885657"/><stop offset="0.5370" stop-color="#3e1f24"/><stop offset="0.5741" stop-color="#3e1f24"/><stop offset="0.6111" stop-color="#0e0206"/><stop offset="0.6481" stop-color="#0e0206"/><stop offset="0.6852" stop-color="#0e0206"/><stop offset="0.7222" stop-color="#0e0206"/><stop offset="0.7593" stop-color="#0e0206"/><stop offset="0.7963" stop-color="#885657"/><stop offset="0.8333" stop-color="#885657"/><stop offset="0.8704" stop-color="#885657"/><stop offset="0.9074" stop-color="#613a3d"/><stop offset="0.9444" stop-color="#0e0206"/><stop offset="0.9815" stop-color="#0e0206"/></linearGradient><linearGradient id="hb30" x1="0" y1="0" x2="1" y2="0"><stop offset="0.0185" stop-color="#0e0206"/><stop offset="0.0556" stop-color="#0e0206"/><stop offset="0.0926" stop-color="#0e0206"/><stop offset="0.1296" stop-color="#0e0206"/><stop offset="0.1667" stop-color="#0e0206"/><stop offset="0.2037" stop-color="#0e0206"/><stop offset="0.2407" stop-color="#613a3d"/><stop offset="0.2778" stop-color="#613a3d"/><stop offset="0.3148" stop-color="#613a3d"/><stop offset="0.3519" stop-color="#3e1f24"/><stop offset="0.3889" stop-color="#0e0206"/><stop offset="0.4259" stop-color="#3e1f24"/><stop offset="0.4630" stop-color="#3e1f24"/><stop offset="0.5000" stop-color="#0e0206"/><stop offset="0.5370" stop-color="#0e0206"/><stop offset="0.5741" stop-color="#3e1f24"/><stop offset="0.6111" stop-color="#3e1f24"/><stop offset="0.6481" stop-color="#3e1f24"/><stop offset="0.6852" stop-color="#0e0206"/><stop offset="0.7222" stop-color="#0e0206"/><stop offset="0.7593" stop-color="#0e0206"/><stop offset="0.7963" stop-color="#0e0206"/><stop offset="0.8333" stop-color="#0e0206"/><stop offset="0.8704" stop-color="#0e0206"/><stop offset="0.9074" stop-color="#0e0206"/><stop offset="0.9444" stop-color="#0e0206"/><stop offset="0.9815" stop-color="#0e0206"/></linearGradient><linearGradient id="hb31" x1="0" y1="0" x2="1" y2="0"><stop offset="0.0185" stop-color="#0e0206"/><stop offset="0.0556" stop-color="#0e0206"/><stop offset="0.0926" stop-color="#0e0206"/><stop offset="0.1296" stop-color="#0e0206"/><stop offset="0.1667" stop-color="#0e0206"/><stop offset="0.2037" stop-color="#0e0206"/><stop offset="0.2407" stop-color="#0e0206"/><stop offset="0.2778" stop-color="#613a3d"/><stop offset="0.3148" stop-color="#885657"/><stop offset="0.3519" stop-color="#3e1f24"/><stop offset="0.3889" stop-color="#0e0206"/><stop offset="0.4259" stop-color="#0e0206"/><stop offset="0.4630" stop-color="#0e0206"/><stop offset="0.5000" stop-color="#0e0206"/><stop offset="0.5370" stop-color="#0e0206"/><stop offset="0.5741" stop-color="#21080e"/><stop offset="0.6111" stop-color="#21080e"/><stop offset="0.6481" stop-color="#0e0206"/><stop offset="0.6852" stop-color="#0e0206"/><stop offset="0.7222" stop-color="#0e0206"/><stop offset="0.7593" stop-color="#0e0206"/><stop offset="0.7963" stop-color="#0e0206"/><stop offset="0.8333" stop-color="#0e0206"/><stop offset="0.8704" stop-color="#3e1f24"/><stop offset="0.9074" stop-color="#3e1f24"/><stop offset="0.9444" stop-color="#21080e"/><stop offset="0.9815" stop-color="#0e0206"/></linearGradient><linearGradient id="hb32" x1="0" y1="0" x2="1" y2="0"><stop offset="0.0185" stop-color="#885657"/><stop offset="0.0556" stop-color="#21080e"/><stop offset="0.0926" stop-color="#0e0206"/><stop offset="0.1296" stop-color="#0e0206"/><stop offset="0.1667" stop-color="#0e0206"/><stop offset="0.2037" stop-color="#21080e"/><stop offset="0.2407" stop-color="#613a3d"/><stop offset="0.2778" stop-color="#613a3d"/><stop offset="0.3148" stop-color="#613a3d"/><stop offset="0.3519" stop-color="#613a3d"/><stop offset="0.3889" stop-color="#885657"/><stop offset="0.4259" stop-color="#885657"/><stop offset="0.4630" stop-color="#613a3d"/><stop offset="0.5000" stop-color="#613a3d"/><stop offset="0.5370" stop-color="#0e0206"/><stop offset="0.5741" stop-color="#21080e"/><stop offset="0.6111" stop-color="#21080e"/><stop offset="0.6481" stop-color="#0e0206"/><stop offset="0.6852" stop-color="#3e1f24"/><stop offset="0.7222" stop-color="#613a3d"/><stop offset="0.7593" stop-color="#613a3d"/><stop offset="0.7963" stop-color="#613a3d"/><stop offset="0.8333" stop-color="#3e1f24"/><stop offset="0.8704" stop-color="#3e1f24"/><stop offset="0.9074" stop-color="#3e1f24"/><stop offset="0.9444" stop-color="#3e1f24"/><stop offset="0.9815" stop-color="#3e1f24"/></linearGradient><linearGradient id="hb33" x1="0" y1="0" x2="1" y2="0"><stop offset="0.0185" stop-color="#0e0206"/><stop offset="0.0556" stop-color="#0e0206"/><stop offset="0.0926" stop-color="#0e0206"/><stop offset="0.1296" stop-color="#0e0206"/><stop offset="0.1667" stop-color="#3e1f24"/><stop offset="0.2037" stop-color="#0e0206"/><stop offset="0.2407" stop-color="#0e0206"/><stop offset="0.2778" stop-color="#0e0206"/><stop offset="0.3148" stop-color="#0e0206"/><stop offset="0.3519" stop-color="#0e0206"/><stop offset="0.3889" stop-color="#0e0206"/><stop offset="0.4259" stop-color="#3e1f24"/><stop offset="0.4630" stop-color="#3e1f24"/><stop offset="0.5000" stop-color="#0e0206"/><stop offset="0.5370" stop-color="#0e0206"/><stop offset="0.5741" stop-color="#0e0206"/><stop offset="0.6111" stop-color="#21080e"/><stop offset="0.6481" stop-color="#21080e"/><stop offset="0.6852" stop-color="#0e0206"/><stop offset="0.7222" stop-color="#0e0206"/><stop offset="0.7593" stop-color="#0e0206"/><stop offset="0.7963" stop-color="#21080e"/><stop offset="0.8333" stop-color="#0e0206"/><stop offset="0.8704" stop-color="#0e0206"/><stop offset="0.9074" stop-color="#0e0206"/><stop offset="0.9444" stop-color="#0e0206"/><stop offset="0.9815" stop-color="#0e0206"/></linearGradient><linearGradient id="hb34" x1="0" y1="0" x2="1" y2="0"><stop offset="0.0185" stop-color="#21080e"/><stop offset="0.0556" stop-color="#3e1f24"/><stop offset="0.0926" stop-color="#21080e"/><stop offset="0.1296" stop-color="#0e0206"/><stop offset="0.1667" stop-color="#0e0206"/><stop offset="0.2037" stop-color="#0e0206"/><stop offset="0.2407" stop-color="#0e0206"/><stop offset="0.2778" stop-color="#21080e"/><stop offset="0.3148" stop-color="#3e1f24"/><stop offset="0.3519" stop-color="#21080e"/><stop offset="0.3889" stop-color="#0e0206"/><stop offset="0.4259" stop-color="#0e0206"/><stop offset="0.4630" stop-color="#0e0206"/><stop offset="0.5000" stop-color="#0e0206"/><stop offset="0.5370" stop-color="#21080e"/><stop offset="0.5741" stop-color="#0e0206"/><stop offset="0.6111" stop-color="#0e0206"/><stop offset="0.6481" stop-color="#0e0206"/><stop offset="0.6852" stop-color="#0e0206"/><stop offset="0.7222" stop-color="#0e0206"/><stop offset="0.7593" stop-color="#0e0206"/><stop offset="0.7963" stop-color="#0e0206"/><stop offset="0.8333" stop-color="#0e0206"/><stop offset="0.8704" stop-color="#0e0206"/><stop offset="0.9074" stop-color="#0e0206"/><stop offset="0.9444" stop-color="#21080e"/><stop offset="0.9815" stop-color="#21080e"/></linearGradient></defs><rect x="0" y="0" width="685" height="723" fill="#ffffff"/><text x="0.0" y="9.7" font-size="13.5" fill="#111" font-weight="bold">A</text>
<text x="349.3" y="9.8" font-size="12" fill="#111" font-weight="bold">B</text>
<text x="111.3" y="25" font-size="13.9" fill="#333">Contingent</text>
<text x="470.3" y="25" font-size="13.9" fill="#333">Yoke</text>
<path d="M40.50,98.80 L40.83,98.80 L41.17,98.80 L41.50,98.79 L41.84,98.79 L42.17,98.78 L42.50,98.77 L42.84,98.76 L43.17,98.74 L43.51,98.73 L43.84,98.71 L44.17,98.69 L44.51,98.68 L44.84,98.66 L45.18,98.63 L45.51,98.61 L45.84,98.59 L46.18,98.56 L46.51,98.54 L46.85,98.51 L47.18,98.48 L47.51,98.44 L47.85,98.40 L48.18,98.34 L48.52,98.27 L48.85,98.19 L49.18,98.10 L49.52,98.00 L49.85,97.89 L50.19,97.77 L50.52,97.65 L50.85,97.52 L51.19,97.38 L51.52,97.23 L51.86,97.08 L52.19,96.92 L52.52,96.75 L52.86,96.58 L53.19,96.38 L53.53,96.11 L53.86,95.76 L54.19,95.35 L54.53,94.87 L54.86,94.35 L55.20,93.80 L55.53,93.21 L55.86,92.61 L56.20,92.00 L56.53,91.39 L56.87,90.79 L57.20,90.21 L57.53,89.67 L57.87,89.16 L58.20,88.71 L58.54,88.32 L58.87,88.00 L59.20,87.75 L59.54,87.58 L59.87,87.41 L60.21,87.25 L60.54,87.09 L60.87,86.94 L61.21,86.79 L61.54,86.66 L61.88,86.54 L62.21,86.43 L62.54,86.33 L62.88,86.25 L63.21,86.19 L63.55,86.14 L63.88,86.11 L64.21,86.10 L64.55,86.12 L64.88,86.17 L65.22,86.25 L65.55,86.36 L65.88,86.49 L66.22,86.63 L66.55,86.80 L66.89,86.97 L67.22,87.15 L67.55,87.34 L67.89,87.53 L68.22,87.71 L68.56,87.92 L68.89,88.15 L69.22,88.42 L69.56,88.72 L69.89,89.04 L70.23,89.38 L70.56,89.73 L70.89,90.10 L71.23,90.48 L71.56,90.87 L71.90,91.25 L72.23,91.64 L72.56,92.02 L72.90,92.39 L73.23,92.76 L73.57,93.10 L73.90,93.43 L74.23,93.74 L74.57,94.02 L74.90,94.28 L75.24,94.52 L75.57,94.76 L75.90,95.00 L76.24,95.23 L76.57,95.46 L76.91,95.69 L77.24,95.91 L77.57,96.12 L77.91,96.32 L78.24,96.52 L78.58,96.71 L78.91,96.89 L79.24,97.06 L79.58,97.22 L79.91,97.37 L80.25,97.50 L80.58,97.63 L80.91,97.75 L81.25,97.87 L81.58,97.99 L81.92,98.11 L82.25,98.22 L82.58,98.33 L82.92,98.44 L83.25,98.55 L83.59,98.65 L83.92,98.74 L84.25,98.83 L84.59,98.91 L84.92,98.99 L85.26,99.06 L85.59,99.12 L85.92,99.18 L86.26,99.23 L86.59,99.27 L86.93,99.29 L87.26,99.32 L87.59,99.34 L87.93,99.36 L88.26,99.38 L88.60,99.40 L88.93,99.42 L89.26,99.44 L89.60,99.45 L89.93,99.47 L90.27,99.49 L90.60,99.50 L90.93,99.51 L91.27,99.53 L91.60,99.54 L91.94,99.55 L92.27,99.56 L92.60,99.57 L92.94,99.58 L93.27,99.58 L93.61,99.59 L93.94,99.59 L94.27,99.60 L94.61,99.60 L94.94,99.60 L95.28,99.59 L95.61,99.57 L95.94,99.53 L96.28,99.47 L96.61,99.39 L96.95,99.30 L97.28,99.19 L97.61,99.06 L97.95,98.92 L98.28,98.76 L98.62,98.59 L98.95,98.41 L99.28,98.21 L99.62,98.00 L99.95,97.78 L100.29,97.54 L100.62,97.30 L100.95,97.04 L101.29,96.70 L101.62,96.16 L101.96,95.46 L102.29,94.62 L102.62,93.65 L102.96,92.58 L103.29,91.44 L103.63,90.23 L103.96,89.00 L104.29,87.76 L104.63,86.53 L104.96,85.33 L105.30,84.08 L105.63,82.64 L105.96,81.08 L106.30,79.44 L106.63,77.78 L106.97,76.18 L107.30,74.68 L107.63,73.34 L107.97,72.23 L108.30,71.40 L108.64,70.73 L108.97,70.08 L109.30,69.45 L109.64,68.85 L109.97,68.29 L110.31,67.78 L110.64,67.32 L110.97,66.93 L111.31,66.60 L111.64,66.35 L111.98,66.18 L112.31,66.10 L112.64,66.13 L112.98,66.26 L113.31,66.48 L113.65,66.79 L113.98,67.17 L114.31,67.61 L114.65,68.11 L114.98,68.65 L115.32,69.23 L115.65,69.83 L115.98,70.44 L116.32,71.06 L116.65,71.69 L116.99,72.44 L117.32,73.30 L117.65,74.27 L117.99,75.32 L118.32,76.45 L118.66,77.64 L118.99,78.88 L119.32,80.14 L119.66,81.42 L119.99,82.69 L120.33,83.95 L120.66,85.18 L120.99,86.35 L121.33,87.47 L121.66,88.56 L122.00,89.72 L122.33,90.92 L122.66,92.12 L123.00,93.30 L123.33,94.43 L123.67,95.47 L124.00,96.39 L124.33,97.16 L124.67,97.75 L125.00,98.22 L125.34,98.67 L125.67,99.10 L126.00,99.49 L126.34,99.82 L126.67,100.09 L127.01,100.29 L127.34,100.39 L127.67,100.40 L128.01,100.40 L128.34,100.40 L128.68,100.40 L129.01,100.40 L129.34,100.40 L129.68,100.40 L130.01,100.40 L130.35,100.40 L130.68,100.40 L131.01,100.40 L131.35,100.40 L131.68,100.40 L132.02,100.40 L132.35,100.40 L132.68,100.40 L133.02,100.40 L133.35,100.40 L133.69,100.40 L134.02,100.40 L134.35,100.40 L134.69,100.40 L135.02,100.40 L135.36,100.40 L135.69,100.40 L136.02,100.40 L136.36,100.40 L136.69,100.40 L137.03,100.40 L137.36,100.40 L137.69,100.40 L138.03,100.40 L138.36,100.40 L138.70,100.40 L139.03,100.40 L139.36,100.40 L139.70,100.40 L140.03,100.40 L140.37,100.40 L140.70,100.40 L141.03,100.40 L141.37,100.40 L141.70,100.40 L142.04,100.40 L142.37,100.40 L142.70,100.40 L143.04,100.40 L143.37,100.40 L143.71,100.40 L144.04,100.40 L144.37,100.40 L144.71,100.40 L145.04,100.40 L145.38,100.40 L145.71,100.40 L146.04,100.40 L146.38,100.40 L146.71,100.40 L147.05,100.40 L147.38,100.40 L147.71,100.40 L148.05,100.40 L148.38,100.40 L148.72,100.40 L149.05,100.40 L149.38,100.40 L149.72,100.40 L150.05,100.40 L150.39,100.40 L150.72,100.40 L151.05,100.40 L151.39,100.40 L151.72,100.40 L152.06,100.40 L152.39,100.40 L152.72,100.40 L153.06,100.40 L153.39,100.40 L153.73,100.40 L154.06,100.40 L154.39,100.40 L154.73,100.40 L155.06,100.40 L155.40,100.40 L155.73,100.40 L156.06,100.40 L156.40,100.40 L156.73,100.40 L157.07,100.40 L157.40,100.40 L157.73,100.40 L158.07,100.40 L158.40,100.40 L158.74,100.40 L159.07,100.40 L159.40,100.40 L159.74,100.40 L160.07,100.40 L160.41,100.28 L160.74,100.01 L161.07,99.62 L161.41,99.10 L161.74,98.49 L162.08,97.79 L162.41,97.03 L162.74,96.21 L163.08,95.37 L163.41,94.51 L163.75,93.65 L164.08,92.79 L164.41,91.83 L164.75,90.74 L165.08,89.53 L165.42,88.24 L165.75,86.90 L166.08,85.54 L166.42,84.19 L166.75,82.88 L167.09,81.56 L167.42,80.10 L167.75,78.56 L168.09,76.99 L168.42,75.43 L168.76,73.93 L169.09,72.54 L169.42,71.30 L169.76,70.27 L170.09,69.49 L170.43,68.94 L170.76,68.42 L171.09,67.91 L171.43,67.44 L171.76,66.99 L172.10,66.56 L172.43,66.18 L172.76,65.83 L173.10,65.52 L173.43,65.26 L173.77,65.04 L174.10,64.87 L174.43,64.76 L174.77,64.70 L175.10,64.71 L175.44,64.80 L175.77,64.95 L176.10,65.16 L176.44,65.41 L176.77,65.72 L177.11,66.05 L177.44,66.41 L177.77,66.78 L178.11,67.17 L178.44,67.55 L178.78,67.93 L179.11,68.29 L179.44,68.62 L179.78,68.92 L180.11,69.18 L180.45,69.39 L180.78,69.61 L181.11,69.83 L181.45,70.05 L181.78,70.27 L182.12,70.47 L182.45,70.67 L182.78,70.85 L183.12,71.00 L183.45,71.13 L183.79,71.23 L184.12,71.28 L184.45,71.30 L184.79,71.27 L185.12,71.20 L185.46,71.09 L185.79,70.95 L186.12,70.78 L186.46,70.60 L186.79,70.40 L187.13,70.19 L187.46,69.98 L187.79,69.77 L188.13,69.57 L188.46,69.38 L188.80,69.20 L189.13,69.06 L189.46,68.94 L189.80,68.85 L190.13,68.81 L190.47,68.81 L190.80,68.89 L191.13,69.06 L191.47,69.29 L191.80,69.58 L192.14,69.94 L192.47,70.34 L192.80,70.79 L193.14,71.28 L193.47,71.79 L193.81,72.33 L194.14,72.89 L194.47,73.46 L194.81,74.13 L195.14,75.01 L195.48,76.08 L195.81,77.29 L196.14,78.61 L196.48,80.00 L196.81,81.44 L197.15,82.87 L197.48,84.28 L197.81,85.62 L198.15,86.86 L198.48,87.97 L198.82,88.92 L199.15,89.83 L199.48,90.73 L199.82,91.62 L200.15,92.47 L200.49,93.28 L200.82,94.03 L201.15,94.71 L201.49,95.29 L201.82,95.78 L202.16,96.16 L202.49,96.48 L202.82,96.80 L203.16,97.10 L203.49,97.37 L203.83,97.60 L204.16,97.79 L204.49,97.92 L204.83,97.99 L205.16,98.00 L205.50,97.99 L205.83,97.96 L206.16,97.93 L206.50,97.88 L206.83,97.83 L207.17,97.77 L207.50,97.71 L207.83,97.64 L208.17,97.57 L208.50,97.50 L208.84,97.43 L209.17,97.36 L209.50,97.29 L209.84,97.23 L210.17,97.17 L210.51,97.12 L210.84,97.07 L211.17,97.04 L211.51,97.01 L211.84,97.00 L212.18,97.00 L212.51,97.01 L212.84,97.04 L213.18,97.07 L213.51,97.11 L213.85,97.16 L214.18,97.21 L214.51,97.28 L214.85,97.34 L215.18,97.42 L215.52,97.49 L215.85,97.57 L216.18,97.66 L216.52,97.74 L216.85,97.82 L217.19,97.91 L217.52,97.99 L217.85,98.07 L218.19,98.15 L218.52,98.23 L218.86,98.30 L219.19,98.37 L219.52,98.43 L219.86,98.48 L220.19,98.53 L220.53,98.57 L220.86,98.62 L221.19,98.67 L221.53,98.72 L221.86,98.77 L222.20,98.82 L222.53,98.87 L222.86,98.92 L223.20,98.97 L223.53,99.02 L223.87,99.07 L224.20,99.12 L224.53,99.16 L224.87,99.21 L225.20,99.25 L225.54,99.29 L225.87,99.33 L226.20,99.37 L226.54,99.41 L226.87,99.44 L227.21,99.47 L227.54,99.50 L227.87,99.52 L228.21,99.54 L228.54,99.56 L228.88,99.58 L229.21,99.59 L229.54,99.60 L229.88,99.60 L230.21,99.60 L230.55,99.59 L230.88,99.58 L231.21,99.56 L231.55,99.54 L231.88,99.51 L232.22,99.48 L232.55,99.44 L232.88,99.39 L233.22,99.34 L233.55,99.28 L233.89,99.22 L234.22,99.15 L234.55,99.08 L234.89,99.00 L235.22,98.91 L235.56,98.82 L235.89,98.72 L236.22,98.61 L236.56,98.50 L236.89,98.38 L237.23,98.26 L237.56,98.13 L237.89,98.00 L238.23,97.86 L238.56,97.71 L238.90,97.55 L239.23,97.39 L239.56,97.23 L239.90,97.05 L240.23,96.83 L240.57,96.43 L240.90,95.88 L241.23,95.18 L241.57,94.37 L241.90,93.46 L242.24,92.48 L242.57,91.44 L242.90,90.37 L243.24,89.29 L243.57,88.22 L243.91,87.18 L244.24,86.13 L244.57,84.91 L244.91,83.58 L245.24,82.20 L245.58,80.86 L245.91,79.61 L246.24,78.51 L246.58,77.65 L246.91,76.93 L247.25,76.21 L247.58,75.54 L247.91,74.92 L248.25,74.42 L248.58,74.04 L248.92,73.83 L249.25,73.82 L249.58,73.96 L249.92,74.24 L250.25,74.63 L250.59,75.09 L250.92,75.61 L251.25,76.16 L251.59,76.76 L251.92,77.59 L252.26,78.59 L252.59,79.68 L252.92,80.78 L253.26,81.78 L253.59,82.69 L253.93,83.59 L254.26,84.49 L254.59,85.37 L254.93,86.24 L255.26,87.11 L255.60,87.96 L255.93,88.80 L256.26,89.63 L256.60,90.44 L256.93,91.24 L257.27,92.03 L257.60,92.80 L257.60,100.40 L40.50,100.40 Z" fill="#1a63b4" fill-opacity="0.8" stroke="#2a2a2a" stroke-width="0.7" stroke-linejoin="round"/>
<path d="M40.50,95.10 L40.83,94.96 L41.17,94.81 L41.50,94.67 L41.84,94.52 L42.17,94.38 L42.50,94.23 L42.84,94.08 L43.17,93.93 L43.51,93.78 L43.84,93.63 L44.17,93.48 L44.51,93.33 L44.84,93.18 L45.18,93.03 L45.51,92.87 L45.84,92.72 L46.18,92.56 L46.51,92.41 L46.85,92.25 L47.18,92.09 L47.51,91.94 L47.85,91.78 L48.18,91.61 L48.52,91.42 L48.85,91.22 L49.18,91.01 L49.52,90.80 L49.85,90.58 L50.19,90.36 L50.52,90.13 L50.85,89.92 L51.19,89.70 L51.52,89.50 L51.86,89.31 L52.19,89.13 L52.52,88.97 L52.86,88.83 L53.19,88.71 L53.53,88.61 L53.86,88.54 L54.19,88.51 L54.53,88.50 L54.86,88.52 L55.20,88.57 L55.53,88.63 L55.86,88.71 L56.20,88.81 L56.53,88.92 L56.87,89.04 L57.20,89.18 L57.53,89.32 L57.87,89.46 L58.20,89.61 L58.54,89.77 L58.87,89.96 L59.20,90.19 L59.54,90.46 L59.87,90.76 L60.21,91.07 L60.54,91.41 L60.87,91.76 L61.21,92.11 L61.54,92.46 L61.88,92.80 L62.21,93.13 L62.54,93.44 L62.88,93.76 L63.21,94.09 L63.55,94.44 L63.88,94.80 L64.21,95.16 L64.55,95.52 L64.88,95.88 L65.22,96.22 L65.55,96.55 L65.88,96.85 L66.22,97.12 L66.55,97.37 L66.89,97.57 L67.22,97.73 L67.55,97.85 L67.89,97.96 L68.22,98.06 L68.56,98.17 L68.89,98.26 L69.22,98.35 L69.56,98.44 L69.89,98.51 L70.23,98.58 L70.56,98.64 L70.89,98.70 L71.23,98.74 L71.56,98.77 L71.90,98.79 L72.23,98.80 L72.56,98.80 L72.90,98.80 L73.23,98.79 L73.57,98.78 L73.90,98.77 L74.23,98.75 L74.57,98.74 L74.90,98.72 L75.24,98.69 L75.57,98.67 L75.90,98.64 L76.24,98.61 L76.57,98.58 L76.91,98.54 L77.24,98.50 L77.57,98.46 L77.91,98.42 L78.24,98.37 L78.58,98.33 L78.91,98.28 L79.24,98.22 L79.58,98.17 L79.91,98.11 L80.25,98.05 L80.58,97.98 L80.91,97.84 L81.25,97.62 L81.58,97.30 L81.92,96.91 L82.25,96.46 L82.58,95.95 L82.92,95.38 L83.25,94.78 L83.59,94.14 L83.92,93.48 L84.25,92.80 L84.59,92.11 L84.92,91.43 L85.26,90.75 L85.59,90.09 L85.92,89.46 L86.26,88.86 L86.59,88.31 L86.93,87.80 L87.26,87.33 L87.59,86.84 L87.93,86.33 L88.26,85.81 L88.60,85.27 L88.93,84.73 L89.26,84.18 L89.60,83.64 L89.93,83.11 L90.27,82.58 L90.60,82.07 L90.93,81.58 L91.27,81.12 L91.60,80.68 L91.94,80.27 L92.27,79.91 L92.60,79.58 L92.94,79.30 L93.27,79.06 L93.61,78.88 L93.94,78.76 L94.27,78.70 L94.61,78.71 L94.94,78.74 L95.28,78.79 L95.61,78.87 L95.94,78.98 L96.28,79.10 L96.61,79.24 L96.95,79.39 L97.28,79.56 L97.61,79.74 L97.95,79.93 L98.28,80.13 L98.62,80.34 L98.95,80.54 L99.28,80.75 L99.62,80.96 L99.95,81.17 L100.29,81.38 L100.62,81.62 L100.95,81.88 L101.29,82.16 L101.62,82.46 L101.96,82.77 L102.29,83.10 L102.62,83.44 L102.96,83.79 L103.29,84.14 L103.63,84.50 L103.96,84.87 L104.29,85.23 L104.63,85.60 L104.96,85.96 L105.30,86.33 L105.63,86.71 L105.96,87.12 L106.30,87.54 L106.63,87.97 L106.97,88.41 L107.30,88.85 L107.63,89.31 L107.97,89.76 L108.30,90.22 L108.64,90.67 L108.97,91.12 L109.30,91.56 L109.64,91.99 L109.97,92.41 L110.31,92.81 L110.64,93.20 L110.97,93.57 L111.31,93.92 L111.64,94.24 L111.98,94.55 L112.31,94.86 L112.64,95.17 L112.98,95.47 L113.31,95.76 L113.65,96.06 L113.98,96.34 L114.31,96.62 L114.65,96.89 L114.98,97.15 L115.32,97.41 L115.65,97.65 L115.98,97.89 L116.32,98.11 L116.65,98.33 L116.99,98.53 L117.32,98.71 L117.65,98.89 L117.99,99.05 L118.32,99.20 L118.66,99.35 L118.99,99.51 L119.32,99.66 L119.66,99.80 L119.99,99.92 L120.33,100.03 L120.66,100.12 L120.99,100.17 L121.33,100.20 L121.66,100.18 L122.00,100.11 L122.33,99.98 L122.66,99.81 L123.00,99.61 L123.33,99.37 L123.67,99.12 L124.00,98.85 L124.33,98.57 L124.67,98.30 L125.00,98.03 L125.34,97.78 L125.67,97.55 L126.00,97.35 L126.34,97.18 L126.67,97.04 L127.01,96.91 L127.34,96.78 L127.67,96.66 L128.01,96.55 L128.34,96.44 L128.68,96.33 L129.01,96.23 L129.34,96.13 L129.68,96.03 L130.01,95.93 L130.35,95.83 L130.68,95.73 L131.01,95.63 L131.35,95.52 L131.68,95.41 L132.02,95.30 L132.35,95.17 L132.68,95.05 L133.02,94.91 L133.35,94.78 L133.69,94.65 L134.02,94.51 L134.35,94.37 L134.69,94.23 L135.02,94.09 L135.36,93.94 L135.69,93.78 L136.02,93.61 L136.36,93.43 L136.69,93.24 L137.03,93.04 L137.36,92.83 L137.69,92.60 L138.03,92.34 L138.36,92.03 L138.70,91.67 L139.03,91.27 L139.36,90.83 L139.70,90.37 L140.03,89.88 L140.37,89.36 L140.70,88.84 L141.03,88.30 L141.37,87.76 L141.70,87.21 L142.04,86.68 L142.37,86.15 L142.70,85.65 L143.04,85.16 L143.37,84.70 L143.71,84.27 L144.04,83.88 L144.37,83.53 L144.71,83.19 L145.04,82.87 L145.38,82.56 L145.71,82.25 L146.04,81.95 L146.38,81.66 L146.71,81.38 L147.05,81.10 L147.38,80.83 L147.71,80.56 L148.05,80.30 L148.38,80.04 L148.72,79.79 L149.05,79.54 L149.38,79.30 L149.72,79.06 L150.05,78.83 L150.39,78.59 L150.72,78.36 L151.05,78.14 L151.39,77.91 L151.72,77.69 L152.06,77.45 L152.39,77.21 L152.72,76.96 L153.06,76.70 L153.39,76.44 L153.73,76.18 L154.06,75.92 L154.39,75.67 L154.73,75.42 L155.06,75.18 L155.40,74.95 L155.73,74.73 L156.06,74.54 L156.40,74.36 L156.73,74.20 L157.07,74.06 L157.40,73.95 L157.73,73.87 L158.07,73.82 L158.40,73.80 L158.74,73.83 L159.07,73.91 L159.40,74.04 L159.74,74.21 L160.07,74.43 L160.41,74.67 L160.74,74.95 L161.07,75.25 L161.41,75.57 L161.74,75.90 L162.08,76.25 L162.41,76.60 L162.74,76.96 L163.08,77.41 L163.41,77.94 L163.75,78.54 L164.08,79.21 L164.41,79.92 L164.75,80.66 L165.08,81.43 L165.42,82.20 L165.75,82.97 L166.08,83.72 L166.42,84.44 L166.75,85.11 L167.09,85.74 L167.42,86.38 L167.75,87.01 L168.09,87.65 L168.42,88.28 L168.76,88.90 L169.09,89.53 L169.42,90.14 L169.76,90.75 L170.09,91.35 L170.43,91.94 L170.76,92.52 L171.09,93.08 L171.43,93.64 L171.76,94.18 L172.10,94.72 L172.43,95.30 L172.76,95.91 L173.10,96.54 L173.43,97.17 L173.77,97.78 L174.10,98.35 L174.43,98.88 L174.77,99.34 L175.10,99.72 L175.44,100.00 L175.77,100.16 L176.10,100.20 L176.44,100.21 L176.77,100.22 L177.11,100.22 L177.44,100.23 L177.77,100.24 L178.11,100.24 L178.44,100.25 L178.78,100.25 L179.11,100.26 L179.44,100.26 L179.78,100.27 L180.11,100.28 L180.45,100.28 L180.78,100.29 L181.11,100.29 L181.45,100.30 L181.78,100.30 L182.12,100.30 L182.45,100.31 L182.78,100.31 L183.12,100.32 L183.45,100.32 L183.79,100.32 L184.12,100.33 L184.45,100.33 L184.79,100.34 L185.12,100.34 L185.46,100.34 L185.79,100.35 L186.12,100.35 L186.46,100.35 L186.79,100.35 L187.13,100.36 L187.46,100.36 L187.79,100.36 L188.13,100.36 L188.46,100.37 L188.80,100.37 L189.13,100.37 L189.46,100.37 L189.80,100.38 L190.13,100.38 L190.47,100.38 L190.80,100.38 L191.13,100.38 L191.47,100.38 L191.80,100.38 L192.14,100.39 L192.47,100.39 L192.80,100.39 L193.14,100.39 L193.47,100.39 L193.81,100.39 L194.14,100.39 L194.47,100.39 L194.81,100.39 L195.14,100.40 L195.48,100.40 L195.81,100.40 L196.14,100.40 L196.48,100.40 L196.81,100.40 L197.15,100.40 L197.48,100.40 L197.81,100.40 L198.15,100.40 L198.48,100.40 L198.82,100.40 L199.15,100.40 L199.48,100.40 L199.82,100.40 L200.15,100.40 L200.49,100.39 L200.82,100.27 L201.15,100.01 L201.49,99.67 L201.82,99.30 L202.16,98.94 L202.49,98.55 L202.82,98.09 L203.16,97.57 L203.49,97.01 L203.83,96.42 L204.16,95.81 L204.49,95.18 L204.83,94.55 L205.16,93.93 L205.50,93.34 L205.83,92.77 L206.16,92.25 L206.50,91.78 L206.83,91.37 L207.17,91.04 L207.50,90.73 L207.83,90.43 L208.17,90.12 L208.50,89.82 L208.84,89.53 L209.17,89.24 L209.50,88.96 L209.84,88.69 L210.17,88.44 L210.51,88.19 L210.84,87.97 L211.17,87.76 L211.51,87.57 L211.84,87.40 L212.18,87.25 L212.51,87.12 L212.84,87.02 L213.18,86.95 L213.51,86.91 L213.85,86.90 L214.18,86.90 L214.51,86.91 L214.85,86.93 L215.18,86.94 L215.52,86.96 L215.85,86.99 L216.18,87.02 L216.52,87.05 L216.85,87.08 L217.19,87.11 L217.52,87.14 L217.85,87.18 L218.19,87.21 L218.52,87.24 L218.86,87.27 L219.19,87.30 L219.52,87.32 L219.86,87.35 L220.19,87.37 L220.53,87.38 L220.86,87.39 L221.19,87.40 L221.53,87.39 L221.86,87.33 L222.20,87.20 L222.53,87.01 L222.86,86.77 L223.20,86.48 L223.53,86.15 L223.87,85.79 L224.20,85.41 L224.53,85.00 L224.87,84.59 L225.20,84.17 L225.54,83.76 L225.87,83.36 L226.20,82.97 L226.54,82.60 L226.87,82.27 L227.21,81.98 L227.54,81.71 L227.87,81.42 L228.21,81.13 L228.54,80.83 L228.88,80.52 L229.21,80.22 L229.54,79.93 L229.88,79.65 L230.21,79.39 L230.55,79.15 L230.88,78.94 L231.21,78.77 L231.55,78.63 L231.88,78.54 L232.22,78.50 L232.55,78.51 L232.88,78.55 L233.22,78.63 L233.55,78.73 L233.89,78.86 L234.22,79.01 L234.55,79.18 L234.89,79.37 L235.22,79.58 L235.56,79.79 L235.89,80.02 L236.22,80.25 L236.56,80.48 L236.89,80.72 L237.23,80.95 L237.56,81.19 L237.89,81.47 L238.23,81.78 L238.56,82.12 L238.90,82.48 L239.23,82.87 L239.56,83.27 L239.90,83.68 L240.23,84.11 L240.57,84.54 L240.90,84.97 L241.23,85.41 L241.57,85.83 L241.90,86.25 L242.24,86.65 L242.57,87.04 L242.90,87.40 L243.24,87.74 L243.57,88.06 L243.91,88.38 L244.24,88.69 L244.57,89.00 L244.91,89.30 L245.24,89.60 L245.58,89.89 L245.91,90.18 L246.24,90.46 L246.58,90.74 L246.91,91.02 L247.25,91.30 L247.58,91.57 L247.91,91.84 L248.25,92.11 L248.58,92.38 L248.92,92.65 L249.25,92.92 L249.58,93.19 L249.92,93.46 L250.25,93.72 L250.59,93.99 L250.92,94.26 L251.25,94.52 L251.59,94.79 L251.92,95.05 L252.26,95.30 L252.59,95.56 L252.92,95.81 L253.26,96.06 L253.59,96.31 L253.93,96.55 L254.26,96.78 L254.59,97.01 L254.93,97.24 L255.26,97.46 L255.60,97.67 L255.93,97.88 L256.26,98.08 L256.60,98.27 L256.93,98.45 L257.27,98.63 L257.60,98.80 L257.60,100.40 L40.50,100.40 Z" fill="#d95319" fill-opacity="0.8" stroke="#2a2a2a" stroke-width="0.7" stroke-linejoin="round"/>
<line x1="40.50" y1="42.00" x2="40.50" y2="100.40" stroke="#666" stroke-width="1" />
<line x1="36.20" y1="42.00" x2="40.50" y2="42.00" stroke="#666" stroke-width="0.9" />
<text x="34.6" y="44.7" font-size="7.7" fill="#444" text-anchor="end">0.04</text>
<line x1="36.20" y1="71.20" x2="40.50" y2="71.20" stroke="#666" stroke-width="0.9" />
<text x="34.6" y="73.9" font-size="7.7" fill="#444" text-anchor="end">0.02</text>
<line x1="36.20" y1="100.40" x2="40.50" y2="100.40" stroke="#666" stroke-width="0.9" />
<text x="34.6" y="103.10000000000001" font-size="7.7" fill="#444" text-anchor="end">0</text>
<text x="14.6" y="81.6" font-size="9.3" fill="#333" text-anchor="middle" transform="rotate(-90 14.6 81.6)">Magnitude</text>
<line x1="46.90" y1="49.90" x2="57.30" y2="49.90" stroke="#e0562a" stroke-width="1.8" />
<line x1="46.90" y1="47.30" x2="46.90" y2="52.50" stroke="#e0562a" stroke-width="1.5" />
<line x1="57.30" y1="49.90" x2="74.20" y2="49.90" stroke="#1f74bd" stroke-width="1.8" />
<line x1="57.30" y1="47.30" x2="57.30" y2="52.50" stroke="#1f74bd" stroke-width="1.5" />
<line x1="74.20" y1="47.30" x2="74.20" y2="52.50" stroke="#1f74bd" stroke-width="1.5" />
<line x1="92.80" y1="49.90" x2="104.00" y2="49.90" stroke="#e0562a" stroke-width="1.8" />
<line x1="92.80" y1="47.30" x2="92.80" y2="52.50" stroke="#e0562a" stroke-width="1.5" />
<line x1="104.00" y1="49.90" x2="120.30" y2="49.90" stroke="#1f74bd" stroke-width="1.8" />
<line x1="104.00" y1="47.30" x2="104.00" y2="52.50" stroke="#1f74bd" stroke-width="1.5" />
<line x1="120.30" y1="47.30" x2="120.30" y2="52.50" stroke="#1f74bd" stroke-width="1.5" />
<line x1="144.60" y1="49.90" x2="164.00" y2="49.90" stroke="#e0562a" stroke-width="1.8" />
<line x1="144.60" y1="47.30" x2="144.60" y2="52.50" stroke="#e0562a" stroke-width="1.5" />
<line x1="164.00" y1="49.90" x2="198.20" y2="49.90" stroke="#1f74bd" stroke-width="1.8" />
<line x1="164.00" y1="47.30" x2="164.00" y2="52.50" stroke="#1f74bd" stroke-width="1.5" />
<line x1="198.20" y1="47.30" x2="198.20" y2="52.50" stroke="#1f74bd" stroke-width="1.5" />
<line x1="222.70" y1="49.90" x2="243.80" y2="49.90" stroke="#e0562a" stroke-width="1.8" />
<line x1="222.70" y1="47.30" x2="222.70" y2="52.50" stroke="#e0562a" stroke-width="1.5" />
<line x1="243.80" y1="49.90" x2="253.20" y2="49.90" stroke="#1f74bd" stroke-width="1.8" />
<line x1="243.80" y1="47.30" x2="243.80" y2="52.50" stroke="#1f74bd" stroke-width="1.5" />
<line x1="253.20" y1="47.30" x2="253.20" y2="52.50" stroke="#1f74bd" stroke-width="1.5" />
<rect x="292.60" y="45.70" width="27.00" height="43.00" fill="url(#cbar)" />
<line x1="292.60" y1="45.90" x2="320.00" y2="45.90" stroke="#999" stroke-width="1.1" />
<line x1="319.60" y1="45.70" x2="319.60" y2="88.70" stroke="#999" stroke-width="1.1" />
<line x1="319.60" y1="45.90" x2="324.60" y2="45.90" stroke="#888" stroke-width="0.9" />
<line x1="319.60" y1="88.30" x2="324.60" y2="88.30" stroke="#888" stroke-width="0.9" />
<text x="325.6" y="48.3" font-size="8" fill="#333">1</text>
<text x="325.3" y="89.9" font-size="8" fill="#333">0</text>
<text x="274.8" y="66.5" font-size="8.2" fill="#333" text-anchor="middle" transform="rotate(-90 274.8 66.5)">Firing rate (Hz)</text>
<text x="288.3" y="66.5" font-size="8.2" fill="#333" text-anchor="middle" transform="rotate(-90 288.3 66.5)">(normalized)</text>
<rect x="40.50" y="103.70" width="217.10" height="6.96" fill="url(#ha0)"/>
<rect x="40.50" y="110.06" width="217.10" height="6.96" fill="url(#ha1)"/>
<rect x="40.50" y="116.41" width="217.10" height="6.96" fill="url(#ha2)"/>
<rect x="40.50" y="122.77" width="217.10" height="6.96" fill="url(#ha3)"/>
<rect x="40.50" y="129.12" width="217.10" height="6.96" fill="url(#ha4)"/>
<rect x="40.50" y="135.47" width="217.10" height="6.96" fill="url(#ha5)"/>
<rect x="40.50" y="141.83" width="217.10" height="6.96" fill="url(#ha6)"/>
<rect x="40.50" y="148.19" width="217.10" height="6.96" fill="url(#ha7)"/>
<rect x="40.50" y="154.54" width="217.10" height="6.96" fill="url(#ha8)"/>
<rect x="40.50" y="160.90" width="217.10" height="6.96" fill="url(#ha9)"/>
<rect x="40.50" y="167.25" width="217.10" height="6.96" fill="url(#ha10)"/>
<rect x="40.50" y="173.61" width="217.10" height="6.96" fill="url(#ha11)"/>
<rect x="40.50" y="179.96" width="217.10" height="6.96" fill="url(#ha12)"/>
<rect x="40.50" y="186.31" width="217.10" height="6.96" fill="url(#ha13)"/>
<rect x="40.50" y="192.67" width="217.10" height="6.96" fill="url(#ha14)"/>
<rect x="40.50" y="199.03" width="217.10" height="6.96" fill="url(#ha15)"/>
<rect x="40.50" y="205.38" width="217.10" height="6.96" fill="url(#ha16)"/>
<rect x="40.50" y="211.74" width="217.10" height="6.96" fill="url(#ha17)"/>
<rect x="40.50" y="218.09" width="217.10" height="6.96" fill="url(#ha18)"/>
<rect x="40.50" y="224.44" width="217.10" height="6.96" fill="url(#ha19)"/>
<rect x="40.50" y="230.80" width="217.10" height="6.96" fill="url(#ha20)"/>
<rect x="40.50" y="237.16" width="217.10" height="6.96" fill="url(#ha21)"/>
<rect x="40.50" y="243.51" width="217.10" height="6.96" fill="url(#ha22)"/>
<rect x="40.50" y="249.87" width="217.10" height="6.96" fill="url(#ha23)"/>
<rect x="40.50" y="256.22" width="217.10" height="6.96" fill="url(#ha24)"/>
<rect x="40.50" y="262.57" width="217.10" height="6.96" fill="url(#ha25)"/>
<rect x="40.50" y="268.93" width="217.10" height="6.96" fill="url(#ha26)"/>
<rect x="40.50" y="275.29" width="217.10" height="6.96" fill="url(#ha27)"/>
<rect x="40.50" y="281.64" width="217.10" height="6.96" fill="url(#ha28)"/>
<rect x="40.50" y="288.00" width="217.10" height="6.96" fill="url(#ha29)"/>
<rect x="40.50" y="294.35" width="217.10" height="6.96" fill="url(#ha30)"/>
<rect x="40.50" y="300.71" width="217.10" height="6.96" fill="url(#ha31)"/>
<rect x="40.50" y="307.06" width="217.10" height="6.96" fill="url(#ha32)"/>
<rect x="40.50" y="313.42" width="217.10" height="6.96" fill="url(#ha33)"/>
<rect x="40.50" y="319.77" width="217.10" height="6.96" fill="url(#ha34)"/>
<line x1="36.10" y1="106.88" x2="40.50" y2="106.88" stroke="#777" stroke-width="0.9" />
<text transform="translate(34.60 109.78) scale(0.8 1.05)" font-size="7.9" fill="#444" text-anchor="end">21</text>
<line x1="36.10" y1="113.23" x2="40.50" y2="113.23" stroke="#777" stroke-width="0.9" />
<text transform="translate(34.60 116.13) scale(0.8 1.05)" font-size="7.9" fill="#444" text-anchor="end">16</text>
<line x1="36.10" y1="119.59" x2="40.50" y2="119.59" stroke="#777" stroke-width="0.9" />
<text transform="translate(34.60 122.49) scale(0.8 1.05)" font-size="7.9" fill="#444" text-anchor="end">15</text>
<line x1="36.10" y1="125.94" x2="40.50" y2="125.94" stroke="#777" stroke-width="0.9" />
<text transform="translate(34.60 128.84) scale(0.8 1.05)" font-size="7.9" fill="#444" text-anchor="end">25</text>
<line x1="36.10" y1="132.30" x2="40.50" y2="132.30" stroke="#777" stroke-width="0.9" />
<text transform="translate(34.60 135.20) scale(0.8 1.05)" font-size="7.9" fill="#444" text-anchor="end">28</text>
<line x1="36.10" y1="138.65" x2="40.50" y2="138.65" stroke="#777" stroke-width="0.9" />
<text transform="translate(34.60 141.55) scale(0.8 1.05)" font-size="7.9" fill="#444" text-anchor="end">36</text>
<line x1="36.10" y1="145.01" x2="40.50" y2="145.01" stroke="#777" stroke-width="0.9" />
<text transform="translate(34.60 147.91) scale(0.8 1.05)" font-size="7.9" fill="#444" text-anchor="end">24</text>
<line x1="36.10" y1="151.36" x2="40.50" y2="151.36" stroke="#777" stroke-width="0.9" />
<text transform="translate(34.60 154.26) scale(0.8 1.05)" font-size="7.9" fill="#444" text-anchor="end">19</text>
<line x1="36.10" y1="157.72" x2="40.50" y2="157.72" stroke="#777" stroke-width="0.9" />
<text transform="translate(34.60 160.62) scale(0.8 1.05)" font-size="7.9" fill="#444" text-anchor="end">17</text>
<line x1="36.10" y1="164.07" x2="40.50" y2="164.07" stroke="#777" stroke-width="0.9" />
<text transform="translate(34.60 166.97) scale(0.8 1.05)" font-size="7.9" fill="#444" text-anchor="end">26</text>
<line x1="36.10" y1="170.43" x2="40.50" y2="170.43" stroke="#777" stroke-width="0.9" />
<text transform="translate(34.60 173.33) scale(0.8 1.05)" font-size="7.9" fill="#444" text-anchor="end">35</text>
<line x1="36.10" y1="176.78" x2="40.50" y2="176.78" stroke="#777" stroke-width="0.9" />
<text transform="translate(34.60 179.68) scale(0.8 1.05)" font-size="7.9" fill="#444" text-anchor="end">30</text>
<line x1="36.10" y1="183.14" x2="40.50" y2="183.14" stroke="#777" stroke-width="0.9" />
<text transform="translate(34.60 186.04) scale(0.8 1.05)" font-size="7.9" fill="#444" text-anchor="end">32</text>
<line x1="36.10" y1="189.49" x2="40.50" y2="189.49" stroke="#777" stroke-width="0.9" />
<text transform="translate(34.60 192.39) scale(0.8 1.05)" font-size="7.9" fill="#444" text-anchor="end">34</text>
<line x1="36.10" y1="195.85" x2="40.50" y2="195.85" stroke="#777" stroke-width="0.9" />
<text transform="translate(34.60 198.75) scale(0.8 1.05)" font-size="7.9" fill="#444" text-anchor="end">31</text>
<line x1="36.10" y1="202.20" x2="40.50" y2="202.20" stroke="#777" stroke-width="0.9" />
<text transform="translate(34.60 205.10) scale(0.8 1.05)" font-size="7.9" fill="#444" text-anchor="end">14</text>
<line x1="36.10" y1="208.56" x2="40.50" y2="208.56" stroke="#777" stroke-width="0.9" />
<text transform="translate(34.60 211.46) scale(0.8 1.05)" font-size="7.9" fill="#444" text-anchor="end">33</text>
<line x1="36.10" y1="214.91" x2="40.50" y2="214.91" stroke="#777" stroke-width="0.9" />
<text transform="translate(34.60 217.81) scale(0.8 1.05)" font-size="7.9" fill="#444" text-anchor="end">20</text>
<line x1="36.10" y1="221.27" x2="40.50" y2="221.27" stroke="#777" stroke-width="0.9" />
<text transform="translate(34.60 224.17) scale(0.8 1.05)" font-size="7.9" fill="#444" text-anchor="end">27</text>
<line x1="36.10" y1="227.62" x2="40.50" y2="227.62" stroke="#777" stroke-width="0.9" />
<text transform="translate(34.60 230.52) scale(0.8 1.05)" font-size="7.9" fill="#444" text-anchor="end">29</text>
<line x1="36.10" y1="233.98" x2="40.50" y2="233.98" stroke="#777" stroke-width="0.9" />
<text transform="translate(34.60 236.88) scale(0.8 1.05)" font-size="7.9" fill="#444" text-anchor="end">7</text>
<line x1="36.10" y1="240.33" x2="40.50" y2="240.33" stroke="#777" stroke-width="0.9" />
<text transform="translate(34.60 243.23) scale(0.8 1.05)" font-size="7.9" fill="#444" text-anchor="end">18</text>
<line x1="36.10" y1="246.69" x2="40.50" y2="246.69" stroke="#777" stroke-width="0.9" />
<text transform="translate(34.60 249.59) scale(0.8 1.05)" font-size="7.9" fill="#444" text-anchor="end">11</text>
<line x1="36.10" y1="253.04" x2="40.50" y2="253.04" stroke="#777" stroke-width="0.9" />
<text transform="translate(34.60 255.94) scale(0.8 1.05)" font-size="7.9" fill="#444" text-anchor="end">23</text>
<line x1="36.10" y1="259.40" x2="40.50" y2="259.40" stroke="#777" stroke-width="0.9" />
<text transform="translate(34.60 262.30) scale(0.8 1.05)" font-size="7.9" fill="#444" text-anchor="end">4</text>
<line x1="36.10" y1="265.75" x2="40.50" y2="265.75" stroke="#777" stroke-width="0.9" />
<text transform="translate(34.60 268.65) scale(0.8 1.05)" font-size="7.9" fill="#444" text-anchor="end">13</text>
<line x1="36.10" y1="272.11" x2="40.50" y2="272.11" stroke="#777" stroke-width="0.9" />
<text transform="translate(34.60 275.01) scale(0.8 1.05)" font-size="7.9" fill="#444" text-anchor="end">10</text>
<line x1="36.10" y1="278.46" x2="40.50" y2="278.46" stroke="#777" stroke-width="0.9" />
<text transform="translate(34.60 281.36) scale(0.8 1.05)" font-size="7.9" fill="#444" text-anchor="end">8</text>
<line x1="36.10" y1="284.82" x2="40.50" y2="284.82" stroke="#777" stroke-width="0.9" />
<text transform="translate(34.60 287.72) scale(0.8 1.05)" font-size="7.9" fill="#444" text-anchor="end">5</text>
<line x1="36.10" y1="291.17" x2="40.50" y2="291.17" stroke="#777" stroke-width="0.9" />
<text transform="translate(34.60 294.07) scale(0.8 1.05)" font-size="7.9" fill="#444" text-anchor="end">2</text>
<line x1="36.10" y1="297.53" x2="40.50" y2="297.53" stroke="#777" stroke-width="0.9" />
<text transform="translate(34.60 300.43) scale(0.8 1.05)" font-size="7.9" fill="#444" text-anchor="end">3</text>
<line x1="36.10" y1="303.88" x2="40.50" y2="303.88" stroke="#777" stroke-width="0.9" />
<text transform="translate(34.60 306.78) scale(0.8 1.05)" font-size="7.9" fill="#444" text-anchor="end">6</text>
<line x1="36.10" y1="310.24" x2="40.50" y2="310.24" stroke="#777" stroke-width="0.9" />
<text transform="translate(34.60 313.14) scale(0.8 1.05)" font-size="7.9" fill="#444" text-anchor="end">9</text>
<line x1="36.10" y1="316.59" x2="40.50" y2="316.59" stroke="#777" stroke-width="0.9" />
<text transform="translate(34.60 319.49) scale(0.8 1.05)" font-size="7.9" fill="#444" text-anchor="end">1</text>
<line x1="36.10" y1="322.95" x2="40.50" y2="322.95" stroke="#777" stroke-width="0.9" />
<text transform="translate(34.60 325.85) scale(0.8 1.05)" font-size="7.9" fill="#444" text-anchor="end">22</text>
<text x="16.5" y="223" font-size="9.3" fill="#333" text-anchor="middle" transform="rotate(-90 16.5 223)">Neurons</text>
<line x1="80.40" y1="326.40" x2="80.40" y2="330.20" stroke="#666" stroke-width="0.8" />
<text x="80.4" y="340.5" font-size="7.7" fill="#444" text-anchor="middle">20</text>
<line x1="159.20" y1="326.40" x2="159.20" y2="330.20" stroke="#666" stroke-width="0.8" />
<text x="159.2" y="340.5" font-size="7.7" fill="#444" text-anchor="middle">40</text>
<line x1="238.00" y1="326.40" x2="238.00" y2="330.20" stroke="#666" stroke-width="0.8" />
<text x="238.0" y="340.5" font-size="7.7" fill="#444" text-anchor="middle">60</text>
<text x="154" y="356" font-size="9.3" fill="#333" text-anchor="middle">Time (s)</text>
<line x1="261.40" y1="106.88" x2="303.47" y2="106.88" stroke="#e0602f" stroke-width="1.5" />
<path d="M302.02,106.88 L304.92,105.43 L304.92,108.33 Z" fill="#e0602f" fill-opacity="0.35" stroke="#e0602f" stroke-width="0.8" stroke-opacity="1"/>
<line x1="261.40" y1="106.88" x2="261.40" y2="106.88" stroke="#2176bd" stroke-width="1.5" />
<path d="M259.95,106.88 L262.85,105.43 L262.85,108.33 Z" fill="#2176bd" fill-opacity="0.35" stroke="#2176bd" stroke-width="0.8" stroke-opacity="1"/>
<line x1="261.40" y1="113.23" x2="301.91" y2="113.23" stroke="#e0602f" stroke-width="1.5" />
<path d="M300.46,113.23 L303.36,111.78 L303.36,114.68 Z" fill="#e0602f" fill-opacity="0.35" stroke="#e0602f" stroke-width="0.8" stroke-opacity="1"/>
<line x1="261.40" y1="113.23" x2="261.40" y2="113.23" stroke="#2176bd" stroke-width="1.5" />
<path d="M259.95,113.23 L262.85,111.78 L262.85,114.68 Z" fill="#2176bd" fill-opacity="0.35" stroke="#2176bd" stroke-width="0.8" stroke-opacity="1"/>
<line x1="261.40" y1="119.59" x2="298.01" y2="119.59" stroke="#e0602f" stroke-width="1.5" />
<path d="M296.56,119.59 L299.46,118.14 L299.46,121.04 Z" fill="#e0602f" fill-opacity="0.35" stroke="#e0602f" stroke-width="0.8" stroke-opacity="1"/>
<line x1="261.40" y1="119.59" x2="269.19" y2="119.59" stroke="#2176bd" stroke-width="1.5" />
<path d="M267.74,119.59 L270.64,118.14 L270.64,121.04 Z" fill="#2176bd" fill-opacity="0.35" stroke="#2176bd" stroke-width="0.8" stroke-opacity="1"/>
<line x1="261.40" y1="125.94" x2="294.90" y2="125.94" stroke="#e0602f" stroke-width="1.5" />
<path d="M293.45,125.94 L296.35,124.49 L296.35,127.39 Z" fill="#e0602f" fill-opacity="0.35" stroke="#e0602f" stroke-width="0.8" stroke-opacity="1"/>
<line x1="261.40" y1="125.94" x2="261.40" y2="125.94" stroke="#2176bd" stroke-width="1.5" />
<path d="M259.95,125.94 L262.85,124.49 L262.85,127.39 Z" fill="#2176bd" fill-opacity="0.35" stroke="#2176bd" stroke-width="0.8" stroke-opacity="1"/>
<line x1="261.40" y1="132.30" x2="292.56" y2="132.30" stroke="#e0602f" stroke-width="1.5" />
<path d="M291.11,132.30 L294.01,130.85 L294.01,133.75 Z" fill="#e0602f" fill-opacity="0.35" stroke="#e0602f" stroke-width="0.8" stroke-opacity="1"/>
<line x1="261.40" y1="132.30" x2="280.88" y2="132.30" stroke="#2176bd" stroke-width="1.5" />
<path d="M279.43,132.30 L282.32,130.85 L282.32,133.75 Z" fill="#2176bd" fill-opacity="0.35" stroke="#2176bd" stroke-width="0.8" stroke-opacity="1"/>
<line x1="261.40" y1="138.65" x2="292.56" y2="138.65" stroke="#e0602f" stroke-width="1.5" />
<path d="M291.11,138.65 L294.01,137.20 L294.01,140.10 Z" fill="#e0602f" fill-opacity="0.35" stroke="#e0602f" stroke-width="0.8" stroke-opacity="1"/>
<line x1="261.40" y1="138.65" x2="280.88" y2="138.65" stroke="#2176bd" stroke-width="1.5" />
<path d="M279.43,138.65 L282.32,137.20 L282.32,140.10 Z" fill="#2176bd" fill-opacity="0.35" stroke="#2176bd" stroke-width="0.8" stroke-opacity="1"/>
<line x1="261.40" y1="145.01" x2="284.77" y2="145.01" stroke="#e0602f" stroke-width="1.5" />
<path d="M283.32,145.01 L286.22,143.56 L286.22,146.46 Z" fill="#e0602f" fill-opacity="0.35" stroke="#e0602f" stroke-width="0.8" stroke-opacity="1"/>
<line x1="261.40" y1="145.01" x2="280.88" y2="145.01" stroke="#2176bd" stroke-width="1.5" />
<path d="M279.43,145.01 L282.32,143.56 L282.32,146.46 Z" fill="#2176bd" fill-opacity="0.35" stroke="#2176bd" stroke-width="0.8" stroke-opacity="1"/>
<line x1="261.40" y1="151.36" x2="283.99" y2="151.36" stroke="#e0602f" stroke-width="1.5" />
<path d="M282.54,151.36 L285.44,149.91 L285.44,152.81 Z" fill="#e0602f" fill-opacity="0.35" stroke="#e0602f" stroke-width="0.8" stroke-opacity="1"/>
<line x1="261.40" y1="151.36" x2="269.97" y2="151.36" stroke="#2176bd" stroke-width="1.5" />
<path d="M268.52,151.36 L271.42,149.91 L271.42,152.81 Z" fill="#2176bd" fill-opacity="0.35" stroke="#2176bd" stroke-width="0.8" stroke-opacity="1"/>
<line x1="261.40" y1="157.72" x2="283.99" y2="157.72" stroke="#e0602f" stroke-width="1.5" />
<path d="M282.54,157.72 L285.44,156.27 L285.44,159.17 Z" fill="#e0602f" fill-opacity="0.35" stroke="#e0602f" stroke-width="0.8" stroke-opacity="1"/>
<line x1="261.40" y1="157.72" x2="268.41" y2="157.72" stroke="#2176bd" stroke-width="1.5" />
<path d="M266.96,157.72 L269.86,156.27 L269.86,159.17 Z" fill="#2176bd" fill-opacity="0.35" stroke="#2176bd" stroke-width="0.8" stroke-opacity="1"/>
<line x1="261.40" y1="164.07" x2="281.65" y2="164.07" stroke="#e0602f" stroke-width="1.5" />
<path d="M280.20,164.07 L283.10,162.62 L283.10,165.52 Z" fill="#e0602f" fill-opacity="0.35" stroke="#e0602f" stroke-width="0.8" stroke-opacity="1"/>
<line x1="261.40" y1="164.07" x2="276.20" y2="164.07" stroke="#2176bd" stroke-width="1.5" />
<path d="M274.75,164.07 L277.65,162.62 L277.65,165.52 Z" fill="#2176bd" fill-opacity="0.35" stroke="#2176bd" stroke-width="0.8" stroke-opacity="1"/>
<line x1="261.40" y1="170.43" x2="281.65" y2="170.43" stroke="#e0602f" stroke-width="1.5" />
<path d="M280.20,170.43 L283.10,168.98 L283.10,171.88 Z" fill="#e0602f" fill-opacity="0.35" stroke="#e0602f" stroke-width="0.8" stroke-opacity="1"/>
<line x1="261.40" y1="170.43" x2="276.20" y2="170.43" stroke="#2176bd" stroke-width="1.5" />
<path d="M274.75,170.43 L277.65,168.98 L277.65,171.88 Z" fill="#2176bd" fill-opacity="0.35" stroke="#2176bd" stroke-width="0.8" stroke-opacity="1"/>
<line x1="261.40" y1="176.78" x2="279.32" y2="176.78" stroke="#e0602f" stroke-width="1.5" />
<path d="M277.87,176.78 L280.77,175.33 L280.77,178.23 Z" fill="#e0602f" fill-opacity="0.35" stroke="#e0602f" stroke-width="0.8" stroke-opacity="1"/>
<line x1="261.40" y1="176.78" x2="269.97" y2="176.78" stroke="#2176bd" stroke-width="1.5" />
<path d="M268.52,176.78 L271.42,175.33 L271.42,178.23 Z" fill="#2176bd" fill-opacity="0.35" stroke="#2176bd" stroke-width="0.8" stroke-opacity="1"/>
<line x1="261.40" y1="183.14" x2="276.98" y2="183.14" stroke="#e0602f" stroke-width="1.5" />
<path d="M275.53,183.14 L278.43,181.69 L278.43,184.59 Z" fill="#e0602f" fill-opacity="0.35" stroke="#e0602f" stroke-width="0.8" stroke-opacity="1"/>
<line x1="261.40" y1="183.14" x2="266.07" y2="183.14" stroke="#2176bd" stroke-width="1.5" />
<path d="M264.62,183.14 L267.52,181.69 L267.52,184.59 Z" fill="#2176bd" fill-opacity="0.35" stroke="#2176bd" stroke-width="0.8" stroke-opacity="1"/>
<line x1="261.40" y1="189.49" x2="276.59" y2="189.49" stroke="#e0602f" stroke-width="1.5" />
<path d="M275.14,189.49 L278.04,188.04 L278.04,190.94 Z" fill="#e0602f" fill-opacity="0.35" stroke="#e0602f" stroke-width="0.8" stroke-opacity="1"/>
<line x1="261.40" y1="189.49" x2="261.40" y2="189.49" stroke="#2176bd" stroke-width="1.5" />
<path d="M259.95,189.49 L262.85,188.04 L262.85,190.94 Z" fill="#2176bd" fill-opacity="0.35" stroke="#2176bd" stroke-width="0.8" stroke-opacity="1"/>
<line x1="261.40" y1="195.85" x2="275.42" y2="195.85" stroke="#e0602f" stroke-width="1.5" />
<path d="M273.97,195.85 L276.87,194.40 L276.87,197.30 Z" fill="#e0602f" fill-opacity="0.35" stroke="#e0602f" stroke-width="0.8" stroke-opacity="1"/>
<line x1="261.40" y1="195.85" x2="271.14" y2="195.85" stroke="#2176bd" stroke-width="1.5" />
<path d="M269.69,195.85 L272.59,194.40 L272.59,197.30 Z" fill="#2176bd" fill-opacity="0.35" stroke="#2176bd" stroke-width="0.8" stroke-opacity="1"/>
<line x1="261.40" y1="202.20" x2="275.11" y2="202.20" stroke="#e0602f" stroke-width="1.5" />
<path d="M273.66,202.20 L276.56,200.75 L276.56,203.65 Z" fill="#e0602f" fill-opacity="0.35" stroke="#e0602f" stroke-width="0.8" stroke-opacity="1"/>
<line x1="261.40" y1="202.20" x2="269.97" y2="202.20" stroke="#2176bd" stroke-width="1.5" />
<path d="M268.52,202.20 L271.42,200.75 L271.42,203.65 Z" fill="#2176bd" fill-opacity="0.35" stroke="#2176bd" stroke-width="0.8" stroke-opacity="1"/>
<line x1="261.40" y1="208.56" x2="273.08" y2="208.56" stroke="#e0602f" stroke-width="1.5" />
<path d="M271.63,208.56 L274.53,207.11 L274.53,210.01 Z" fill="#e0602f" fill-opacity="0.35" stroke="#e0602f" stroke-width="0.8" stroke-opacity="1"/>
<line x1="261.40" y1="208.56" x2="267.09" y2="208.56" stroke="#2176bd" stroke-width="1.5" />
<path d="M265.64,208.56 L268.54,207.11 L268.54,210.01 Z" fill="#2176bd" fill-opacity="0.35" stroke="#2176bd" stroke-width="0.8" stroke-opacity="1"/>
<line x1="261.40" y1="214.91" x2="271.53" y2="214.91" stroke="#e0602f" stroke-width="1.5" />
<path d="M270.08,214.91 L272.98,213.46 L272.98,216.36 Z" fill="#e0602f" fill-opacity="0.35" stroke="#e0602f" stroke-width="0.8" stroke-opacity="1"/>
<line x1="261.40" y1="214.91" x2="269.19" y2="214.91" stroke="#2176bd" stroke-width="1.5" />
<path d="M267.74,214.91 L270.64,213.46 L270.64,216.36 Z" fill="#2176bd" fill-opacity="0.35" stroke="#2176bd" stroke-width="0.8" stroke-opacity="1"/>
<line x1="261.40" y1="221.27" x2="270.59" y2="221.27" stroke="#e0602f" stroke-width="1.5" />
<path d="M269.14,221.27 L272.04,219.82 L272.04,222.72 Z" fill="#e0602f" fill-opacity="0.35" stroke="#e0602f" stroke-width="0.8" stroke-opacity="1"/>
<line x1="261.40" y1="221.27" x2="264.91" y2="221.27" stroke="#2176bd" stroke-width="1.5" />
<path d="M263.46,221.27 L266.36,219.82 L266.36,222.72 Z" fill="#2176bd" fill-opacity="0.35" stroke="#2176bd" stroke-width="0.8" stroke-opacity="1"/>
<line x1="261.40" y1="227.62" x2="269.19" y2="227.62" stroke="#e0602f" stroke-width="1.5" />
<path d="M267.74,227.62 L270.64,226.17 L270.64,229.07 Z" fill="#e0602f" fill-opacity="0.35" stroke="#e0602f" stroke-width="0.8" stroke-opacity="1"/>
<line x1="261.40" y1="227.62" x2="268.02" y2="227.62" stroke="#2176bd" stroke-width="1.5" />
<path d="M266.57,227.62 L269.47,226.17 L269.47,229.07 Z" fill="#2176bd" fill-opacity="0.35" stroke="#2176bd" stroke-width="0.8" stroke-opacity="1"/>
<line x1="261.40" y1="233.98" x2="266.07" y2="233.98" stroke="#e0602f" stroke-width="1.5" />
<path d="M264.62,233.98 L267.52,232.53 L267.52,235.43 Z" fill="#e0602f" fill-opacity="0.35" stroke="#e0602f" stroke-width="0.8" stroke-opacity="1"/>
<line x1="261.40" y1="233.98" x2="263.74" y2="233.98" stroke="#2176bd" stroke-width="1.5" />
<path d="M262.29,233.98 L265.19,232.53 L265.19,235.43 Z" fill="#2176bd" fill-opacity="0.35" stroke="#2176bd" stroke-width="0.8" stroke-opacity="1"/>
<line x1="261.40" y1="240.33" x2="265.68" y2="240.33" stroke="#e0602f" stroke-width="1.5" />
<path d="M264.23,240.33 L267.13,238.88 L267.13,241.78 Z" fill="#e0602f" fill-opacity="0.35" stroke="#e0602f" stroke-width="0.8" stroke-opacity="1"/>
<line x1="261.40" y1="240.33" x2="261.40" y2="240.33" stroke="#2176bd" stroke-width="1.5" />
<path d="M259.95,240.33 L262.85,238.88 L262.85,241.78 Z" fill="#2176bd" fill-opacity="0.35" stroke="#2176bd" stroke-width="0.8" stroke-opacity="1"/>
<line x1="261.40" y1="246.69" x2="264.52" y2="246.69" stroke="#e0602f" stroke-width="1.5" />
<path d="M263.07,246.69 L265.97,245.24 L265.97,248.14 Z" fill="#e0602f" fill-opacity="0.35" stroke="#e0602f" stroke-width="0.8" stroke-opacity="1"/>
<line x1="261.40" y1="246.69" x2="262.72" y2="246.69" stroke="#2176bd" stroke-width="1.5" />
<path d="M261.27,246.69 L264.17,245.24 L264.17,248.14 Z" fill="#2176bd" fill-opacity="0.35" stroke="#2176bd" stroke-width="0.8" stroke-opacity="1"/>
<line x1="261.40" y1="253.04" x2="263.11" y2="253.04" stroke="#e0602f" stroke-width="1.5" />
<path d="M261.66,253.04 L264.56,251.59 L264.56,254.49 Z" fill="#e0602f" fill-opacity="0.35" stroke="#e0602f" stroke-width="0.8" stroke-opacity="1"/>
<line x1="261.40" y1="253.04" x2="261.40" y2="253.04" stroke="#2176bd" stroke-width="1.5" />
<path d="M259.95,253.04 L262.85,251.59 L262.85,254.49 Z" fill="#2176bd" fill-opacity="0.35" stroke="#2176bd" stroke-width="0.8" stroke-opacity="1"/>
<line x1="261.40" y1="259.40" x2="325.28" y2="259.40" stroke="#2176bd" stroke-width="1.5" />
<path d="M323.83,259.40 L326.73,257.95 L326.73,260.85 Z" fill="#2176bd" fill-opacity="0.35" stroke="#2176bd" stroke-width="0.8" stroke-opacity="1"/>
<line x1="261.40" y1="259.40" x2="261.40" y2="259.40" stroke="#e0602f" stroke-width="1.5" />
<path d="M259.95,259.40 L262.85,257.95 L262.85,260.85 Z" fill="#e0602f" fill-opacity="0.35" stroke="#e0602f" stroke-width="0.8" stroke-opacity="1"/>
<line x1="261.40" y1="265.75" x2="319.05" y2="265.75" stroke="#2176bd" stroke-width="1.5" />
<path d="M317.60,265.75 L320.50,264.30 L320.50,267.20 Z" fill="#2176bd" fill-opacity="0.35" stroke="#2176bd" stroke-width="0.8" stroke-opacity="1"/>
<line x1="261.40" y1="265.75" x2="264.52" y2="265.75" stroke="#e0602f" stroke-width="1.5" />
<path d="M263.07,265.75 L265.97,264.30 L265.97,267.20 Z" fill="#e0602f" fill-opacity="0.35" stroke="#e0602f" stroke-width="0.8" stroke-opacity="1"/>
<line x1="261.40" y1="272.11" x2="297.23" y2="272.11" stroke="#2176bd" stroke-width="1.5" />
<path d="M295.78,272.11 L298.68,270.66 L298.68,273.56 Z" fill="#2176bd" fill-opacity="0.35" stroke="#2176bd" stroke-width="0.8" stroke-opacity="1"/>
<line x1="261.40" y1="272.11" x2="264.52" y2="272.11" stroke="#e0602f" stroke-width="1.5" />
<path d="M263.07,272.11 L265.97,270.66 L265.97,273.56 Z" fill="#e0602f" fill-opacity="0.35" stroke="#e0602f" stroke-width="0.8" stroke-opacity="1"/>
<line x1="261.40" y1="278.46" x2="292.56" y2="278.46" stroke="#2176bd" stroke-width="1.5" />
<path d="M291.11,278.46 L294.01,277.01 L294.01,279.91 Z" fill="#2176bd" fill-opacity="0.35" stroke="#2176bd" stroke-width="0.8" stroke-opacity="1"/>
<line x1="261.40" y1="278.46" x2="261.40" y2="278.46" stroke="#e0602f" stroke-width="1.5" />
<path d="M259.95,278.46 L262.85,277.01 L262.85,279.91 Z" fill="#e0602f" fill-opacity="0.35" stroke="#e0602f" stroke-width="0.8" stroke-opacity="1"/>
<line x1="261.40" y1="284.82" x2="289.44" y2="284.82" stroke="#2176bd" stroke-width="1.5" />
<path d="M287.99,284.82 L290.89,283.37 L290.89,286.27 Z" fill="#2176bd" fill-opacity="0.35" stroke="#2176bd" stroke-width="0.8" stroke-opacity="1"/>
<line x1="261.40" y1="284.82" x2="262.18" y2="284.82" stroke="#e0602f" stroke-width="1.5" />
<path d="M260.73,284.82 L263.63,283.37 L263.63,286.27 Z" fill="#e0602f" fill-opacity="0.35" stroke="#e0602f" stroke-width="0.8" stroke-opacity="1"/>
<line x1="261.40" y1="291.17" x2="283.99" y2="291.17" stroke="#2176bd" stroke-width="1.5" />
<path d="M282.54,291.17 L285.44,289.72 L285.44,292.62 Z" fill="#2176bd" fill-opacity="0.35" stroke="#2176bd" stroke-width="0.8" stroke-opacity="1"/>
<line x1="261.40" y1="291.17" x2="261.40" y2="291.17" stroke="#e0602f" stroke-width="1.5" />
<path d="M259.95,291.17 L262.85,289.72 L262.85,292.62 Z" fill="#e0602f" fill-opacity="0.35" stroke="#e0602f" stroke-width="0.8" stroke-opacity="1"/>
<line x1="261.40" y1="297.53" x2="281.65" y2="297.53" stroke="#2176bd" stroke-width="1.5" />
<path d="M280.20,297.53 L283.10,296.08 L283.10,298.98 Z" fill="#2176bd" fill-opacity="0.35" stroke="#2176bd" stroke-width="0.8" stroke-opacity="1"/>
<line x1="261.40" y1="297.53" x2="262.18" y2="297.53" stroke="#e0602f" stroke-width="1.5" />
<path d="M260.73,297.53 L263.63,296.08 L263.63,298.98 Z" fill="#e0602f" fill-opacity="0.35" stroke="#e0602f" stroke-width="0.8" stroke-opacity="1"/>
<line x1="261.40" y1="303.88" x2="280.88" y2="303.88" stroke="#2176bd" stroke-width="1.5" />
<path d="M279.43,303.88 L282.32,302.43 L282.32,305.33 Z" fill="#2176bd" fill-opacity="0.35" stroke="#2176bd" stroke-width="0.8" stroke-opacity="1"/>
<line x1="261.40" y1="303.88" x2="261.40" y2="303.88" stroke="#e0602f" stroke-width="1.5" />
<path d="M259.95,303.88 L262.85,302.43 L262.85,305.33 Z" fill="#e0602f" fill-opacity="0.35" stroke="#e0602f" stroke-width="0.8" stroke-opacity="1"/>
<line x1="261.40" y1="310.24" x2="280.88" y2="310.24" stroke="#2176bd" stroke-width="1.5" />
<path d="M279.43,310.24 L282.32,308.79 L282.32,311.69 Z" fill="#2176bd" fill-opacity="0.35" stroke="#2176bd" stroke-width="0.8" stroke-opacity="1"/>
<line x1="261.40" y1="310.24" x2="278.54" y2="310.24" stroke="#e0602f" stroke-width="1.5" />
<path d="M277.09,310.24 L279.99,308.79 L279.99,311.69 Z" fill="#e0602f" fill-opacity="0.35" stroke="#e0602f" stroke-width="0.8" stroke-opacity="1"/>
<line x1="261.40" y1="316.59" x2="276.98" y2="316.59" stroke="#2176bd" stroke-width="1.5" />
<path d="M275.53,316.59 L278.43,315.14 L278.43,318.04 Z" fill="#2176bd" fill-opacity="0.35" stroke="#2176bd" stroke-width="0.8" stroke-opacity="1"/>
<line x1="261.40" y1="316.59" x2="261.40" y2="316.59" stroke="#e0602f" stroke-width="1.5" />
<path d="M259.95,316.59 L262.85,315.14 L262.85,318.04 Z" fill="#e0602f" fill-opacity="0.35" stroke="#e0602f" stroke-width="0.8" stroke-opacity="1"/>
<line x1="261.40" y1="322.95" x2="267.63" y2="322.95" stroke="#2176bd" stroke-width="1.5" />
<path d="M266.18,322.95 L269.08,321.50 L269.08,324.40 Z" fill="#2176bd" fill-opacity="0.35" stroke="#2176bd" stroke-width="0.8" stroke-opacity="1"/>
<line x1="261.40" y1="322.95" x2="266.85" y2="322.95" stroke="#e0602f" stroke-width="1.5" />
<path d="M265.40,322.95 L268.30,321.50 L268.30,324.40 Z" fill="#e0602f" fill-opacity="0.35" stroke="#e0602f" stroke-width="0.8" stroke-opacity="1"/>
<line x1="261.40" y1="103.60" x2="261.40" y2="327.30" stroke="#666" stroke-width="1" />
<line x1="261.40" y1="327.30" x2="339.30" y2="327.30" stroke="#666" stroke-width="1" />
<line x1="261.40" y1="327.30" x2="261.40" y2="325.00" stroke="#666" stroke-width="0.8" />
<text x="261.4" y="340.2" font-size="7.7" fill="#444" text-anchor="middle">0</text>
<line x1="276.98" y1="327.30" x2="276.98" y2="325.00" stroke="#666" stroke-width="0.8" />
<text x="276.97999999999996" y="340.2" font-size="7.7" fill="#444" text-anchor="middle">0.2</text>
<line x1="292.56" y1="327.30" x2="292.56" y2="325.00" stroke="#666" stroke-width="0.8" />
<text x="292.56" y="340.2" font-size="7.7" fill="#444" text-anchor="middle">0.4</text>
<line x1="308.14" y1="327.30" x2="308.14" y2="325.00" stroke="#666" stroke-width="0.8" />
<text x="308.14" y="340.2" font-size="7.7" fill="#444" text-anchor="middle">0.6</text>
<line x1="323.72" y1="327.30" x2="323.72" y2="325.00" stroke="#666" stroke-width="0.8" />
<text x="323.71999999999997" y="340.2" font-size="7.7" fill="#444" text-anchor="middle">0.8</text>
<line x1="339.30" y1="327.30" x2="339.30" y2="325.00" stroke="#666" stroke-width="0.8" />
<text x="339.29999999999995" y="340.2" font-size="7.7" fill="#444" text-anchor="middle">1</text>
<text x="297" y="356" font-size="9.3" fill="#333" text-anchor="middle">Contribution</text>
<path d="M384.50,87.80 L384.83,88.61 L385.17,89.40 L385.50,90.18 L385.84,90.93 L386.17,91.67 L386.50,92.38 L386.84,93.06 L387.17,93.72 L387.51,94.35 L387.84,94.95 L388.18,95.53 L388.51,96.09 L388.84,96.66 L389.18,97.21 L389.51,97.76 L389.85,98.29 L390.18,98.80 L390.51,99.28 L390.85,99.73 L391.18,100.14 L391.52,100.51 L391.85,100.82 L392.18,101.09 L392.52,101.33 L392.85,101.56 L393.19,101.77 L393.52,101.94 L393.86,102.06 L394.19,102.10 L394.52,102.09 L394.86,102.07 L395.19,102.03 L395.53,101.99 L395.86,101.93 L396.19,101.86 L396.53,101.79 L396.86,101.71 L397.20,101.62 L397.53,101.54 L397.86,101.45 L398.20,101.36 L398.53,101.28 L398.87,101.20 L399.20,101.12 L399.54,101.05 L399.87,100.97 L400.20,100.89 L400.54,100.81 L400.87,100.72 L401.21,100.63 L401.54,100.54 L401.87,100.44 L402.21,100.35 L402.54,100.26 L402.88,100.18 L403.21,100.10 L403.54,100.02 L403.88,99.94 L404.21,99.88 L404.55,99.82 L404.88,99.77 L405.21,99.73 L405.55,99.70 L405.88,99.67 L406.22,99.65 L406.55,99.63 L406.89,99.61 L407.22,99.59 L407.55,99.57 L407.89,99.56 L408.22,99.55 L408.56,99.54 L408.89,99.52 L409.22,99.51 L409.56,99.50 L409.89,99.49 L410.23,99.48 L410.56,99.47 L410.89,99.46 L411.23,99.45 L411.56,99.43 L411.90,99.42 L412.23,99.40 L412.57,99.38 L412.90,99.36 L413.23,99.34 L413.57,99.31 L413.90,99.28 L414.24,99.24 L414.57,99.20 L414.90,99.15 L415.24,99.09 L415.57,99.03 L415.91,98.96 L416.24,98.88 L416.57,98.80 L416.91,98.72 L417.24,98.63 L417.58,98.54 L417.91,98.43 L418.25,98.30 L418.58,98.15 L418.91,97.98 L419.25,97.79 L419.58,97.59 L419.92,97.39 L420.25,97.18 L420.58,96.97 L420.92,96.77 L421.25,96.58 L421.59,96.40 L421.92,96.24 L422.25,96.08 L422.59,95.90 L422.92,95.72 L423.26,95.54 L423.59,95.35 L423.93,95.17 L424.26,95.00 L424.59,94.83 L424.93,94.68 L425.26,94.54 L425.60,94.43 L425.93,94.33 L426.26,94.26 L426.60,94.21 L426.93,94.20 L427.27,94.21 L427.60,94.22 L427.93,94.24 L428.27,94.27 L428.60,94.31 L428.94,94.35 L429.27,94.40 L429.61,94.45 L429.94,94.50 L430.27,94.56 L430.61,94.63 L430.94,94.69 L431.28,94.76 L431.61,94.82 L431.94,94.89 L432.28,94.97 L432.61,95.07 L432.95,95.20 L433.28,95.34 L433.61,95.50 L433.95,95.65 L434.28,95.81 L434.62,95.95 L434.95,96.08 L435.29,96.18 L435.62,96.26 L435.95,96.30 L436.29,96.30 L436.62,96.27 L436.96,96.22 L437.29,96.15 L437.62,96.06 L437.96,95.97 L438.29,95.87 L438.63,95.76 L438.96,95.65 L439.29,95.55 L439.63,95.45 L439.96,95.36 L440.30,95.29 L440.63,95.24 L440.96,95.21 L441.30,95.20 L441.63,95.22 L441.97,95.27 L442.30,95.34 L442.64,95.42 L442.97,95.51 L443.30,95.61 L443.64,95.71 L443.97,95.81 L444.31,95.90 L444.64,96.00 L444.97,96.12 L445.31,96.25 L445.64,96.38 L445.98,96.51 L446.31,96.64 L446.64,96.74 L446.98,96.83 L447.31,96.89 L447.65,96.92 L447.98,96.95 L448.32,96.97 L448.65,96.99 L448.98,97.01 L449.32,97.02 L449.65,97.04 L449.99,97.05 L450.32,97.06 L450.65,97.07 L450.99,97.08 L451.32,97.10 L451.66,97.11 L451.99,97.13 L452.32,97.15 L452.66,97.18 L452.99,97.21 L453.33,97.25 L453.66,97.32 L454.00,97.39 L454.33,97.49 L454.66,97.59 L455.00,97.71 L455.33,97.83 L455.67,97.97 L456.00,98.11 L456.33,98.26 L456.67,98.41 L457.00,98.57 L457.34,98.73 L457.67,98.89 L458.00,99.05 L458.34,99.20 L458.67,99.35 L459.01,99.50 L459.34,99.66 L459.68,99.84 L460.01,100.04 L460.34,100.25 L460.68,100.47 L461.01,100.70 L461.35,100.93 L461.68,101.16 L462.01,101.39 L462.35,101.60 L462.68,101.81 L463.02,102.00 L463.35,102.17 L463.68,102.32 L464.02,102.44 L464.35,102.53 L464.69,102.58 L465.02,102.60 L465.36,102.60 L465.69,102.60 L466.02,102.60 L466.36,102.60 L466.69,102.60 L467.03,102.60 L467.36,102.60 L467.69,102.60 L468.03,102.60 L468.36,102.60 L468.70,102.60 L469.03,102.60 L469.36,102.60 L469.70,102.60 L470.03,102.60 L470.37,102.60 L470.70,102.60 L471.04,102.60 L471.37,102.60 L471.70,102.60 L472.04,102.60 L472.37,102.60 L472.71,102.60 L473.04,102.60 L473.37,102.60 L473.71,102.60 L474.04,102.60 L474.38,102.42 L474.71,102.01 L475.04,101.39 L475.38,100.61 L475.71,99.72 L476.05,98.75 L476.38,97.76 L476.71,96.79 L477.05,95.87 L477.38,94.86 L477.72,93.71 L478.05,92.48 L478.39,91.24 L478.72,90.06 L479.05,89.00 L479.39,88.13 L479.72,87.37 L480.06,86.60 L480.39,85.84 L480.72,85.09 L481.06,84.37 L481.39,83.67 L481.73,83.02 L482.06,82.42 L482.39,81.89 L482.73,81.43 L483.06,81.05 L483.40,80.76 L483.73,80.57 L484.07,80.50 L484.40,80.56 L484.73,80.75 L485.07,81.07 L485.40,81.48 L485.74,81.99 L486.07,82.58 L486.40,83.23 L486.74,83.92 L487.07,84.64 L487.41,85.37 L487.74,86.11 L488.07,86.83 L488.41,87.52 L488.74,88.26 L489.08,89.11 L489.41,90.03 L489.75,90.99 L490.08,91.95 L490.41,92.88 L490.75,93.74 L491.08,94.50 L491.42,95.13 L491.75,95.69 L492.08,96.26 L492.42,96.81 L492.75,97.31 L493.09,97.73 L493.42,98.06 L493.75,98.25 L494.09,98.30 L494.42,98.22 L494.76,98.07 L495.09,97.85 L495.43,97.57 L495.76,97.25 L496.09,96.90 L496.43,96.53 L496.76,96.16 L497.10,95.81 L497.43,95.45 L497.76,95.03 L498.10,94.55 L498.43,94.04 L498.77,93.51 L499.10,92.98 L499.43,92.47 L499.77,91.99 L500.10,91.57 L500.44,91.22 L500.77,90.95 L501.11,90.71 L501.44,90.48 L501.77,90.25 L502.11,90.04 L502.44,89.83 L502.78,89.63 L503.11,89.45 L503.44,89.29 L503.78,89.14 L504.11,89.02 L504.45,88.93 L504.78,88.85 L505.11,88.81 L505.45,88.80 L505.78,88.81 L506.12,88.84 L506.45,88.88 L506.79,88.94 L507.12,89.01 L507.45,89.08 L507.79,89.17 L508.12,89.27 L508.46,89.37 L508.79,89.48 L509.12,89.60 L509.46,89.71 L509.79,89.83 L510.13,89.95 L510.46,90.09 L510.79,90.27 L511.13,90.47 L511.46,90.69 L511.80,90.94 L512.13,91.19 L512.46,91.46 L512.80,91.74 L513.13,92.02 L513.47,92.29 L513.80,92.57 L514.14,92.83 L514.47,93.09 L514.80,93.32 L515.14,93.54 L515.47,93.74 L515.81,93.90 L516.14,94.05 L516.47,94.19 L516.81,94.33 L517.14,94.46 L517.48,94.58 L517.81,94.70 L518.14,94.82 L518.48,94.93 L518.81,95.04 L519.15,95.15 L519.48,95.25 L519.82,95.35 L520.15,95.45 L520.48,95.55 L520.82,95.65 L521.15,95.75 L521.49,95.85 L521.82,95.95 L522.15,96.05 L522.49,96.15 L522.82,96.24 L523.16,96.34 L523.49,96.43 L523.82,96.52 L524.16,96.60 L524.49,96.69 L524.83,96.77 L525.16,96.86 L525.50,96.94 L525.83,97.02 L526.16,97.10 L526.50,97.18 L526.83,97.27 L527.17,97.35 L527.50,97.43 L527.83,97.51 L528.17,97.60 L528.50,97.69 L528.84,97.77 L529.17,97.86 L529.50,97.96 L529.84,98.05 L530.17,98.15 L530.51,98.25 L530.84,98.35 L531.18,98.46 L531.51,98.57 L531.84,98.68 L532.18,98.80 L532.51,98.94 L532.85,99.08 L533.18,99.24 L533.51,99.40 L533.85,99.57 L534.18,99.74 L534.52,99.92 L534.85,100.10 L535.18,100.28 L535.52,100.45 L535.85,100.62 L536.19,100.79 L536.52,100.94 L536.86,101.09 L537.19,101.23 L537.52,101.35 L537.86,101.46 L538.19,101.55 L538.53,101.65 L538.86,101.74 L539.19,101.83 L539.53,101.93 L539.86,102.02 L540.20,102.11 L540.53,102.19 L540.86,102.27 L541.20,102.35 L541.53,102.43 L541.87,102.50 L542.20,102.57 L542.54,102.63 L542.87,102.69 L543.20,102.74 L543.54,102.79 L543.87,102.80 L544.21,102.80 L544.54,102.80 L544.87,102.80 L545.21,102.80 L545.54,102.80 L545.88,102.80 L546.21,102.80 L546.54,102.80 L546.88,102.80 L547.21,102.80 L547.55,102.80 L547.88,102.80 L548.21,102.80 L548.55,102.80 L548.88,102.80 L549.22,102.80 L549.55,102.80 L549.89,102.80 L550.22,102.80 L550.55,102.80 L550.89,102.80 L551.22,102.80 L551.56,102.80 L551.89,102.80 L552.22,102.78 L552.56,101.74 L552.89,100.03 L553.23,97.86 L553.56,95.43 L553.89,92.96 L554.23,90.66 L554.56,88.73 L554.90,87.35 L555.23,86.12 L555.57,84.88 L555.90,83.66 L556.23,82.48 L556.57,81.37 L556.90,80.34 L557.24,79.41 L557.57,78.62 L557.90,77.98 L558.24,77.52 L558.57,77.25 L558.91,77.21 L559.24,77.38 L559.57,77.72 L559.91,78.21 L560.24,78.82 L560.58,79.53 L560.91,80.31 L561.25,81.13 L561.58,81.96 L561.91,82.78 L562.25,83.56 L562.58,84.27 L562.92,85.04 L563.25,85.89 L563.58,86.79 L563.92,87.68 L564.25,88.54 L564.59,89.33 L564.92,90.00 L565.25,90.53 L565.59,90.90 L565.92,91.24 L566.26,91.56 L566.59,91.85 L566.93,92.11 L567.26,92.30 L567.59,92.44 L567.93,92.50 L568.26,92.46 L568.60,92.29 L568.93,92.01 L569.26,91.65 L569.60,91.24 L569.93,90.79 L570.27,90.33 L570.60,89.89 L570.93,89.48 L571.27,89.13 L571.60,88.78 L571.94,88.41 L572.27,88.01 L572.61,87.61 L572.94,87.21 L573.27,86.83 L573.61,86.48 L573.94,86.16 L574.28,85.89 L574.61,85.69 L574.94,85.55 L575.28,85.50 L575.61,85.53 L575.95,85.63 L576.28,85.78 L576.61,85.99 L576.95,86.24 L577.28,86.52 L577.62,86.83 L577.95,87.16 L578.29,87.50 L578.62,87.84 L578.95,88.17 L579.29,88.49 L579.62,88.82 L579.96,89.19 L580.29,89.60 L580.62,90.02 L580.96,90.47 L581.29,90.91 L581.63,91.35 L581.96,91.77 L582.29,92.17 L582.63,92.54 L582.96,92.86 L583.30,93.15 L583.63,93.43 L583.96,93.70 L584.30,93.95 L584.63,94.20 L584.97,94.43 L585.30,94.66 L585.64,94.89 L585.97,95.11 L586.30,95.33 L586.64,95.55 L586.97,95.78 L587.31,96.01 L587.64,96.24 L587.97,96.48 L588.31,96.73 L588.64,96.98 L588.98,97.23 L589.31,97.48 L589.64,97.73 L589.98,97.99 L590.31,98.24 L590.65,98.50 L590.98,98.75 L591.32,99.00 L591.65,99.25 L591.98,99.50 L592.32,99.74 L592.65,99.99 L592.99,100.26 L593.32,100.56 L593.65,100.86 L593.99,101.16 L594.32,101.46 L594.66,101.75 L594.99,102.03 L595.32,102.28 L595.66,102.49 L595.99,102.67 L596.33,102.80 L596.66,102.80 L597.00,102.80 L597.33,102.80 L597.66,102.80 L598.00,102.80 L598.33,102.80 L598.67,102.80 L599.00,102.80 L599.00,102.80 L384.50,102.80 Z" fill="#1a63b4" fill-opacity="0.8" stroke="#2a2a2a" stroke-width="0.7" stroke-linejoin="round"/>
<path d="M384.50,102.80 L384.83,102.78 L385.17,102.75 L385.50,102.73 L385.84,102.70 L386.17,102.68 L386.50,102.65 L386.84,102.63 L387.17,102.60 L387.51,102.58 L387.84,102.55 L388.18,102.53 L388.51,102.50 L388.84,102.47 L389.18,102.44 L389.51,102.42 L389.85,102.39 L390.18,102.36 L390.51,102.33 L390.85,102.31 L391.18,102.28 L391.52,102.25 L391.85,102.22 L392.18,102.19 L392.52,102.16 L392.85,102.13 L393.19,102.10 L393.52,102.07 L393.86,102.04 L394.19,102.01 L394.52,101.97 L394.86,101.94 L395.19,101.91 L395.53,101.87 L395.86,101.84 L396.19,101.80 L396.53,101.77 L396.86,101.74 L397.20,101.70 L397.53,101.67 L397.86,101.64 L398.20,101.61 L398.53,101.58 L398.87,101.55 L399.20,101.52 L399.54,101.49 L399.87,101.46 L400.20,101.43 L400.54,101.40 L400.87,101.38 L401.21,101.35 L401.54,101.32 L401.87,101.29 L402.21,101.26 L402.54,101.23 L402.88,101.21 L403.21,101.18 L403.54,101.15 L403.88,101.13 L404.21,101.10 L404.55,101.07 L404.88,101.05 L405.21,101.02 L405.55,101.00 L405.88,100.97 L406.22,100.95 L406.55,100.93 L406.89,100.90 L407.22,100.88 L407.55,100.86 L407.89,100.84 L408.22,100.82 L408.56,100.80 L408.89,100.78 L409.22,100.76 L409.56,100.74 L409.89,100.72 L410.23,100.70 L410.56,100.68 L410.89,100.66 L411.23,100.64 L411.56,100.63 L411.90,100.61 L412.23,100.59 L412.57,100.57 L412.90,100.56 L413.23,100.54 L413.57,100.52 L413.90,100.51 L414.24,100.49 L414.57,100.48 L414.90,100.46 L415.24,100.45 L415.57,100.43 L415.91,100.42 L416.24,100.40 L416.57,100.39 L416.91,100.37 L417.24,100.36 L417.58,100.35 L417.91,100.33 L418.25,100.32 L418.58,100.31 L418.91,100.30 L419.25,100.28 L419.58,100.27 L419.92,100.26 L420.25,100.25 L420.58,100.24 L420.92,100.23 L421.25,100.22 L421.59,100.21 L421.92,100.20 L422.25,100.19 L422.59,100.18 L422.92,100.17 L423.26,100.16 L423.59,100.15 L423.93,100.14 L424.26,100.13 L424.59,100.12 L424.93,100.11 L425.26,100.10 L425.60,100.09 L425.93,100.09 L426.26,100.08 L426.60,100.07 L426.93,100.06 L427.27,100.05 L427.60,100.04 L427.93,100.03 L428.27,100.02 L428.60,100.01 L428.94,100.00 L429.27,99.99 L429.61,99.98 L429.94,99.97 L430.27,99.97 L430.61,99.96 L430.94,99.95 L431.28,99.94 L431.61,99.94 L431.94,99.93 L432.28,99.92 L432.61,99.91 L432.95,99.91 L433.28,99.90 L433.61,99.89 L433.95,99.88 L434.28,99.88 L434.62,99.87 L434.95,99.86 L435.29,99.85 L435.62,99.84 L435.95,99.83 L436.29,99.82 L436.62,99.81 L436.96,99.80 L437.29,99.79 L437.62,99.77 L437.96,99.76 L438.29,99.74 L438.63,99.73 L438.96,99.71 L439.29,99.69 L439.63,99.67 L439.96,99.65 L440.30,99.62 L440.63,99.58 L440.96,99.54 L441.30,99.49 L441.63,99.45 L441.97,99.39 L442.30,99.33 L442.64,99.27 L442.97,99.20 L443.30,99.13 L443.64,99.06 L443.97,98.98 L444.31,98.90 L444.64,98.80 L444.97,98.68 L445.31,98.53 L445.64,98.36 L445.98,98.17 L446.31,97.97 L446.64,97.75 L446.98,97.53 L447.31,97.29 L447.65,97.05 L447.98,96.81 L448.32,96.56 L448.65,96.31 L448.98,96.05 L449.32,95.76 L449.65,95.46 L449.99,95.15 L450.32,94.82 L450.65,94.48 L450.99,94.13 L451.32,93.78 L451.66,93.41 L451.99,93.03 L452.32,92.64 L452.66,92.24 L452.99,91.82 L453.33,91.40 L453.66,90.97 L454.00,90.53 L454.33,90.07 L454.66,89.61 L455.00,89.14 L455.33,88.66 L455.67,88.18 L456.00,87.68 L456.33,87.17 L456.67,86.66 L457.00,86.14 L457.34,85.61 L457.67,85.07 L458.00,84.53 L458.34,83.97 L458.67,83.39 L459.01,82.80 L459.34,82.19 L459.68,81.57 L460.01,80.93 L460.34,80.29 L460.68,79.63 L461.01,78.95 L461.35,78.27 L461.68,77.58 L462.01,76.88 L462.35,76.18 L462.68,75.46 L463.02,74.74 L463.35,74.02 L463.68,73.29 L464.02,72.56 L464.35,71.82 L464.69,71.07 L465.02,70.25 L465.36,69.37 L465.69,68.45 L466.02,67.50 L466.36,66.55 L466.69,65.62 L467.03,64.73 L467.36,63.89 L467.69,63.13 L468.03,62.46 L468.36,61.91 L468.70,61.49 L469.03,61.10 L469.36,60.73 L469.70,60.38 L470.03,60.08 L470.37,59.84 L470.70,59.67 L471.04,59.60 L471.37,59.63 L471.70,59.76 L472.04,59.98 L472.37,60.28 L472.71,60.64 L473.04,61.06 L473.37,61.54 L473.71,62.05 L474.04,62.59 L474.38,63.16 L474.71,63.84 L475.04,64.76 L475.38,65.88 L475.71,67.16 L476.05,68.58 L476.38,70.10 L476.71,71.68 L477.05,73.29 L477.38,74.90 L477.72,76.48 L478.05,78.14 L478.39,79.96 L478.72,81.90 L479.05,83.91 L479.39,85.94 L479.72,87.95 L480.06,89.89 L480.39,91.72 L480.72,93.38 L481.06,94.84 L481.39,96.31 L481.73,97.83 L482.06,99.31 L482.39,100.65 L482.73,101.78 L483.06,102.58 L483.40,102.80 L483.73,102.80 L484.07,102.80 L484.40,102.80 L484.73,102.80 L485.07,102.80 L485.40,102.80 L485.74,102.80 L486.07,102.80 L486.40,102.80 L486.74,102.80 L487.07,102.80 L487.41,102.80 L487.74,102.80 L488.07,102.80 L488.41,102.80 L488.74,102.80 L489.08,102.80 L489.41,102.80 L489.75,102.80 L490.08,102.80 L490.41,102.80 L490.75,102.66 L491.08,102.46 L491.42,102.25 L491.75,102.03 L492.08,101.82 L492.42,101.62 L492.75,101.44 L493.09,101.31 L493.42,101.22 L493.75,101.20 L494.09,101.23 L494.42,101.31 L494.76,101.43 L495.09,101.58 L495.43,101.75 L495.76,101.93 L496.09,102.12 L496.43,102.32 L496.76,102.50 L497.10,102.66 L497.43,102.80 L497.76,102.80 L498.10,102.80 L498.43,102.80 L498.77,102.80 L499.10,102.80 L499.43,102.80 L499.77,102.80 L500.10,102.80 L500.44,102.80 L500.77,102.80 L501.11,102.80 L501.44,102.80 L501.77,102.80 L502.11,102.80 L502.44,102.80 L502.78,102.80 L503.11,102.80 L503.44,102.80 L503.78,102.80 L504.11,102.80 L504.45,102.80 L504.78,102.80 L505.11,102.80 L505.45,102.80 L505.78,102.80 L506.12,102.71 L506.45,102.42 L506.79,102.06 L507.12,101.66 L507.45,101.24 L507.79,100.84 L508.12,100.46 L508.46,100.03 L508.79,99.56 L509.12,99.08 L509.46,98.61 L509.79,98.21 L510.13,97.89 L510.46,97.59 L510.79,97.30 L511.13,97.03 L511.46,96.76 L511.80,96.50 L512.13,96.25 L512.46,96.01 L512.80,95.79 L513.13,95.57 L513.47,95.37 L513.80,95.18 L514.14,95.00 L514.47,94.83 L514.80,94.68 L515.14,94.54 L515.47,94.41 L515.81,94.30 L516.14,94.19 L516.47,94.09 L516.81,93.99 L517.14,93.89 L517.48,93.79 L517.81,93.70 L518.14,93.61 L518.48,93.53 L518.81,93.45 L519.15,93.39 L519.48,93.33 L519.82,93.28 L520.15,93.24 L520.48,93.22 L520.82,93.20 L521.15,93.20 L521.49,93.22 L521.82,93.27 L522.15,93.32 L522.49,93.40 L522.82,93.48 L523.16,93.58 L523.49,93.68 L523.82,93.78 L524.16,93.88 L524.49,93.98 L524.83,94.08 L525.16,94.17 L525.50,94.25 L525.83,94.34 L526.16,94.43 L526.50,94.53 L526.83,94.64 L527.17,94.74 L527.50,94.84 L527.83,94.94 L528.17,95.04 L528.50,95.13 L528.84,95.21 L529.17,95.28 L529.50,95.33 L529.84,95.37 L530.17,95.40 L530.51,95.40 L530.84,95.34 L531.18,95.23 L531.51,95.07 L531.84,94.86 L532.18,94.62 L532.51,94.34 L532.85,94.04 L533.18,93.72 L533.51,93.39 L533.85,93.05 L534.18,92.72 L534.52,92.33 L534.85,91.89 L535.18,91.39 L535.52,90.83 L535.85,90.24 L536.19,89.61 L536.52,88.95 L536.86,88.27 L537.19,87.57 L537.52,86.86 L537.86,86.15 L538.19,85.44 L538.53,84.75 L538.86,84.07 L539.19,83.41 L539.53,82.75 L539.86,82.07 L540.20,81.36 L540.53,80.64 L540.86,79.92 L541.20,79.19 L541.53,78.47 L541.87,77.76 L542.20,77.08 L542.54,76.42 L542.87,75.80 L543.20,75.22 L543.54,74.69 L543.87,74.19 L544.21,73.67 L544.54,73.13 L544.87,72.60 L545.21,72.08 L545.54,71.59 L545.88,71.14 L546.21,70.74 L546.54,70.41 L546.88,70.15 L547.21,69.97 L547.55,69.90 L547.88,69.93 L548.21,70.04 L548.55,70.23 L548.88,70.49 L549.22,70.81 L549.55,71.19 L549.89,71.61 L550.22,72.07 L550.55,72.56 L550.89,73.08 L551.22,73.75 L551.56,74.68 L551.89,75.85 L552.22,77.20 L552.56,78.69 L552.89,80.29 L553.23,81.94 L553.56,83.61 L553.89,85.29 L554.23,87.41 L554.56,89.95 L554.90,92.73 L555.23,95.53 L555.57,98.15 L555.90,100.39 L556.23,102.05 L556.57,102.80 L556.90,102.80 L557.24,102.80 L557.57,102.80 L557.90,102.80 L558.24,102.80 L558.57,102.80 L558.91,102.80 L559.24,102.80 L559.57,102.80 L559.91,102.80 L560.24,102.80 L560.58,102.80 L560.91,102.80 L561.25,102.80 L561.58,102.80 L561.91,102.80 L562.25,102.80 L562.58,102.80 L562.92,102.78 L563.25,102.61 L563.58,102.42 L563.92,102.20 L564.25,101.96 L564.59,101.73 L564.92,101.50 L565.25,101.29 L565.59,101.11 L565.92,100.96 L566.26,100.85 L566.59,100.75 L566.93,100.65 L567.26,100.56 L567.59,100.47 L567.93,100.38 L568.26,100.31 L568.60,100.24 L568.93,100.18 L569.26,100.14 L569.60,100.11 L569.93,100.10 L570.27,100.08 L570.60,100.08 L570.93,100.07 L571.27,100.06 L571.60,100.06 L571.94,100.06 L572.27,100.05 L572.61,100.05 L572.94,100.05 L573.27,100.04 L573.61,100.04 L573.94,100.03 L574.28,100.02 L574.61,100.01 L574.94,100.00 L575.28,99.95 L575.61,99.86 L575.95,99.72 L576.28,99.55 L576.61,99.35 L576.95,99.13 L577.28,98.89 L577.62,98.65 L577.95,98.40 L578.29,98.15 L578.62,97.91 L578.95,97.66 L579.29,97.39 L579.62,97.10 L579.96,96.80 L580.29,96.48 L580.62,96.14 L580.96,95.80 L581.29,95.45 L581.63,95.09 L581.96,94.72 L582.29,94.35 L582.63,93.98 L582.96,93.61 L583.30,93.24 L583.63,92.88 L583.96,92.51 L584.30,92.14 L584.63,91.77 L584.97,91.39 L585.30,91.01 L585.64,90.62 L585.97,90.23 L586.30,89.83 L586.64,89.43 L586.97,89.01 L587.31,88.60 L587.64,88.17 L587.97,87.73 L588.31,87.29 L588.64,86.83 L588.98,86.35 L589.31,85.87 L589.64,85.38 L589.98,84.88 L590.31,84.37 L590.65,83.86 L590.98,83.35 L591.32,82.84 L591.65,82.33 L591.98,81.82 L592.32,81.32 L592.65,80.81 L592.99,80.25 L593.32,79.65 L593.65,79.03 L593.99,78.42 L594.32,77.82 L594.66,77.27 L594.99,76.76 L595.32,76.33 L595.66,75.99 L595.99,75.75 L596.33,75.61 L596.66,75.48 L597.00,75.37 L597.33,75.26 L597.66,75.17 L598.00,75.10 L598.33,75.05 L598.67,75.01 L599.00,75.00 L599.00,102.80 L384.50,102.80 Z" fill="#d95319" fill-opacity="0.8" stroke="#2a2a2a" stroke-width="0.7" stroke-linejoin="round"/>
<line x1="384.50" y1="45.90" x2="384.50" y2="102.80" stroke="#666" stroke-width="1" />
<line x1="379.90" y1="45.90" x2="384.50" y2="45.90" stroke="#666" stroke-width="0.9" />
<text x="378.6" y="48.60000000000001" font-size="7.7" fill="#444" text-anchor="end">0.04</text>
<line x1="379.90" y1="74.35" x2="384.50" y2="74.35" stroke="#666" stroke-width="0.9" />
<text x="378.6" y="77.05" font-size="7.7" fill="#444" text-anchor="end">0.02</text>
<line x1="379.90" y1="102.80" x2="384.50" y2="102.80" stroke="#666" stroke-width="0.9" />
<text x="378.6" y="105.5" font-size="7.7" fill="#444" text-anchor="end">0</text>
<text x="358.2" y="84.5" font-size="9.3" fill="#333" text-anchor="middle" transform="rotate(-90 358.2 84.5)">Magnitude</text>
<line x1="462.30" y1="52.90" x2="477.50" y2="52.90" stroke="#e0562a" stroke-width="1.8" />
<line x1="462.30" y1="50.30" x2="462.30" y2="55.50" stroke="#e0562a" stroke-width="1.5" />
<line x1="477.50" y1="52.90" x2="486.10" y2="52.90" stroke="#1f74bd" stroke-width="1.8" />
<line x1="477.50" y1="50.30" x2="477.50" y2="55.50" stroke="#1f74bd" stroke-width="1.5" />
<line x1="486.10" y1="50.30" x2="486.10" y2="55.50" stroke="#1f74bd" stroke-width="1.5" />
<line x1="534.30" y1="52.90" x2="553.20" y2="52.90" stroke="#e0562a" stroke-width="1.8" />
<line x1="534.30" y1="50.30" x2="534.30" y2="55.50" stroke="#e0562a" stroke-width="1.5" />
<line x1="553.20" y1="52.90" x2="563.00" y2="52.90" stroke="#1f74bd" stroke-width="1.8" />
<line x1="553.20" y1="50.30" x2="553.20" y2="55.50" stroke="#1f74bd" stroke-width="1.5" />
<line x1="563.00" y1="50.30" x2="563.00" y2="55.50" stroke="#1f74bd" stroke-width="1.5" />
<line x1="591.40" y1="52.90" x2="598.90" y2="52.90" stroke="#e0562a" stroke-width="1.8" />
<line x1="591.40" y1="50.30" x2="591.40" y2="55.50" stroke="#e0562a" stroke-width="1.5" />
<rect x="604.50" y="65.20" width="20.80" height="8.20" fill="#4a82c4" stroke="#333" stroke-width="0.8" />
<rect x="604.50" y="77.30" width="20.80" height="8.20" fill="#e27a4e" stroke="#333" stroke-width="0.8" />
<text x="627" y="72.7" font-size="7.0" fill="#333">Retraction Module</text>
<text x="627" y="84.4" font-size="7.0" fill="#333">Protraction Module</text>
<rect x="384.30" y="106.20" width="214.90" height="6.89" fill="url(#hb0)"/>
<rect x="384.30" y="112.49" width="214.90" height="6.89" fill="url(#hb1)"/>
<rect x="384.30" y="118.77" width="214.90" height="6.89" fill="url(#hb2)"/>
<rect x="384.30" y="125.06" width="214.90" height="6.89" fill="url(#hb3)"/>
<rect x="384.30" y="131.34" width="214.90" height="6.89" fill="url(#hb4)"/>
<rect x="384.30" y="137.63" width="214.90" height="6.89" fill="url(#hb5)"/>
<rect x="384.30" y="143.92" width="214.90" height="6.89" fill="url(#hb6)"/>
<rect x="384.30" y="150.20" width="214.90" height="6.89" fill="url(#hb7)"/>
<rect x="384.30" y="156.49" width="214.90" height="6.89" fill="url(#hb8)"/>
<rect x="384.30" y="162.77" width="214.90" height="6.89" fill="url(#hb9)"/>
<rect x="384.30" y="169.06" width="214.90" height="6.89" fill="url(#hb10)"/>
<rect x="384.30" y="175.35" width="214.90" height="6.89" fill="url(#hb11)"/>
<rect x="384.30" y="181.63" width="214.90" height="6.89" fill="url(#hb12)"/>
<rect x="384.30" y="187.92" width="214.90" height="6.89" fill="url(#hb13)"/>
<rect x="384.30" y="194.20" width="214.90" height="6.89" fill="url(#hb14)"/>
<rect x="384.30" y="200.49" width="214.90" height="6.89" fill="url(#hb15)"/>
<rect x="384.30" y="206.78" width="214.90" height="6.89" fill="url(#hb16)"/>
<rect x="384.30" y="213.06" width="214.90" height="6.89" fill="url(#hb17)"/>
<rect x="384.30" y="219.35" width="214.90" height="6.89" fill="url(#hb18)"/>
<rect x="384.30" y="225.63" width="214.90" height="6.89" fill="url(#hb19)"/>
<rect x="384.30" y="231.92" width="214.90" height="6.89" fill="url(#hb20)"/>
<rect x="384.30" y="238.21" width="214.90" height="6.89" fill="url(#hb21)"/>
<rect x="384.30" y="244.49" width="214.90" height="6.89" fill="url(#hb22)"/>
<rect x="384.30" y="250.78" width="214.90" height="6.89" fill="url(#hb23)"/>
<rect x="384.30" y="257.06" width="214.90" height="6.89" fill="url(#hb24)"/>
<rect x="384.30" y="263.35" width="214.90" height="6.89" fill="url(#hb25)"/>
<rect x="384.30" y="269.64" width="214.90" height="6.89" fill="url(#hb26)"/>
<rect x="384.30" y="275.92" width="214.90" height="6.89" fill="url(#hb27)"/>
<rect x="384.30" y="282.21" width="214.90" height="6.89" fill="url(#hb28)"/>
<rect x="384.30" y="288.49" width="214.90" height="6.89" fill="url(#hb29)"/>
<rect x="384.30" y="294.78" width="214.90" height="6.89" fill="url(#hb30)"/>
<rect x="384.30" y="301.07" width="214.90" height="6.89" fill="url(#hb31)"/>
<rect x="384.30" y="307.35" width="214.90" height="6.89" fill="url(#hb32)"/>
<rect x="384.30" y="313.64" width="214.90" height="6.89" fill="url(#hb33)"/>
<rect x="384.30" y="319.92" width="214.90" height="6.89" fill="url(#hb34)"/>
<line x1="379.90" y1="109.34" x2="384.30" y2="109.34" stroke="#777" stroke-width="0.9" />
<text transform="translate(378.40 112.24) scale(0.8 1.05)" font-size="7.9" fill="#444" text-anchor="end">32</text>
<line x1="379.90" y1="115.63" x2="384.30" y2="115.63" stroke="#777" stroke-width="0.9" />
<text transform="translate(378.40 118.53) scale(0.8 1.05)" font-size="7.9" fill="#444" text-anchor="end">12</text>
<line x1="379.90" y1="121.92" x2="384.30" y2="121.92" stroke="#777" stroke-width="0.9" />
<text transform="translate(378.40 124.82) scale(0.8 1.05)" font-size="7.9" fill="#444" text-anchor="end">26</text>
<line x1="379.90" y1="128.20" x2="384.30" y2="128.20" stroke="#777" stroke-width="0.9" />
<text transform="translate(378.40 131.10) scale(0.8 1.05)" font-size="7.9" fill="#444" text-anchor="end">13</text>
<line x1="379.90" y1="134.49" x2="384.30" y2="134.49" stroke="#777" stroke-width="0.9" />
<text transform="translate(378.40 137.39) scale(0.8 1.05)" font-size="7.9" fill="#444" text-anchor="end">15</text>
<line x1="379.90" y1="140.77" x2="384.30" y2="140.77" stroke="#777" stroke-width="0.9" />
<text transform="translate(378.40 143.67) scale(0.8 1.05)" font-size="7.9" fill="#444" text-anchor="end">16</text>
<line x1="379.90" y1="147.06" x2="384.30" y2="147.06" stroke="#777" stroke-width="0.9" />
<text transform="translate(378.40 149.96) scale(0.8 1.05)" font-size="7.9" fill="#444" text-anchor="end">3</text>
<line x1="379.90" y1="153.34" x2="384.30" y2="153.34" stroke="#777" stroke-width="0.9" />
<text transform="translate(378.40 156.25) scale(0.8 1.05)" font-size="7.9" fill="#444" text-anchor="end">17</text>
<line x1="379.90" y1="159.63" x2="384.30" y2="159.63" stroke="#777" stroke-width="0.9" />
<text transform="translate(378.40 162.53) scale(0.8 1.05)" font-size="7.9" fill="#444" text-anchor="end">23</text>
<line x1="379.90" y1="165.92" x2="384.30" y2="165.92" stroke="#777" stroke-width="0.9" />
<text transform="translate(378.40 168.82) scale(0.8 1.05)" font-size="7.9" fill="#444" text-anchor="end">27</text>
<line x1="379.90" y1="172.20" x2="384.30" y2="172.20" stroke="#777" stroke-width="0.9" />
<text transform="translate(378.40 175.10) scale(0.8 1.05)" font-size="7.9" fill="#444" text-anchor="end">11</text>
<line x1="379.90" y1="178.49" x2="384.30" y2="178.49" stroke="#777" stroke-width="0.9" />
<text transform="translate(378.40 181.39) scale(0.8 1.05)" font-size="7.9" fill="#444" text-anchor="end">19</text>
<line x1="379.90" y1="184.77" x2="384.30" y2="184.77" stroke="#777" stroke-width="0.9" />
<text transform="translate(378.40 187.67) scale(0.8 1.05)" font-size="7.9" fill="#444" text-anchor="end">33</text>
<line x1="379.90" y1="191.06" x2="384.30" y2="191.06" stroke="#777" stroke-width="0.9" />
<text transform="translate(378.40 193.96) scale(0.8 1.05)" font-size="7.9" fill="#444" text-anchor="end">21</text>
<line x1="379.90" y1="197.35" x2="384.30" y2="197.35" stroke="#777" stroke-width="0.9" />
<text transform="translate(378.40 200.25) scale(0.8 1.05)" font-size="7.9" fill="#444" text-anchor="end">7</text>
<line x1="379.90" y1="203.63" x2="384.30" y2="203.63" stroke="#777" stroke-width="0.9" />
<text transform="translate(378.40 206.53) scale(0.8 1.05)" font-size="7.9" fill="#444" text-anchor="end">5</text>
<line x1="379.90" y1="209.92" x2="384.30" y2="209.92" stroke="#777" stroke-width="0.9" />
<text transform="translate(378.40 212.82) scale(0.8 1.05)" font-size="7.9" fill="#444" text-anchor="end">2</text>
<line x1="379.90" y1="216.20" x2="384.30" y2="216.20" stroke="#777" stroke-width="0.9" />
<text transform="translate(378.40 219.10) scale(0.8 1.05)" font-size="7.9" fill="#444" text-anchor="end">6</text>
<line x1="379.90" y1="222.49" x2="384.30" y2="222.49" stroke="#777" stroke-width="0.9" />
<text transform="translate(378.40 225.39) scale(0.8 1.05)" font-size="7.9" fill="#444" text-anchor="end">18</text>
<line x1="379.90" y1="228.78" x2="384.30" y2="228.78" stroke="#777" stroke-width="0.9" />
<text transform="translate(378.40 231.68) scale(0.8 1.05)" font-size="7.9" fill="#444" text-anchor="end">28</text>
<line x1="379.90" y1="235.06" x2="384.30" y2="235.06" stroke="#777" stroke-width="0.9" />
<text transform="translate(378.40 237.96) scale(0.8 1.05)" font-size="7.9" fill="#444" text-anchor="end">20</text>
<line x1="379.90" y1="241.35" x2="384.30" y2="241.35" stroke="#777" stroke-width="0.9" />
<text transform="translate(378.40 244.25) scale(0.8 1.05)" font-size="7.9" fill="#444" text-anchor="end">24</text>
<line x1="379.90" y1="247.63" x2="384.30" y2="247.63" stroke="#777" stroke-width="0.9" />
<text transform="translate(378.40 250.53) scale(0.8 1.05)" font-size="7.9" fill="#444" text-anchor="end">30</text>
<line x1="379.90" y1="253.92" x2="384.30" y2="253.92" stroke="#777" stroke-width="0.9" />
<text transform="translate(378.40 256.82) scale(0.8 1.05)" font-size="7.9" fill="#444" text-anchor="end">8</text>
<line x1="379.90" y1="260.21" x2="384.30" y2="260.21" stroke="#777" stroke-width="0.9" />
<text transform="translate(378.40 263.11) scale(0.8 1.05)" font-size="7.9" fill="#444" text-anchor="end">14</text>
<line x1="379.90" y1="266.49" x2="384.30" y2="266.49" stroke="#777" stroke-width="0.9" />
<text transform="translate(378.40 269.39) scale(0.8 1.05)" font-size="7.9" fill="#444" text-anchor="end">4</text>
<line x1="379.90" y1="272.78" x2="384.30" y2="272.78" stroke="#777" stroke-width="0.9" />
<text transform="translate(378.40 275.68) scale(0.8 1.05)" font-size="7.9" fill="#444" text-anchor="end">31</text>
<line x1="379.90" y1="279.06" x2="384.30" y2="279.06" stroke="#777" stroke-width="0.9" />
<text transform="translate(378.40 281.96) scale(0.8 1.05)" font-size="7.9" fill="#444" text-anchor="end">36</text>
<line x1="379.90" y1="285.35" x2="384.30" y2="285.35" stroke="#777" stroke-width="0.9" />
<text transform="translate(378.40 288.25) scale(0.8 1.05)" font-size="7.9" fill="#444" text-anchor="end">37</text>
<line x1="379.90" y1="291.64" x2="384.30" y2="291.64" stroke="#777" stroke-width="0.9" />
<text transform="translate(378.40 294.54) scale(0.8 1.05)" font-size="7.9" fill="#444" text-anchor="end">1</text>
<line x1="379.90" y1="297.92" x2="384.30" y2="297.92" stroke="#777" stroke-width="0.9" />
<text transform="translate(378.40 300.82) scale(0.8 1.05)" font-size="7.9" fill="#444" text-anchor="end">29</text>
<line x1="379.90" y1="304.21" x2="384.30" y2="304.21" stroke="#777" stroke-width="0.9" />
<text transform="translate(378.40 307.11) scale(0.8 1.05)" font-size="7.9" fill="#444" text-anchor="end">34</text>
<line x1="379.90" y1="310.50" x2="384.30" y2="310.50" stroke="#777" stroke-width="0.9" />
<text transform="translate(378.40 313.39) scale(0.8 1.05)" font-size="7.9" fill="#444" text-anchor="end">22</text>
<line x1="379.90" y1="316.78" x2="384.30" y2="316.78" stroke="#777" stroke-width="0.9" />
<text transform="translate(378.40 319.68) scale(0.8 1.05)" font-size="7.9" fill="#444" text-anchor="end">38</text>
<line x1="379.90" y1="323.07" x2="384.30" y2="323.07" stroke="#777" stroke-width="0.9" />
<text transform="translate(378.40 325.97) scale(0.8 1.05)" font-size="7.9" fill="#444" text-anchor="end">35</text>
<text x="358.3" y="224" font-size="9.3" fill="#333" text-anchor="middle" transform="rotate(-90 358.3 224)">Neurons</text>
<line x1="423.30" y1="326.30" x2="423.30" y2="330.10" stroke="#666" stroke-width="0.8" />
<text x="423.3" y="340.2" font-size="7.7" fill="#444" text-anchor="middle">20</text>
<line x1="501.40" y1="326.30" x2="501.40" y2="330.10" stroke="#666" stroke-width="0.8" />
<text x="501.4" y="340.2" font-size="7.7" fill="#444" text-anchor="middle">40</text>
<line x1="579.50" y1="326.30" x2="579.50" y2="330.10" stroke="#666" stroke-width="0.8" />
<text x="579.5" y="340.2" font-size="7.7" fill="#444" text-anchor="middle">60</text>
<text x="496" y="356" font-size="9.3" fill="#333" text-anchor="middle">Time (s)</text>
<line x1="604.10" y1="109.34" x2="666.11" y2="109.34" stroke="#efa283" stroke-width="1.5" />
<path d="M664.66,109.34 L667.56,107.89 L667.56,110.79 Z" fill="#efa283" fill-opacity="0.35" stroke="#efa283" stroke-width="0.8" stroke-opacity="1"/>
<line x1="604.10" y1="109.34" x2="653.71" y2="109.34" stroke="#7fb0dc" stroke-width="1.5" />
<path d="M652.26,109.34 L655.16,107.89 L655.16,110.79 Z" fill="#7fb0dc" fill-opacity="0.35" stroke="#7fb0dc" stroke-width="0.8" stroke-opacity="1"/>
<line x1="604.10" y1="115.63" x2="662.77" y2="115.63" stroke="#e0602f" stroke-width="1.5" />
<path d="M661.32,115.63 L664.22,114.18 L664.22,117.08 Z" fill="#e0602f" fill-opacity="0.35" stroke="#e0602f" stroke-width="0.8" stroke-opacity="1"/>
<line x1="604.10" y1="115.63" x2="604.10" y2="115.63" stroke="#2176bd" stroke-width="1.5" />
<path d="M602.65,115.63 L605.55,114.18 L605.55,117.08 Z" fill="#2176bd" fill-opacity="0.35" stroke="#2176bd" stroke-width="0.8" stroke-opacity="1"/>
<line x1="604.10" y1="121.92" x2="647.51" y2="121.92" stroke="#e0602f" stroke-width="1.5" />
<path d="M646.06,121.92 L648.96,120.47 L648.96,123.37 Z" fill="#e0602f" fill-opacity="0.35" stroke="#e0602f" stroke-width="0.8" stroke-opacity="1"/>
<line x1="604.10" y1="121.92" x2="632.72" y2="121.92" stroke="#2176bd" stroke-width="1.5" />
<path d="M631.27,121.92 L634.17,120.47 L634.17,123.37 Z" fill="#2176bd" fill-opacity="0.35" stroke="#2176bd" stroke-width="0.8" stroke-opacity="1"/>
<line x1="604.10" y1="128.20" x2="645.79" y2="128.20" stroke="#efa283" stroke-width="1.5" />
<path d="M644.34,128.20 L647.24,126.75 L647.24,129.65 Z" fill="#efa283" fill-opacity="0.35" stroke="#efa283" stroke-width="0.8" stroke-opacity="1"/>
<line x1="604.10" y1="128.20" x2="604.10" y2="128.20" stroke="#2176bd" stroke-width="1.5" />
<path d="M602.65,128.20 L605.55,126.75 L605.55,129.65 Z" fill="#2176bd" fill-opacity="0.35" stroke="#2176bd" stroke-width="0.8" stroke-opacity="1"/>
<line x1="604.10" y1="134.49" x2="638.44" y2="134.49" stroke="#efa283" stroke-width="1.5" />
<path d="M636.99,134.49 L639.89,133.04 L639.89,135.94 Z" fill="#efa283" fill-opacity="0.35" stroke="#efa283" stroke-width="0.8" stroke-opacity="1"/>
<line x1="604.10" y1="134.49" x2="604.10" y2="134.49" stroke="#2176bd" stroke-width="1.5" />
<path d="M602.65,134.49 L605.55,133.04 L605.55,135.94 Z" fill="#2176bd" fill-opacity="0.35" stroke="#2176bd" stroke-width="0.8" stroke-opacity="1"/>
<line x1="604.10" y1="140.77" x2="631.19" y2="140.77" stroke="#e0602f" stroke-width="1.5" />
<path d="M629.74,140.77 L632.64,139.32 L632.64,142.22 Z" fill="#e0602f" fill-opacity="0.35" stroke="#e0602f" stroke-width="0.8" stroke-opacity="1"/>
<line x1="604.10" y1="140.77" x2="604.10" y2="140.77" stroke="#2176bd" stroke-width="1.5" />
<path d="M602.65,140.77 L605.55,139.32 L605.55,142.22 Z" fill="#2176bd" fill-opacity="0.35" stroke="#2176bd" stroke-width="0.8" stroke-opacity="1"/>
<line x1="604.10" y1="147.06" x2="630.72" y2="147.06" stroke="#e0602f" stroke-width="1.5" />
<path d="M629.27,147.06 L632.17,145.61 L632.17,148.51 Z" fill="#e0602f" fill-opacity="0.35" stroke="#e0602f" stroke-width="0.8" stroke-opacity="1"/>
<line x1="604.10" y1="147.06" x2="605.05" y2="147.06" stroke="#2176bd" stroke-width="1.5" />
<path d="M603.60,147.06 L606.50,145.61 L606.50,148.51 Z" fill="#2176bd" fill-opacity="0.35" stroke="#2176bd" stroke-width="0.8" stroke-opacity="1"/>
<line x1="604.10" y1="153.34" x2="628.71" y2="153.34" stroke="#efa283" stroke-width="1.5" />
<path d="M627.26,153.34 L630.16,151.90 L630.16,154.79 Z" fill="#efa283" fill-opacity="0.35" stroke="#efa283" stroke-width="0.8" stroke-opacity="1"/>
<line x1="604.10" y1="153.34" x2="604.10" y2="153.34" stroke="#2176bd" stroke-width="1.5" />
<path d="M602.65,153.34 L605.55,151.90 L605.55,154.79 Z" fill="#2176bd" fill-opacity="0.35" stroke="#2176bd" stroke-width="0.8" stroke-opacity="1"/>
<line x1="604.10" y1="159.63" x2="627.47" y2="159.63" stroke="#e0602f" stroke-width="1.5" />
<path d="M626.02,159.63 L628.92,158.18 L628.92,161.08 Z" fill="#e0602f" fill-opacity="0.35" stroke="#e0602f" stroke-width="0.8" stroke-opacity="1"/>
<line x1="604.10" y1="159.63" x2="621.08" y2="159.63" stroke="#2176bd" stroke-width="1.5" />
<path d="M619.63,159.63 L622.53,158.18 L622.53,161.08 Z" fill="#2176bd" fill-opacity="0.35" stroke="#2176bd" stroke-width="0.8" stroke-opacity="1"/>
<line x1="604.10" y1="165.92" x2="618.70" y2="165.92" stroke="#e0602f" stroke-width="1.5" />
<path d="M617.25,165.92 L620.15,164.47 L620.15,167.37 Z" fill="#e0602f" fill-opacity="0.35" stroke="#e0602f" stroke-width="0.8" stroke-opacity="1"/>
<line x1="604.10" y1="165.92" x2="616.98" y2="165.92" stroke="#2176bd" stroke-width="1.5" />
<path d="M615.53,165.92 L618.43,164.47 L618.43,167.37 Z" fill="#2176bd" fill-opacity="0.35" stroke="#2176bd" stroke-width="0.8" stroke-opacity="1"/>
<line x1="604.10" y1="172.20" x2="609.63" y2="172.20" stroke="#e0602f" stroke-width="1.5" />
<path d="M608.18,172.20 L611.08,170.75 L611.08,173.65 Z" fill="#e0602f" fill-opacity="0.35" stroke="#e0602f" stroke-width="0.8" stroke-opacity="1"/>
<line x1="604.10" y1="172.20" x2="606.96" y2="172.20" stroke="#2176bd" stroke-width="1.5" />
<path d="M605.51,172.20 L608.41,170.75 L608.41,173.65 Z" fill="#2176bd" fill-opacity="0.35" stroke="#2176bd" stroke-width="0.8" stroke-opacity="1"/>
<line x1="604.10" y1="178.49" x2="607.63" y2="178.49" stroke="#e0602f" stroke-width="1.5" />
<path d="M606.18,178.49 L609.08,177.04 L609.08,179.94 Z" fill="#e0602f" fill-opacity="0.35" stroke="#e0602f" stroke-width="0.8" stroke-opacity="1"/>
<line x1="604.10" y1="178.49" x2="605.34" y2="178.49" stroke="#2176bd" stroke-width="1.5" />
<path d="M603.89,178.49 L606.79,177.04 L606.79,179.94 Z" fill="#2176bd" fill-opacity="0.35" stroke="#2176bd" stroke-width="0.8" stroke-opacity="1"/>
<line x1="604.10" y1="184.77" x2="670.88" y2="184.77" stroke="#2176bd" stroke-width="1.5" />
<path d="M669.43,184.77 L672.33,183.32 L672.33,186.22 Z" fill="#2176bd" fill-opacity="0.35" stroke="#2176bd" stroke-width="0.8" stroke-opacity="1"/>
<line x1="604.10" y1="184.77" x2="604.10" y2="184.77" stroke="#e0602f" stroke-width="1.5" />
<path d="M602.65,184.77 L605.55,183.32 L605.55,186.22 Z" fill="#e0602f" fill-opacity="0.35" stroke="#e0602f" stroke-width="0.8" stroke-opacity="1"/>
<line x1="604.10" y1="191.06" x2="661.34" y2="191.06" stroke="#2176bd" stroke-width="1.5" />
<path d="M659.89,191.06 L662.79,189.61 L662.79,192.51 Z" fill="#2176bd" fill-opacity="0.35" stroke="#2176bd" stroke-width="0.8" stroke-opacity="1"/>
<line x1="604.10" y1="191.06" x2="604.10" y2="191.06" stroke="#e0602f" stroke-width="1.5" />
<path d="M602.65,191.06 L605.55,189.61 L605.55,192.51 Z" fill="#e0602f" fill-opacity="0.35" stroke="#e0602f" stroke-width="0.8" stroke-opacity="1"/>
<line x1="604.10" y1="197.35" x2="634.06" y2="197.35" stroke="#7fb0dc" stroke-width="1.5" />
<path d="M632.61,197.35 L635.51,195.90 L635.51,198.80 Z" fill="#7fb0dc" fill-opacity="0.35" stroke="#7fb0dc" stroke-width="0.8" stroke-opacity="1"/>
<line x1="604.10" y1="197.35" x2="606.58" y2="197.35" stroke="#e0602f" stroke-width="1.5" />
<path d="M605.13,197.35 L608.03,195.90 L608.03,198.80 Z" fill="#e0602f" fill-opacity="0.35" stroke="#e0602f" stroke-width="0.8" stroke-opacity="1"/>
<line x1="604.10" y1="203.63" x2="631.77" y2="203.63" stroke="#2176bd" stroke-width="1.5" />
<path d="M630.32,203.63 L633.22,202.18 L633.22,205.08 Z" fill="#2176bd" fill-opacity="0.35" stroke="#2176bd" stroke-width="0.8" stroke-opacity="1"/>
<line x1="604.10" y1="203.63" x2="604.10" y2="203.63" stroke="#e0602f" stroke-width="1.5" />
<path d="M602.65,203.63 L605.55,202.18 L605.55,205.08 Z" fill="#e0602f" fill-opacity="0.35" stroke="#e0602f" stroke-width="0.8" stroke-opacity="1"/>
<line x1="604.10" y1="209.92" x2="631.89" y2="209.92" stroke="#2176bd" stroke-width="1.5" />
<path d="M630.44,209.92 L633.34,208.47 L633.34,211.37 Z" fill="#2176bd" fill-opacity="0.35" stroke="#2176bd" stroke-width="0.8" stroke-opacity="1"/>
<line x1="604.10" y1="209.92" x2="604.10" y2="209.92" stroke="#e0602f" stroke-width="1.5" />
<path d="M602.65,209.92 L605.55,208.47 L605.55,211.37 Z" fill="#e0602f" fill-opacity="0.35" stroke="#e0602f" stroke-width="0.8" stroke-opacity="1"/>
<line x1="604.10" y1="216.20" x2="624.36" y2="216.20" stroke="#2176bd" stroke-width="1.5" />
<path d="M622.91,216.20 L625.81,214.75 L625.81,217.65 Z" fill="#2176bd" fill-opacity="0.35" stroke="#2176bd" stroke-width="0.8" stroke-opacity="1"/>
<line x1="604.10" y1="216.20" x2="604.10" y2="216.20" stroke="#e0602f" stroke-width="1.5" />
<path d="M602.65,216.20 L605.55,214.75 L605.55,217.65 Z" fill="#e0602f" fill-opacity="0.35" stroke="#e0602f" stroke-width="0.8" stroke-opacity="1"/>
<line x1="604.10" y1="222.49" x2="623.79" y2="222.49" stroke="#7fb0dc" stroke-width="1.5" />
<path d="M622.34,222.49 L625.24,221.04 L625.24,223.94 Z" fill="#7fb0dc" fill-opacity="0.35" stroke="#7fb0dc" stroke-width="0.8" stroke-opacity="1"/>
<line x1="604.10" y1="222.49" x2="611.82" y2="222.49" stroke="#efa283" stroke-width="1.5" />
<path d="M610.37,222.49 L613.27,221.04 L613.27,223.94 Z" fill="#efa283" fill-opacity="0.35" stroke="#efa283" stroke-width="0.8" stroke-opacity="1"/>
<line x1="604.10" y1="228.78" x2="622.43" y2="228.78" stroke="#2176bd" stroke-width="1.5" />
<path d="M620.98,228.78 L623.88,227.33 L623.88,230.23 Z" fill="#2176bd" fill-opacity="0.35" stroke="#2176bd" stroke-width="0.8" stroke-opacity="1"/>
<line x1="604.10" y1="228.78" x2="617.03" y2="228.78" stroke="#e0602f" stroke-width="1.5" />
<path d="M615.58,228.78 L618.48,227.33 L618.48,230.23 Z" fill="#e0602f" fill-opacity="0.35" stroke="#e0602f" stroke-width="0.8" stroke-opacity="1"/>
<line x1="604.10" y1="235.06" x2="622.05" y2="235.06" stroke="#2176bd" stroke-width="1.5" />
<path d="M620.60,235.06 L623.50,233.61 L623.50,236.51 Z" fill="#2176bd" fill-opacity="0.35" stroke="#2176bd" stroke-width="0.8" stroke-opacity="1"/>
<line x1="604.10" y1="235.06" x2="614.91" y2="235.06" stroke="#e0602f" stroke-width="1.5" />
<path d="M613.46,235.06 L616.36,233.61 L616.36,236.51 Z" fill="#e0602f" fill-opacity="0.35" stroke="#e0602f" stroke-width="0.8" stroke-opacity="1"/>
<line x1="604.10" y1="241.35" x2="621.76" y2="241.35" stroke="#2176bd" stroke-width="1.5" />
<path d="M620.31,241.35 L623.21,239.90 L623.21,242.80 Z" fill="#2176bd" fill-opacity="0.35" stroke="#2176bd" stroke-width="0.8" stroke-opacity="1"/>
<line x1="604.10" y1="241.35" x2="614.33" y2="241.35" stroke="#efa283" stroke-width="1.5" />
<path d="M612.88,241.35 L615.78,239.90 L615.78,242.80 Z" fill="#efa283" fill-opacity="0.35" stroke="#efa283" stroke-width="0.8" stroke-opacity="1"/>
<line x1="604.10" y1="247.63" x2="619.93" y2="247.63" stroke="#2176bd" stroke-width="1.5" />
<path d="M618.48,247.63 L621.38,246.19 L621.38,249.08 Z" fill="#2176bd" fill-opacity="0.35" stroke="#2176bd" stroke-width="0.8" stroke-opacity="1"/>
<line x1="604.10" y1="247.63" x2="613.07" y2="247.63" stroke="#efa283" stroke-width="1.5" />
<path d="M611.62,247.63 L614.52,246.19 L614.52,249.08 Z" fill="#efa283" fill-opacity="0.35" stroke="#efa283" stroke-width="0.8" stroke-opacity="1"/>
<line x1="604.10" y1="253.92" x2="619.35" y2="253.92" stroke="#2176bd" stroke-width="1.5" />
<path d="M617.90,253.92 L620.80,252.47 L620.80,255.37 Z" fill="#2176bd" fill-opacity="0.35" stroke="#2176bd" stroke-width="0.8" stroke-opacity="1"/>
<line x1="604.10" y1="253.92" x2="605.06" y2="253.92" stroke="#e0602f" stroke-width="1.5" />
<path d="M603.61,253.92 L606.51,252.47 L606.51,255.37 Z" fill="#e0602f" fill-opacity="0.35" stroke="#e0602f" stroke-width="0.8" stroke-opacity="1"/>
<line x1="604.10" y1="260.21" x2="618.09" y2="260.21" stroke="#2176bd" stroke-width="1.5" />
<path d="M616.64,260.21 L619.54,258.76 L619.54,261.66 Z" fill="#2176bd" fill-opacity="0.35" stroke="#2176bd" stroke-width="0.8" stroke-opacity="1"/>
<line x1="604.10" y1="260.21" x2="607.67" y2="260.21" stroke="#e0602f" stroke-width="1.5" />
<path d="M606.22,260.21 L609.12,258.76 L609.12,261.66 Z" fill="#e0602f" fill-opacity="0.35" stroke="#e0602f" stroke-width="0.8" stroke-opacity="1"/>
<line x1="604.10" y1="266.49" x2="617.61" y2="266.49" stroke="#7fb0dc" stroke-width="1.5" />
<path d="M616.16,266.49 L619.06,265.04 L619.06,267.94 Z" fill="#7fb0dc" fill-opacity="0.35" stroke="#7fb0dc" stroke-width="0.8" stroke-opacity="1"/>
<line x1="604.10" y1="266.49" x2="605.06" y2="266.49" stroke="#e0602f" stroke-width="1.5" />
<path d="M603.61,266.49 L606.51,265.04 L606.51,267.94 Z" fill="#e0602f" fill-opacity="0.35" stroke="#e0602f" stroke-width="0.8" stroke-opacity="1"/>
<line x1="604.10" y1="272.78" x2="616.64" y2="272.78" stroke="#2176bd" stroke-width="1.5" />
<path d="M615.19,272.78 L618.09,271.33 L618.09,274.23 Z" fill="#2176bd" fill-opacity="0.35" stroke="#2176bd" stroke-width="0.8" stroke-opacity="1"/>
<line x1="604.10" y1="272.78" x2="605.55" y2="272.78" stroke="#e0602f" stroke-width="1.5" />
<path d="M604.10,272.78 L607.00,271.33 L607.00,274.23 Z" fill="#e0602f" fill-opacity="0.35" stroke="#e0602f" stroke-width="0.8" stroke-opacity="1"/>
<line x1="604.10" y1="279.06" x2="616.07" y2="279.06" stroke="#2176bd" stroke-width="1.5" />
<path d="M614.62,279.06 L617.52,277.62 L617.52,280.51 Z" fill="#2176bd" fill-opacity="0.35" stroke="#2176bd" stroke-width="0.8" stroke-opacity="1"/>
<line x1="604.10" y1="279.06" x2="613.36" y2="279.06" stroke="#e0602f" stroke-width="1.5" />
<path d="M611.91,279.06 L614.81,277.62 L614.81,280.51 Z" fill="#e0602f" fill-opacity="0.35" stroke="#e0602f" stroke-width="0.8" stroke-opacity="1"/>
<line x1="604.10" y1="285.35" x2="615.20" y2="285.35" stroke="#2176bd" stroke-width="1.5" />
<path d="M613.75,285.35 L616.65,283.90 L616.65,286.80 Z" fill="#2176bd" fill-opacity="0.35" stroke="#2176bd" stroke-width="0.8" stroke-opacity="1"/>
<line x1="604.10" y1="285.35" x2="613.07" y2="285.35" stroke="#efa283" stroke-width="1.5" />
<path d="M611.62,285.35 L614.52,283.90 L614.52,286.80 Z" fill="#efa283" fill-opacity="0.35" stroke="#efa283" stroke-width="0.8" stroke-opacity="1"/>
<line x1="604.10" y1="291.64" x2="614.52" y2="291.64" stroke="#7fb0dc" stroke-width="1.5" />
<path d="M613.07,291.64 L615.97,290.19 L615.97,293.09 Z" fill="#7fb0dc" fill-opacity="0.35" stroke="#7fb0dc" stroke-width="0.8" stroke-opacity="1"/>
<line x1="604.10" y1="291.64" x2="604.10" y2="291.64" stroke="#e0602f" stroke-width="1.5" />
<path d="M602.65,291.64 L605.55,290.19 L605.55,293.09 Z" fill="#e0602f" fill-opacity="0.35" stroke="#e0602f" stroke-width="0.8" stroke-opacity="1"/>
<line x1="604.10" y1="297.92" x2="612.11" y2="297.92" stroke="#2176bd" stroke-width="1.5" />
<path d="M610.66,297.92 L613.56,296.47 L613.56,299.37 Z" fill="#2176bd" fill-opacity="0.35" stroke="#2176bd" stroke-width="0.8" stroke-opacity="1"/>
<line x1="604.10" y1="297.92" x2="606.03" y2="297.92" stroke="#e0602f" stroke-width="1.5" />
<path d="M604.58,297.92 L607.48,296.47 L607.48,299.37 Z" fill="#e0602f" fill-opacity="0.35" stroke="#e0602f" stroke-width="0.8" stroke-opacity="1"/>
<line x1="604.10" y1="304.21" x2="611.63" y2="304.21" stroke="#2176bd" stroke-width="1.5" />
<path d="M610.18,304.21 L613.08,302.76 L613.08,305.66 Z" fill="#2176bd" fill-opacity="0.35" stroke="#2176bd" stroke-width="0.8" stroke-opacity="1"/>
<line x1="604.10" y1="304.21" x2="605.06" y2="304.21" stroke="#e0602f" stroke-width="1.5" />
<path d="M603.61,304.21 L606.51,302.76 L606.51,305.66 Z" fill="#e0602f" fill-opacity="0.35" stroke="#e0602f" stroke-width="0.8" stroke-opacity="1"/>
<line x1="604.10" y1="310.50" x2="610.85" y2="310.50" stroke="#efa283" stroke-width="1.5" />
<path d="M609.40,310.50 L612.30,309.05 L612.30,311.94 Z" fill="#efa283" fill-opacity="0.35" stroke="#efa283" stroke-width="0.8" stroke-opacity="1"/>
<line x1="604.10" y1="310.50" x2="610.85" y2="310.50" stroke="#2176bd" stroke-width="1.5" />
<path d="M609.40,310.50 L612.30,309.05 L612.30,311.94 Z" fill="#2176bd" fill-opacity="0.35" stroke="#2176bd" stroke-width="0.8" stroke-opacity="1"/>
<line x1="604.10" y1="316.78" x2="610.37" y2="316.78" stroke="#2176bd" stroke-width="1.5" />
<path d="M608.92,316.78 L611.82,315.33 L611.82,318.23 Z" fill="#2176bd" fill-opacity="0.35" stroke="#2176bd" stroke-width="0.8" stroke-opacity="1"/>
<line x1="604.10" y1="316.78" x2="605.06" y2="316.78" stroke="#e0602f" stroke-width="1.5" />
<path d="M603.61,316.78 L606.51,315.33 L606.51,318.23 Z" fill="#e0602f" fill-opacity="0.35" stroke="#e0602f" stroke-width="0.8" stroke-opacity="1"/>
<line x1="604.10" y1="323.07" x2="606.80" y2="323.07" stroke="#2176bd" stroke-width="1.5" />
<path d="M605.35,323.07 L608.25,321.62 L608.25,324.52 Z" fill="#2176bd" fill-opacity="0.35" stroke="#2176bd" stroke-width="0.8" stroke-opacity="1"/>
<line x1="604.10" y1="323.07" x2="605.06" y2="323.07" stroke="#e0602f" stroke-width="1.5" />
<path d="M603.61,323.07 L606.51,321.62 L606.51,324.52 Z" fill="#e0602f" fill-opacity="0.35" stroke="#e0602f" stroke-width="0.8" stroke-opacity="1"/>
<line x1="604.10" y1="106.60" x2="604.10" y2="326.80" stroke="#666" stroke-width="1" />
<line x1="604.10" y1="326.80" x2="681.20" y2="326.80" stroke="#666" stroke-width="1" />
<line x1="604.10" y1="326.80" x2="604.10" y2="324.50" stroke="#666" stroke-width="0.8" />
<text x="604.1" y="340.2" font-size="7.7" fill="#444" text-anchor="middle">0</text>
<line x1="623.34" y1="326.80" x2="623.34" y2="324.50" stroke="#666" stroke-width="0.8" />
<text x="623.34" y="340.2" font-size="7.7" fill="#444" text-anchor="middle">0.2</text>
<line x1="642.58" y1="326.80" x2="642.58" y2="324.50" stroke="#666" stroke-width="0.8" />
<text x="642.58" y="340.2" font-size="7.7" fill="#444" text-anchor="middle">0.4</text>
<line x1="661.82" y1="326.80" x2="661.82" y2="324.50" stroke="#666" stroke-width="0.8" />
<text x="661.82" y="340.2" font-size="7.7" fill="#444" text-anchor="middle">0.6</text>
<line x1="681.06" y1="326.80" x2="681.06" y2="324.50" stroke="#666" stroke-width="0.8" />
<text x="681.0600000000001" y="340.2" font-size="7.7" fill="#444" text-anchor="middle">0.8</text>
<text x="638.9" y="356" font-size="9.3" fill="#333" text-anchor="middle">Contribution</text>
<path d="M75.30,461.37 L76.28,460.24 L77.26,459.12 L78.24,458.01 L79.22,456.92 L80.20,455.84 L81.18,454.78 L82.16,453.74 L83.14,452.71 L84.12,451.70 L85.10,450.71 L86.08,449.73 L87.06,448.77 L88.04,447.83 L89.02,446.91 L90.00,446.01 L90.98,445.13 L91.96,444.26 L92.94,443.42 L93.92,442.59 L94.90,441.79 L95.88,441.01 L96.86,440.25 L97.84,439.51 L98.82,438.77 L99.80,438.00 L100.78,437.21 L101.76,436.41 L102.74,435.60 L103.72,434.79 L104.70,434.00 L105.68,433.22 L106.66,432.47 L107.64,431.75 L108.62,431.07 L109.60,430.43 L110.58,429.85 L111.56,429.33 L112.54,428.88 L113.52,428.51 L114.49,428.22 L115.47,428.02 L116.45,427.92 L117.43,427.91 L118.41,427.96 L119.39,428.04 L120.37,428.15 L121.35,428.30 L122.33,428.46 L123.31,428.65 L124.29,428.84 L125.27,429.05 L126.25,429.27 L127.23,429.53 L128.21,429.85 L129.19,430.21 L130.17,430.62 L131.15,431.07 L132.13,431.57 L133.11,432.12 L134.09,432.70 L135.07,433.33 L136.05,434.01 L137.03,434.72 L138.01,435.48 L138.99,436.27 L139.97,437.18 L140.95,438.32 L141.93,439.68 L142.91,441.21 L143.89,442.88 L144.87,444.66 L145.85,446.49 L146.83,448.36 L147.81,450.24 L148.79,452.37 L149.77,454.73 L150.75,457.18 L151.73,459.55 L152.71,461.67 L153.69,463.43 L154.67,465.01 L155.65,466.47 L156.63,467.83 L157.61,469.13 L158.59,470.40 L159.57,471.66 L160.55,472.95 L161.53,474.29 L162.51,475.70 L163.49,477.13 L164.47,478.55 L165.45,479.94 L166.43,481.25 L167.41,482.45 L168.39,483.51 L169.37,484.42 L170.35,485.27 L171.33,486.07 L172.31,486.84 L173.29,487.57 L174.27,488.26 L175.25,488.93 L176.23,489.56 L177.21,490.18 L178.19,490.77 L179.17,491.34 L180.15,491.90 L181.13,492.45 L182.11,493.00 L183.09,493.53 L184.07,494.07 L185.05,494.61 L186.03,495.15 L187.01,495.69 L187.99,496.23 L188.97,496.76 L189.95,497.28 L190.93,497.80 L191.91,498.29 L192.88,498.78 L193.86,499.24 L194.84,499.68 L195.82,500.10 L196.80,500.49 L197.78,500.85 L198.76,501.18 L199.74,501.48 L200.72,501.75 L201.70,502.03 L202.68,502.30 L203.66,502.57 L204.64,502.83 L205.62,503.09 L206.60,503.33 L207.58,503.56 L208.56,503.77 L209.54,503.97 L210.52,504.14 L211.50,504.29 L212.48,504.41 L213.46,504.50 L214.44,504.55 L215.42,504.58 L216.40,504.58 L217.38,504.58 L218.36,504.58 L219.34,504.58 L220.32,504.58 L221.30,504.58 L222.28,504.58 L223.26,504.58 L224.24,504.50 L225.22,504.27 L226.20,503.92 L227.18,503.45 L228.16,502.89 L229.14,502.27 L230.12,501.61 L231.10,500.93 L231.10,508.23 L230.12,508.94 L229.14,509.62 L228.16,510.24 L227.18,510.79 L226.20,511.24 L225.22,511.59 L224.24,511.81 L223.26,511.88 L222.28,511.86 L221.30,511.82 L220.32,511.75 L219.34,511.67 L218.36,511.58 L217.38,511.47 L216.40,511.37 L215.42,511.26 L214.44,511.15 L213.46,511.02 L212.48,510.88 L211.50,510.73 L210.52,510.56 L209.54,510.38 L208.56,510.20 L207.58,510.00 L206.60,509.80 L205.62,509.58 L204.64,509.36 L203.66,509.14 L202.68,508.90 L201.70,508.67 L200.72,508.42 L199.74,508.18 L198.76,507.93 L197.78,507.66 L196.80,507.39 L195.82,507.10 L194.84,506.80 L193.86,506.49 L192.88,506.17 L191.91,505.83 L190.93,505.48 L189.95,505.11 L188.97,504.73 L187.99,504.34 L187.01,503.93 L186.03,503.51 L185.05,503.07 L184.07,502.61 L183.09,502.12 L182.11,501.59 L181.13,501.01 L180.15,500.41 L179.17,499.77 L178.19,499.11 L177.21,498.41 L176.23,497.70 L175.25,496.96 L174.27,496.21 L173.29,495.44 L172.31,494.66 L171.33,493.87 L170.35,493.08 L169.37,492.28 L168.39,491.48 L167.41,490.69 L166.43,489.89 L165.45,489.06 L164.47,488.19 L163.49,487.26 L162.51,486.26 L161.53,485.15 L160.55,483.93 L159.57,482.60 L158.59,481.12 L157.61,479.50 L156.63,477.71 L155.65,475.74 L154.67,473.56 L153.69,471.17 L152.71,468.13 L151.73,464.36 L150.75,462.67 L149.77,461.28 L148.79,460.12 L147.81,459.15 L146.83,458.33 L145.85,457.59 L144.87,456.91 L143.89,456.23 L142.91,455.54 L141.93,454.88 L140.95,454.24 L139.97,453.64 L138.99,453.06 L138.01,452.53 L137.03,452.03 L136.05,451.57 L135.07,451.15 L134.09,450.79 L133.11,450.47 L132.13,450.19 L131.15,449.91 L130.17,449.63 L129.19,449.36 L128.21,449.11 L127.23,448.86 L126.25,448.62 L125.27,448.40 L124.29,448.19 L123.31,448.00 L122.33,447.84 L121.35,447.69 L120.37,447.57 L119.39,447.48 L118.41,447.42 L117.43,447.38 L116.45,447.39 L115.47,447.46 L114.49,447.59 L113.52,447.80 L112.54,448.06 L111.56,448.38 L110.58,448.75 L109.60,449.16 L108.62,449.62 L107.64,450.12 L106.66,450.65 L105.68,451.21 L104.70,451.80 L103.72,452.40 L102.74,453.03 L101.76,453.66 L100.78,454.31 L99.80,454.95 L98.82,455.60 L97.84,456.24 L96.86,456.95 L95.88,457.77 L94.90,458.68 L93.92,459.65 L92.94,460.66 L91.96,461.68 L90.98,462.68 L90.00,463.65 L89.02,464.55 L88.04,465.41 L87.06,466.27 L86.08,467.13 L85.10,467.97 L84.12,468.81 L83.14,469.64 L82.16,470.47 L81.18,471.28 L80.20,472.09 L79.22,472.89 L78.24,473.67 L77.26,474.45 L76.28,475.22 L75.30,475.98 Z" fill="#f5c3aa" stroke="none"/>
<line x1="153.3" y1="406.0" x2="153.3" y2="527.7" stroke="#888" stroke-width="0.8" stroke-dasharray="2.2,1.6"/>
<path d="M75.30,468.68 L76.28,467.77 L77.26,466.87 L78.24,465.96 L79.22,465.05 L80.20,464.13 L81.18,463.21 L82.16,462.27 L83.14,461.33 L84.12,460.37 L85.10,459.40 L86.08,458.42 L87.06,457.43 L88.04,456.42 L89.02,455.41 L90.00,454.39 L90.98,453.36 L91.96,452.32 L92.94,451.28 L93.92,450.25 L94.90,449.23 L95.88,448.23 L96.86,447.26 L97.84,446.32 L98.82,445.42 L99.80,444.57 L100.78,443.77 L101.76,443.02 L102.74,442.31 L103.72,441.65 L104.70,441.05 L105.68,440.49 L106.66,439.98 L107.64,439.52 L108.62,439.11 L109.60,438.75 L110.58,438.44 L111.56,438.18 L112.54,437.97 L113.52,437.81 L114.49,437.70 L115.47,437.64 L116.45,437.63 L117.43,437.67 L118.41,437.76 L119.39,437.89 L120.37,438.06 L121.35,438.26 L122.33,438.50 L123.31,438.76 L124.29,439.05 L125.27,439.35 L126.25,439.67 L127.23,440.01 L128.21,440.36 L129.19,440.73 L130.17,441.12 L131.15,441.53 L132.13,441.96 L133.11,442.42 L134.09,442.91 L135.07,443.42 L136.05,443.97 L137.03,444.56 L138.01,445.19 L138.99,445.88 L139.97,446.63 L140.95,447.44 L141.93,448.33 L142.91,449.29 L143.89,450.35 L144.87,451.52 L145.85,452.82 L146.83,454.25 L147.81,455.84 L148.79,457.58 L149.77,459.44 L150.75,461.37 L151.73,463.33 L152.71,465.28 L153.69,467.18 L154.67,469.01 L155.65,470.76 L156.63,472.44 L157.61,474.05 L158.59,475.58 L159.57,477.04 L160.55,478.42 L161.53,479.73 L162.51,480.97 L163.49,482.14 L164.47,483.24 L165.45,484.30 L166.43,485.30 L167.41,486.26 L168.39,487.18 L169.37,488.07 L170.35,488.92 L171.33,489.75 L172.31,490.55 L173.29,491.32 L174.27,492.07 L175.25,492.79 L176.23,493.48 L177.21,494.16 L178.19,494.81 L179.17,495.44 L180.15,496.05 L181.13,496.65 L182.11,497.22 L183.09,497.78 L184.07,498.33 L185.05,498.86 L186.03,499.38 L187.01,499.89 L187.99,500.38 L188.97,500.85 L189.95,501.32 L190.93,501.77 L191.91,502.20 L192.88,502.62 L193.86,503.02 L194.84,503.41 L195.82,503.79 L196.80,504.14 L197.78,504.49 L198.76,504.81 L199.74,505.13 L200.72,505.42 L201.70,505.70 L202.68,505.97 L203.66,506.22 L204.64,506.47 L205.62,506.70 L206.60,506.93 L207.58,507.14 L208.56,507.36 L209.54,507.57 L210.52,507.77 L211.50,507.98 L212.48,508.18 L213.46,508.39 L214.44,508.60 L215.42,508.81 L216.40,509.03 L217.38,509.24 L218.36,509.43 L219.34,509.57 L220.32,509.66 L221.30,509.68 L222.28,509.62 L223.26,509.46 L224.24,509.18 L225.22,508.80 L226.20,508.33 L227.18,507.79 L228.16,507.19 L229.14,506.55 L230.12,505.87 L231.10,505.19" fill="none" stroke="#d9541e" stroke-width="1.4" stroke-linejoin="round"/>
<path d="M75.30,462.59 L76.28,461.23 L77.26,459.88 L78.24,458.53 L79.22,457.18 L80.20,455.84 L81.18,454.50 L82.16,453.16 L83.14,451.83 L84.12,450.50 L85.10,449.18 L86.08,447.86 L87.06,446.54 L88.04,445.23 L89.02,443.92 L90.00,442.61 L90.98,441.28 L91.96,439.92 L92.94,438.56 L93.92,437.19 L94.90,435.82 L95.88,434.46 L96.86,433.10 L97.84,431.76 L98.82,430.43 L99.80,429.14 L100.78,427.87 L101.76,426.63 L102.74,425.44 L103.72,424.29 L104.70,423.19 L105.68,422.15 L106.66,421.14 L107.64,420.09 L108.62,419.02 L109.60,417.92 L110.58,416.82 L111.56,415.73 L112.54,414.65 L113.52,413.60 L114.49,412.59 L115.47,411.63 L116.45,410.73 L117.43,409.91 L118.41,409.18 L119.39,408.54 L120.37,408.02 L121.35,407.61 L122.33,407.35 L123.31,407.22 L124.29,407.24 L125.27,407.36 L126.25,407.56 L127.23,407.83 L128.21,408.18 L129.19,408.58 L130.17,409.03 L131.15,409.53 L132.13,410.19 L133.11,411.29 L134.09,412.76 L135.07,414.52 L136.05,416.47 L137.03,418.54 L138.01,420.63 L138.99,422.67 L139.97,424.65 L140.95,426.72 L141.93,428.89 L142.91,431.16 L143.89,433.52 L144.87,435.99 L145.85,438.56 L146.83,441.30 L147.81,444.42 L148.79,447.77 L149.77,451.23 L150.75,454.64 L151.73,457.85 L152.71,460.72 L153.69,463.16 L154.67,465.39 L155.65,467.49 L156.63,469.47 L157.61,471.34 L158.59,473.12 L159.57,474.82 L160.55,476.47 L161.53,478.07 L162.51,479.66 L163.49,481.21 L164.47,482.70 L165.45,484.12 L166.43,485.45 L167.41,486.67 L168.39,487.75 L169.37,488.71 L170.35,489.62 L171.33,490.48 L172.31,491.30 L173.29,492.09 L174.27,492.84 L175.25,493.56 L176.23,494.25 L177.21,494.91 L178.19,495.54 L179.17,496.15 L180.15,496.74 L181.13,497.32 L182.11,497.87 L183.09,498.41 L184.07,498.94 L185.05,499.47 L186.03,500.01 L187.01,500.56 L187.99,501.11 L188.97,501.66 L189.95,502.20 L190.93,502.72 L191.91,503.22 L192.88,503.70 L193.86,504.14 L194.84,504.55 L195.82,504.91 L196.80,505.22 L197.78,505.47 L198.76,505.66 L199.74,505.78 L200.72,505.85 L201.70,505.91 L202.68,505.98 L203.66,506.04 L204.64,506.09 L205.62,506.14 L206.60,506.19 L207.58,506.23 L208.56,506.27 L209.54,506.30 L210.52,506.33 L211.50,506.36 L212.48,506.38 L213.46,506.39 L214.44,506.40 L215.42,506.40 L216.40,506.40 L217.38,506.38 L218.36,506.35 L219.34,506.32 L220.32,506.27 L221.30,506.21 L222.28,506.14 L223.26,506.06 L224.24,505.98 L225.22,505.89 L226.20,505.79 L227.18,505.68 L228.16,505.56 L229.14,505.44 L230.12,505.32 L231.10,505.19 L231.10,516.14 L230.12,516.14 L229.14,516.14 L228.16,516.14 L227.18,516.14 L226.20,516.14 L225.22,516.14 L224.24,516.14 L223.26,516.14 L222.28,516.14 L221.30,516.14 L220.32,516.14 L219.34,516.14 L218.36,516.14 L217.38,516.14 L216.40,516.14 L215.42,516.14 L214.44,516.13 L213.46,516.09 L212.48,516.04 L211.50,515.97 L210.52,515.89 L209.54,515.79 L208.56,515.67 L207.58,515.55 L206.60,515.41 L205.62,515.27 L204.64,515.11 L203.66,514.95 L202.68,514.79 L201.70,514.62 L200.72,514.45 L199.74,514.28 L198.76,514.08 L197.78,513.86 L196.80,513.60 L195.82,513.32 L194.84,513.01 L193.86,512.69 L192.88,512.34 L191.91,511.97 L190.93,511.59 L189.95,511.20 L188.97,510.80 L187.99,510.39 L187.01,509.97 L186.03,509.55 L185.05,509.13 L184.07,508.71 L183.09,508.29 L182.11,507.88 L181.13,507.46 L180.15,507.03 L179.17,506.60 L178.19,506.14 L177.21,505.67 L176.23,505.18 L175.25,504.66 L174.27,504.11 L173.29,503.53 L172.31,502.91 L171.33,502.25 L170.35,501.55 L169.37,500.79 L168.39,499.98 L167.41,499.00 L166.43,497.86 L165.45,496.57 L164.47,495.15 L163.49,493.62 L162.51,492.00 L161.53,490.32 L160.55,488.55 L159.57,486.56 L158.59,484.36 L157.61,481.98 L156.63,479.49 L155.65,476.92 L154.67,474.33 L153.69,471.76 L152.71,469.21 L151.73,466.41 L150.75,463.44 L149.77,460.45 L148.79,457.59 L147.81,454.99 L146.83,452.79 L145.85,451.11 L144.87,449.73 L143.89,448.51 L142.91,447.43 L141.93,446.43 L140.95,445.47 L139.97,444.52 L138.99,443.54 L138.01,442.52 L137.03,441.49 L136.05,440.48 L135.07,439.50 L134.09,438.57 L133.11,437.71 L132.13,436.94 L131.15,436.27 L130.17,435.63 L129.19,434.97 L128.21,434.33 L127.23,433.71 L126.25,433.14 L125.27,432.63 L124.29,432.20 L123.31,431.86 L122.33,431.64 L121.35,431.56 L120.37,431.58 L119.39,431.66 L118.41,431.79 L117.43,431.97 L116.45,432.20 L115.47,432.46 L114.49,432.77 L113.52,433.11 L112.54,433.47 L111.56,433.87 L110.58,434.28 L109.60,434.72 L108.62,435.17 L107.64,435.63 L106.66,436.10 L105.68,436.58 L104.70,437.15 L103.72,437.81 L102.74,438.57 L101.76,439.40 L100.78,440.32 L99.80,441.30 L98.82,442.34 L97.84,443.44 L96.86,444.57 L95.88,445.74 L94.90,446.94 L93.92,448.16 L92.94,449.39 L91.96,450.62 L90.98,451.85 L90.00,453.06 L89.02,454.25 L88.04,455.45 L87.06,456.69 L86.08,457.95 L85.10,459.25 L84.12,460.57 L83.14,461.92 L82.16,463.29 L81.18,464.69 L80.20,466.11 L79.22,467.56 L78.24,469.03 L77.26,470.51 L76.28,472.02 L75.30,473.54 Z" fill="#7a7c80" fill-opacity="0.27" stroke="none"/>
<path d="M75.30,468.07 L76.28,467.00 L77.26,465.91 L78.24,464.81 L79.22,463.66 L80.20,462.47 L81.18,461.22 L82.16,459.90 L83.14,458.49 L84.12,456.99 L85.10,455.43 L86.08,453.82 L87.06,452.22 L88.04,450.64 L89.02,449.12 L90.00,447.69 L90.98,446.35 L91.96,445.08 L92.94,443.87 L93.92,442.71 L94.90,441.59 L95.88,440.49 L96.86,439.40 L97.84,438.31 L98.82,437.21 L99.80,436.10 L100.78,434.98 L101.76,433.86 L102.74,432.74 L103.72,431.64 L104.70,430.54 L105.68,429.47 L106.66,428.41 L107.64,427.39 L108.62,426.40 L109.60,425.46 L110.58,424.57 L111.56,423.74 L112.54,422.98 L113.52,422.30 L114.49,421.70 L115.47,421.17 L116.45,420.72 L117.43,420.34 L118.41,420.02 L119.39,419.75 L120.37,419.54 L121.35,419.37 L122.33,419.25 L123.31,419.21 L124.29,419.26 L125.27,419.44 L126.25,419.78 L127.23,420.29 L128.21,420.99 L129.19,421.83 L130.17,422.79 L131.15,423.82 L132.13,424.92 L133.11,426.05 L134.09,427.24 L135.07,428.48 L136.05,429.79 L137.03,431.18 L138.01,432.66 L138.99,434.22 L139.97,435.89 L140.95,437.68 L141.93,439.59 L142.91,441.63 L143.89,443.82 L144.87,446.15 L145.85,448.60 L146.83,451.12 L147.81,453.67 L148.79,456.20 L149.77,458.68 L150.75,461.09 L151.73,463.44 L152.71,465.73 L153.69,467.96 L154.67,470.14 L155.65,472.27 L156.63,474.34 L157.61,476.33 L158.59,478.26 L159.57,480.12 L160.55,481.90 L161.53,483.59 L162.51,485.21 L163.49,486.74 L164.47,488.18 L165.45,489.55 L166.43,490.84 L167.41,492.06 L168.39,493.19 L169.37,494.25 L170.35,495.24 L171.33,496.16 L172.31,497.01 L173.29,497.81 L174.27,498.55 L175.25,499.24 L176.23,499.88 L177.21,500.48 L178.19,501.04 L179.17,501.57 L180.15,502.06 L181.13,502.54 L182.11,502.99 L183.09,503.42 L184.07,503.84 L185.05,504.26 L186.03,504.66 L187.01,505.06 L187.99,505.45 L188.97,505.83 L189.95,506.21 L190.93,506.57 L191.91,506.93 L192.88,507.27 L193.86,507.61 L194.84,507.93 L195.82,508.25 L196.80,508.55 L197.78,508.84 L198.76,509.12 L199.74,509.39 L200.72,509.65 L201.70,509.89 L202.68,510.12 L203.66,510.34 L204.64,510.54 L205.62,510.73 L206.60,510.91 L207.58,511.07 L208.56,511.22 L209.54,511.36 L210.52,511.48 L211.50,511.59 L212.48,511.68 L213.46,511.76 L214.44,511.83 L215.42,511.87 L216.40,511.91 L217.38,511.93 L218.36,511.94 L219.34,511.93 L220.32,511.92 L221.30,511.89 L222.28,511.86 L223.26,511.81 L224.24,511.76 L225.22,511.70 L226.20,511.64 L227.18,511.57 L228.16,511.50 L229.14,511.42 L230.12,511.35 L231.10,511.27" fill="none" stroke="#d9541e" stroke-width="1.5" stroke-dasharray="4.8,3.0" stroke-linejoin="round"/>
<line x1="75.30" y1="406.00" x2="75.30" y2="528.30" stroke="#666" stroke-width="1.4" />
<line x1="74.70" y1="527.70" x2="231.10" y2="527.70" stroke="#666" stroke-width="1.4" />
<line x1="75.30" y1="406.00" x2="76.90" y2="406.00" stroke="#555" stroke-width="0.9" />
<text x="69.2" y="408.9" font-size="8.3" fill="#555" text-anchor="end">0.02</text>
<line x1="75.30" y1="436.43" x2="76.90" y2="436.43" stroke="#555" stroke-width="0.9" />
<text x="69.2" y="439.325" font-size="8.3" fill="#555" text-anchor="end">0.015</text>
<line x1="75.30" y1="466.85" x2="76.90" y2="466.85" stroke="#555" stroke-width="0.9" />
<text x="69.2" y="469.75" font-size="8.3" fill="#555" text-anchor="end">0.01</text>
<line x1="75.30" y1="497.28" x2="76.90" y2="497.28" stroke="#555" stroke-width="0.9" />
<text x="69.2" y="500.175" font-size="8.3" fill="#555" text-anchor="end">0.005</text>
<line x1="75.30" y1="527.70" x2="76.90" y2="527.70" stroke="#555" stroke-width="0.9" />
<text x="72.89999999999999" y="530.6" font-size="8.3" fill="#555" text-anchor="end">0</text>
<line x1="75.30" y1="527.70" x2="75.30" y2="526.10" stroke="#555" stroke-width="0.9" />
<text x="75.3" y="537.6" font-size="8.3" fill="#555" text-anchor="middle">0</text>
<line x1="106.46" y1="527.70" x2="106.46" y2="526.10" stroke="#555" stroke-width="0.9" />
<text x="106.46000000000001" y="537.6" font-size="8.3" fill="#555" text-anchor="middle">0.2</text>
<line x1="137.62" y1="527.70" x2="137.62" y2="526.10" stroke="#555" stroke-width="0.9" />
<text x="137.62" y="537.6" font-size="8.3" fill="#555" text-anchor="middle">0.4</text>
<line x1="168.78" y1="527.70" x2="168.78" y2="526.10" stroke="#555" stroke-width="0.9" />
<text x="168.78" y="537.6" font-size="8.3" fill="#555" text-anchor="middle">0.6</text>
<line x1="199.94" y1="527.70" x2="199.94" y2="526.10" stroke="#555" stroke-width="0.9" />
<text x="199.94" y="537.6" font-size="8.3" fill="#555" text-anchor="middle">0.8</text>
<line x1="231.10" y1="527.70" x2="231.10" y2="526.10" stroke="#555" stroke-width="0.9" />
<text x="231.10000000000002" y="537.6" font-size="8.3" fill="#555" text-anchor="middle">1</text>
<text x="161" y="547.5" font-size="9.4" fill="#333" text-anchor="middle">Time (Normalized)</text>
<text x="43.5" y="462" font-size="9.5" fill="#333" text-anchor="middle" transform="rotate(-90 43.5 462)">Magnitude</text>
<text x="31" y="393.6" font-size="13" fill="#111" font-weight="bold">C1</text>
<rect x="188.30" y="411.45" width="14.60" height="4.10" fill="#f5c2a8" />
<line x1="188.30" y1="419.20" x2="202.90" y2="419.20" stroke="#d9541e" stroke-width="1.3" />
<rect x="188.30" y="423.15" width="14.60" height="4.10" fill="#dcdee0" />
<line x1="188.30" y1="431.00" x2="194.14" y2="431.00" stroke="#d9541e" stroke-width="1.3" />
<line x1="199.69" y1="431.00" x2="202.90" y2="431.00" stroke="#d9541e" stroke-width="1.3" />
<text x="204.1" y="415.2" font-size="4.6" fill="#444">Cont. Error</text>
<text x="204.1" y="420.9" font-size="4.6" fill="#444">Cont. Avg</text>
<text x="204.1" y="426.9" font-size="4.6" fill="#444">Yoke Error</text>
<text x="204.1" y="432.7" font-size="4.6" fill="#444">Yoke Avg</text>
<path d="M73.80,678.74 L74.82,678.82 L75.84,678.90 L76.86,678.97 L77.88,679.03 L78.89,679.09 L79.91,679.14 L80.93,679.19 L81.95,679.23 L82.97,679.27 L83.99,679.30 L85.01,679.33 L86.03,679.35 L87.05,679.37 L88.06,679.39 L89.08,679.40 L90.10,679.41 L91.12,679.42 L92.14,679.43 L93.16,679.43 L94.18,679.43 L95.20,679.44 L96.22,679.44 L97.23,679.44 L98.25,679.44 L99.27,679.43 L100.29,679.41 L101.31,679.38 L102.33,679.33 L103.35,679.28 L104.37,679.21 L105.38,679.14 L106.40,679.05 L107.42,678.96 L108.44,678.86 L109.46,678.75 L110.48,678.64 L111.50,678.52 L112.52,678.39 L113.54,678.26 L114.55,678.13 L115.57,677.99 L116.59,677.84 L117.61,677.70 L118.63,677.55 L119.65,677.40 L120.67,677.25 L121.69,677.09 L122.71,676.92 L123.72,676.73 L124.74,676.53 L125.76,676.32 L126.78,676.09 L127.80,675.84 L128.82,675.57 L129.84,675.28 L130.86,674.97 L131.88,674.64 L132.89,674.28 L133.91,673.90 L134.93,673.49 L135.95,673.06 L136.97,672.59 L137.99,672.09 L139.01,671.56 L140.03,670.94 L141.05,670.10 L142.06,669.05 L143.08,667.82 L144.10,666.40 L145.12,664.83 L146.14,663.12 L147.16,661.28 L148.18,659.33 L149.20,657.28 L150.22,655.02 L151.23,652.25 L152.25,649.05 L153.27,645.50 L154.29,641.71 L155.31,637.75 L156.33,633.73 L157.35,629.23 L158.37,623.89 L159.38,618.19 L160.40,612.60 L161.42,607.62 L162.44,603.73 L163.46,601.18 L164.48,599.07 L165.50,597.24 L166.52,595.64 L167.54,594.25 L168.55,593.01 L169.57,591.90 L170.59,590.88 L171.61,589.95 L172.63,589.10 L173.65,588.34 L174.67,587.64 L175.69,587.01 L176.71,586.44 L177.72,585.90 L178.74,585.38 L179.76,584.89 L180.78,584.45 L181.80,584.06 L182.82,583.72 L183.84,583.46 L184.86,583.24 L185.88,583.03 L186.89,582.83 L187.91,582.65 L188.93,582.50 L189.95,582.39 L190.97,582.32 L191.99,582.31 L193.01,582.37 L194.03,582.51 L195.05,582.70 L196.06,582.96 L197.08,583.25 L198.10,583.58 L199.12,583.93 L200.14,584.32 L201.16,584.89 L202.18,585.61 L203.20,586.46 L204.22,587.38 L205.23,588.33 L206.25,589.27 L207.27,590.26 L208.29,591.37 L209.31,592.56 L210.33,593.80 L211.35,595.04 L212.37,596.25 L213.38,597.39 L214.40,598.41 L215.42,599.28 L216.44,599.98 L217.46,600.56 L218.48,601.06 L219.50,601.53 L220.52,602.01 L221.54,602.54 L222.55,603.17 L223.57,603.94 L224.59,604.98 L225.61,606.29 L226.63,607.80 L227.65,609.43 L228.67,611.09 L229.69,612.71 L230.71,614.25 L231.72,615.82 L232.74,617.41 L233.76,619.03 L234.78,620.67 L235.80,622.34 L235.80,641.44 L234.78,638.67 L233.76,636.13 L232.74,633.98 L231.72,632.38 L230.71,631.05 L229.69,629.88 L228.67,628.84 L227.65,627.93 L226.63,627.12 L225.61,626.39 L224.59,625.73 L223.57,625.13 L222.55,624.57 L221.54,624.07 L220.52,623.62 L219.50,623.22 L218.48,622.87 L217.46,622.59 L216.44,622.36 L215.42,622.13 L214.40,621.88 L213.38,621.56 L212.37,621.17 L211.35,620.71 L210.33,620.20 L209.31,619.66 L208.29,619.10 L207.27,618.54 L206.25,618.00 L205.23,617.48 L204.22,616.89 L203.20,616.24 L202.18,615.57 L201.16,614.92 L200.14,614.31 L199.12,613.80 L198.10,613.41 L197.08,613.18 L196.06,613.14 L195.05,613.14 L194.03,613.14 L193.01,613.14 L191.99,613.14 L190.97,613.14 L189.95,613.14 L188.93,613.17 L187.91,613.30 L186.89,613.52 L185.88,613.81 L184.86,614.16 L183.84,614.58 L182.82,615.04 L181.80,615.55 L180.78,616.08 L179.76,616.63 L178.74,617.22 L177.72,618.04 L176.71,619.08 L175.69,620.26 L174.67,621.52 L173.65,622.76 L172.63,623.92 L171.61,624.92 L170.59,625.81 L169.57,626.64 L168.55,627.48 L167.54,628.38 L166.52,629.37 L165.50,630.39 L164.48,631.44 L163.46,632.54 L162.44,633.75 L161.42,635.08 L160.40,636.58 L159.38,638.29 L158.37,640.55 L157.35,643.31 L156.33,646.37 L155.31,649.53 L154.29,652.58 L153.27,655.42 L152.25,658.37 L151.23,661.27 L150.22,663.92 L149.20,666.12 L148.18,668.15 L147.16,670.14 L146.14,672.06 L145.12,673.89 L144.10,675.58 L143.08,677.12 L142.06,678.46 L141.05,679.58 L140.03,680.44 L139.01,681.03 L137.99,681.51 L136.97,681.98 L135.95,682.42 L134.93,682.84 L133.91,683.24 L132.89,683.62 L131.88,683.97 L130.86,684.30 L129.84,684.60 L128.82,684.88 L127.80,685.13 L126.78,685.35 L125.76,685.54 L124.74,685.70 L123.72,685.83 L122.71,685.93 L121.69,686.00 L120.67,686.03 L119.65,686.04 L118.63,686.03 L117.61,686.00 L116.59,685.97 L115.57,685.93 L114.55,685.88 L113.54,685.82 L112.52,685.76 L111.50,685.69 L110.48,685.61 L109.46,685.54 L108.44,685.45 L107.42,685.37 L106.40,685.28 L105.38,685.20 L104.37,685.11 L103.35,685.03 L102.33,684.94 L101.31,684.86 L100.29,684.78 L99.27,684.71 L98.25,684.64 L97.23,684.58 L96.22,684.52 L95.20,684.45 L94.18,684.39 L93.16,684.33 L92.14,684.27 L91.12,684.20 L90.10,684.14 L89.08,684.08 L88.06,684.02 L87.05,683.95 L86.03,683.89 L85.01,683.83 L83.99,683.77 L82.97,683.71 L81.95,683.65 L80.93,683.58 L79.91,683.52 L78.89,683.46 L77.88,683.40 L76.86,683.34 L75.84,683.28 L74.82,683.22 L73.80,683.16 Z" fill="#abc0e6" stroke="none"/>
<line x1="155.1" y1="571.0" x2="155.1" y2="698.4" stroke="#bbb" stroke-width="0.8" stroke-dasharray="2.2,1.6"/>
<path d="M73.80,680.91 L74.82,681.16 L75.84,681.41 L76.86,681.65 L77.88,681.89 L78.89,682.13 L79.91,682.37 L80.93,682.60 L81.95,682.83 L82.97,683.04 L83.99,683.26 L85.01,683.46 L86.03,683.63 L87.05,683.78 L88.06,683.88 L89.08,683.93 L90.10,683.93 L91.12,683.85 L92.14,683.69 L93.16,683.49 L94.18,683.25 L95.20,683.00 L96.22,682.77 L97.23,682.58 L98.25,682.44 L99.27,682.38 L100.29,682.39 L101.31,682.45 L102.33,682.55 L103.35,682.69 L104.37,682.85 L105.38,683.01 L106.40,683.18 L107.42,683.33 L108.44,683.46 L109.46,683.55 L110.48,683.61 L111.50,683.64 L112.52,683.64 L113.54,683.61 L114.55,683.56 L115.57,683.48 L116.59,683.38 L117.61,683.26 L118.63,683.12 L119.65,682.96 L120.67,682.78 L121.69,682.59 L122.71,682.39 L123.72,682.16 L124.74,681.92 L125.76,681.66 L126.78,681.39 L127.80,681.09 L128.82,680.77 L129.84,680.44 L130.86,680.08 L131.88,679.71 L132.89,679.30 L133.91,678.86 L134.93,678.39 L135.95,677.87 L136.97,677.31 L137.99,676.69 L139.01,676.02 L140.03,675.29 L141.05,674.48 L142.06,673.56 L143.08,672.52 L144.10,671.33 L145.12,669.97 L146.14,668.41 L147.16,666.58 L148.18,664.43 L149.20,661.89 L150.22,658.90 L151.23,655.56 L152.25,652.01 L153.27,648.42 L154.29,644.94 L155.31,641.65 L156.33,638.56 L157.35,635.65 L158.37,632.94 L159.38,630.41 L160.40,628.01 L161.42,625.72 L162.44,623.48 L163.46,621.26 L164.48,619.09 L165.50,617.02 L166.52,615.10 L167.54,613.36 L168.55,611.82 L169.57,610.45 L170.59,609.22 L171.61,608.10 L172.63,607.08 L173.65,606.13 L174.67,605.25 L175.69,604.45 L176.71,603.71 L177.72,603.04 L178.74,602.42 L179.76,601.85 L180.78,601.33 L181.80,600.83 L182.82,600.37 L183.84,599.92 L184.86,599.48 L185.88,599.06 L186.89,598.68 L187.91,598.33 L188.93,598.03 L189.95,597.79 L190.97,597.62 L191.99,597.53 L193.01,597.53 L194.03,597.61 L195.05,597.77 L196.06,598.00 L197.08,598.30 L198.10,598.65 L199.12,599.06 L200.14,599.52 L201.16,600.02 L202.18,600.56 L203.20,601.14 L204.22,601.74 L205.23,602.36 L206.25,603.00 L207.27,603.65 L208.29,604.31 L209.31,604.96 L210.33,605.61 L211.35,606.24 L212.37,606.84 L213.38,607.42 L214.40,607.95 L215.42,608.45 L216.44,608.89 L217.46,609.29 L218.48,609.66 L219.50,610.03 L220.52,610.41 L221.54,610.82 L222.55,611.27 L223.57,611.78 L224.59,612.37 L225.61,613.08 L226.63,613.94 L227.65,615.00 L228.67,616.29 L229.69,617.85 L230.71,619.72 L231.72,621.87 L232.74,624.25 L233.76,626.80 L234.78,629.46 L235.80,632.17" fill="none" stroke="#1a6db5" stroke-width="1.4" stroke-linejoin="round"/>
<path d="M73.80,680.21 L74.82,680.40 L75.84,680.58 L76.86,680.76 L77.88,680.95 L78.89,681.13 L79.91,681.31 L80.93,681.49 L81.95,681.67 L82.97,681.85 L83.99,682.02 L85.01,682.20 L86.03,682.37 L87.05,682.55 L88.06,682.72 L89.08,682.89 L90.10,683.06 L91.12,683.23 L92.14,683.40 L93.16,683.56 L94.18,683.73 L95.20,683.89 L96.22,684.05 L97.23,684.22 L98.25,684.38 L99.27,684.55 L100.29,684.72 L101.31,684.91 L102.33,685.10 L103.35,685.30 L104.37,685.49 L105.38,685.69 L106.40,685.89 L107.42,686.09 L108.44,686.28 L109.46,686.46 L110.48,686.64 L111.50,686.81 L112.52,686.96 L113.54,687.11 L114.55,687.23 L115.57,687.34 L116.59,687.44 L117.61,687.51 L118.63,687.56 L119.65,687.58 L120.67,687.57 L121.69,687.48 L122.71,687.30 L123.72,687.03 L124.74,686.69 L125.76,686.27 L126.78,685.79 L127.80,685.24 L128.82,684.63 L129.84,683.96 L130.86,683.24 L131.88,682.47 L132.89,681.66 L133.91,680.81 L134.93,679.93 L135.95,679.02 L136.97,678.09 L137.99,677.13 L139.01,676.16 L140.03,675.08 L141.05,673.70 L142.06,672.08 L143.08,670.28 L144.10,668.35 L145.12,666.36 L146.14,664.36 L147.16,662.41 L148.18,660.41 L149.20,658.35 L150.22,656.22 L151.23,654.03 L152.25,651.75 L153.27,649.40 L154.29,646.97 L155.31,644.43 L156.33,641.62 L157.35,638.60 L158.37,635.46 L159.38,632.30 L160.40,629.22 L161.42,626.30 L162.44,623.64 L163.46,621.29 L164.48,619.10 L165.50,617.02 L166.52,615.04 L167.54,613.15 L168.55,611.32 L169.57,609.54 L170.59,607.79 L171.61,606.05 L172.63,604.26 L173.65,602.46 L174.67,600.71 L175.69,599.04 L176.71,597.50 L177.72,596.14 L178.74,595.01 L179.76,594.08 L180.78,593.21 L181.80,592.39 L182.82,591.62 L183.84,590.90 L184.86,590.25 L185.88,589.66 L186.89,589.13 L187.91,588.68 L188.93,588.31 L189.95,588.03 L190.97,587.77 L191.99,587.53 L193.01,587.30 L194.03,587.07 L195.05,586.87 L196.06,586.68 L197.08,586.51 L198.10,586.37 L199.12,586.24 L200.14,586.15 L201.16,586.08 L202.18,586.04 L203.20,586.03 L204.22,586.03 L205.23,586.03 L206.25,586.03 L207.27,586.03 L208.29,586.03 L209.31,586.03 L210.33,586.03 L211.35,586.03 L212.37,586.04 L213.38,586.19 L214.40,586.48 L215.42,586.91 L216.44,587.43 L217.46,588.04 L218.48,588.72 L219.50,589.43 L220.52,590.16 L221.54,590.90 L222.55,591.74 L223.57,592.72 L224.59,593.83 L225.61,595.06 L226.63,596.40 L227.65,597.83 L228.67,599.36 L229.69,600.91 L230.71,602.44 L231.72,604.13 L232.74,606.20 L233.76,608.86 L234.78,612.31 L235.80,619.67 L235.80,624.94 L234.78,621.89 L233.76,619.06 L232.74,616.77 L231.72,615.32 L230.71,614.15 L229.69,613.06 L228.67,612.07 L227.65,611.20 L226.63,610.46 L225.61,609.86 L224.59,609.43 L223.57,609.19 L222.55,609.14 L221.54,609.14 L220.52,609.14 L219.50,609.14 L218.48,609.14 L217.46,609.14 L216.44,609.14 L215.42,609.14 L214.40,609.14 L213.38,609.14 L212.37,609.14 L211.35,609.14 L210.33,609.14 L209.31,609.14 L208.29,609.18 L207.27,609.25 L206.25,609.36 L205.23,609.51 L204.22,609.69 L203.20,609.89 L202.18,610.12 L201.16,610.37 L200.14,610.64 L199.12,610.92 L198.10,611.22 L197.08,611.54 L196.06,611.86 L195.05,612.18 L194.03,612.51 L193.01,612.84 L191.99,613.16 L190.97,613.50 L189.95,613.86 L188.93,614.25 L187.91,614.67 L186.89,615.11 L185.88,615.59 L184.86,616.09 L183.84,616.62 L182.82,617.19 L181.80,617.78 L180.78,618.41 L179.76,619.07 L178.74,619.76 L177.72,620.51 L176.71,621.34 L175.69,622.24 L174.67,623.21 L173.65,624.26 L172.63,625.38 L171.61,626.57 L170.59,627.83 L169.57,629.16 L168.55,630.56 L167.54,632.03 L166.52,633.57 L165.50,635.18 L164.48,637.00 L163.46,639.12 L162.44,641.48 L161.42,644.02 L160.40,646.68 L159.38,649.38 L158.37,652.07 L157.35,654.68 L156.33,657.47 L155.31,660.40 L154.29,663.27 L153.27,665.88 L152.25,668.04 L151.23,669.90 L150.22,671.58 L149.20,673.13 L148.18,674.58 L147.16,676.00 L146.14,677.41 L145.12,678.82 L144.10,680.22 L143.08,681.57 L142.06,682.84 L141.05,684.02 L140.03,685.06 L139.01,685.96 L137.99,686.79 L136.97,687.59 L135.95,688.35 L134.93,689.05 L133.91,689.69 L132.89,690.24 L131.88,690.71 L130.86,691.07 L129.84,691.33 L128.82,691.58 L127.80,691.82 L126.78,692.05 L125.76,692.27 L124.74,692.47 L123.72,692.65 L122.71,692.82 L121.69,692.97 L120.67,693.10 L119.65,693.21 L118.63,693.30 L117.61,693.36 L116.59,693.40 L115.57,693.41 L114.55,693.38 L113.54,693.29 L112.52,693.14 L111.50,692.94 L110.48,692.70 L109.46,692.43 L108.44,692.13 L107.42,691.81 L106.40,691.48 L105.38,691.13 L104.37,690.78 L103.35,690.44 L102.33,690.11 L101.31,689.79 L100.29,689.50 L99.27,689.24 L98.25,689.02 L97.23,688.82 L96.22,688.63 L95.20,688.44 L94.18,688.25 L93.16,688.06 L92.14,687.88 L91.12,687.69 L90.10,687.52 L89.08,687.34 L88.06,687.17 L87.05,687.00 L86.03,686.84 L85.01,686.68 L83.99,686.53 L82.97,686.38 L81.95,686.23 L80.93,686.09 L79.91,685.96 L78.89,685.83 L77.88,685.70 L76.86,685.59 L75.84,685.47 L74.82,685.37 L73.80,685.27 Z" fill="#7a7c80" fill-opacity="0.27" stroke="none"/>
<path d="M73.80,681.76 L74.82,682.06 L75.84,682.36 L76.86,682.66 L77.88,682.96 L78.89,683.25 L79.91,683.54 L80.93,683.83 L81.95,684.11 L82.97,684.38 L83.99,684.65 L85.01,684.91 L86.03,685.16 L87.05,685.40 L88.06,685.64 L89.08,685.86 L90.10,686.08 L91.12,686.30 L92.14,686.52 L93.16,686.75 L94.18,686.97 L95.20,687.21 L96.22,687.45 L97.23,687.71 L98.25,687.98 L99.27,688.26 L100.29,688.56 L101.31,688.86 L102.33,689.16 L103.35,689.46 L104.37,689.76 L105.38,690.03 L106.40,690.29 L107.42,690.53 L108.44,690.74 L109.46,690.92 L110.48,691.06 L111.50,691.16 L112.52,691.22 L113.54,691.23 L114.55,691.20 L115.57,691.13 L116.59,691.03 L117.61,690.90 L118.63,690.74 L119.65,690.56 L120.67,690.35 L121.69,690.13 L122.71,689.88 L123.72,689.61 L124.74,689.31 L125.76,688.97 L126.78,688.60 L127.80,688.18 L128.82,687.73 L129.84,687.23 L130.86,686.68 L131.88,686.09 L132.89,685.43 L133.91,684.70 L134.93,683.90 L135.95,683.01 L136.97,682.04 L137.99,680.97 L139.01,679.80 L140.03,678.52 L141.05,677.14 L142.06,675.67 L143.08,674.15 L144.10,672.58 L145.12,670.98 L146.14,669.36 L147.16,667.76 L148.18,666.16 L149.20,664.51 L150.22,662.77 L151.23,660.91 L152.25,658.89 L153.27,656.66 L154.29,654.23 L155.31,651.63 L156.33,648.90 L157.35,646.06 L158.37,643.15 L159.38,640.20 L160.40,637.28 L161.42,634.46 L162.44,631.81 L163.46,629.40 L164.48,627.31 L165.50,625.56 L166.52,624.11 L167.54,622.90 L168.55,621.86 L169.57,620.92 L170.59,620.03 L171.61,619.12 L172.63,618.16 L173.65,617.17 L174.67,616.15 L175.69,615.12 L176.71,614.09 L177.72,613.06 L178.74,612.04 L179.76,611.04 L180.78,610.05 L181.80,609.09 L182.82,608.14 L183.84,607.21 L184.86,606.30 L185.88,605.42 L186.89,604.57 L187.91,603.76 L188.93,603.00 L189.95,602.29 L190.97,601.64 L191.99,601.06 L193.01,600.55 L194.03,600.09 L195.05,599.69 L196.06,599.32 L197.08,598.99 L198.10,598.68 L199.12,598.39 L200.14,598.11 L201.16,597.86 L202.18,597.64 L203.20,597.47 L204.22,597.34 L205.23,597.27 L206.25,597.26 L207.27,597.33 L208.29,597.45 L209.31,597.62 L210.33,597.82 L211.35,598.03 L212.37,598.25 L213.38,598.45 L214.40,598.62 L215.42,598.77 L216.44,598.91 L217.46,599.08 L218.48,599.31 L219.50,599.64 L220.52,600.09 L221.54,600.70 L222.55,601.51 L223.57,602.51 L224.59,603.66 L225.61,604.92 L226.63,606.25 L227.65,607.60 L228.67,608.92 L229.69,610.21 L230.71,611.58 L231.72,613.25 L232.74,615.41 L233.76,618.26 L234.78,621.96 L235.80,626.27" fill="none" stroke="#1a6db5" stroke-width="1.5" stroke-dasharray="4.8,3.0" stroke-linejoin="round"/>
<line x1="73.80" y1="571.00" x2="73.80" y2="699.00" stroke="#666" stroke-width="1.4" />
<line x1="73.20" y1="698.40" x2="235.80" y2="698.40" stroke="#666" stroke-width="1.4" />
<line x1="73.80" y1="593.05" x2="75.40" y2="593.05" stroke="#555" stroke-width="0.9" />
<text x="63.9" y="595.9527012127894" font-size="8.3" fill="#555" text-anchor="end">0.015</text>
<line x1="73.80" y1="628.17" x2="75.40" y2="628.17" stroke="#555" stroke-width="0.9" />
<text x="63.9" y="631.068467475193" font-size="8.3" fill="#555" text-anchor="end">0.01</text>
<line x1="73.80" y1="663.28" x2="75.40" y2="663.28" stroke="#555" stroke-width="0.9" />
<text x="63.9" y="666.1842337375964" font-size="8.3" fill="#555" text-anchor="end">0.005</text>
<line x1="73.80" y1="698.40" x2="75.40" y2="698.40" stroke="#555" stroke-width="0.9" />
<text x="71.39999999999999" y="701.3" font-size="8.3" fill="#555" text-anchor="end">0</text>
<line x1="73.80" y1="698.40" x2="73.80" y2="696.80" stroke="#555" stroke-width="0.9" />
<text x="73.8" y="709.0" font-size="8.3" fill="#555" text-anchor="middle">0</text>
<line x1="106.20" y1="698.40" x2="106.20" y2="696.80" stroke="#555" stroke-width="0.9" />
<text x="106.19999999999999" y="709.0" font-size="8.3" fill="#555" text-anchor="middle">0.2</text>
<line x1="138.60" y1="698.40" x2="138.60" y2="696.80" stroke="#555" stroke-width="0.9" />
<text x="138.6" y="709.0" font-size="8.3" fill="#555" text-anchor="middle">0.4</text>
<line x1="171.00" y1="698.40" x2="171.00" y2="696.80" stroke="#555" stroke-width="0.9" />
<text x="171.0" y="709.0" font-size="8.3" fill="#555" text-anchor="middle">0.6</text>
<line x1="203.40" y1="698.40" x2="203.40" y2="696.80" stroke="#555" stroke-width="0.9" />
<text x="203.39999999999998" y="709.0" font-size="8.3" fill="#555" text-anchor="middle">0.8</text>
<line x1="235.80" y1="698.40" x2="235.80" y2="696.80" stroke="#555" stroke-width="0.9" />
<text x="235.8" y="709.0" font-size="8.3" fill="#555" text-anchor="middle">1</text>
<text x="161" y="719.0" font-size="9.4" fill="#333" text-anchor="middle">Time (Normalized)</text>
<text x="39.6" y="632.5" font-size="9.5" fill="#333" text-anchor="middle" transform="rotate(-90 39.6 632.5)">Magnitude</text>
<text x="31.9" y="562.9" font-size="13" fill="#111" font-weight="bold">C2</text>
<rect x="79.50" y="577.95" width="15.40" height="4.10" fill="#b0c4e8" />
<line x1="79.50" y1="585.90" x2="94.90" y2="585.90" stroke="#1a6db5" stroke-width="1.3" />
<rect x="79.50" y="590.15" width="15.40" height="4.10" fill="#dcdee0" />
<line x1="79.50" y1="598.10" x2="85.66" y2="598.10" stroke="#1a6db5" stroke-width="1.3" />
<line x1="91.51" y1="598.10" x2="94.90" y2="598.10" stroke="#1a6db5" stroke-width="1.3" />
<text x="96.2" y="581.7" font-size="4.6" fill="#444">Cont. Error</text>
<text x="96.2" y="587.6" font-size="4.6" fill="#444">Cont. Avg</text>
<text x="96.2" y="593.9000000000001" font-size="4.6" fill="#444">Yoke Error</text>
<text x="96.2" y="599.8000000000001" font-size="4.6" fill="#444">Yoke Avg</text>
<line x1="294.50" y1="373.40" x2="460.30" y2="373.40" stroke="#222" stroke-width="1.4" />
<text x="462.8" y="376.8" font-size="10.5" fill="#111" font-weight="bold">Peak time</text>
<line x1="514.20" y1="373.40" x2="681.00" y2="373.40" stroke="#222" stroke-width="1.4" />
<line x1="294.50" y1="550.80" x2="443.20" y2="550.80" stroke="#222" stroke-width="1.4" />
<text x="445.6" y="554.1" font-size="10.5" fill="#111" font-weight="bold">Peak magnitude</text>
<line x1="528.00" y1="550.80" x2="681.00" y2="550.80" stroke="#222" stroke-width="1.4" />
<text x="292.4" y="397.4" font-size="13.8" fill="#111" font-weight="bold">D1</text>
<text x="401.2" y="394.2" font-size="14.0" fill="#f0883a" text-anchor="middle">Protraction</text>
<line x1="320.00" y1="400.80" x2="320.00" y2="520.60" stroke="#444" stroke-width="1.2" />
<line x1="319.40" y1="520.00" x2="467.70" y2="520.00" stroke="#444" stroke-width="1.2" />
<line x1="320.00" y1="520.00" x2="317.20" y2="520.00" stroke="#444" stroke-width="0.9" />
<text x="316.4" y="523.6" font-size="7.9" fill="#555" text-anchor="end">0</text>
<line x1="320.00" y1="496.16" x2="317.20" y2="496.16" stroke="#444" stroke-width="0.9" />
<text x="314.2" y="498.96" font-size="7.9" fill="#555" text-anchor="end">0.2</text>
<line x1="320.00" y1="472.32" x2="317.20" y2="472.32" stroke="#444" stroke-width="0.9" />
<text x="314.2" y="475.12" font-size="7.9" fill="#555" text-anchor="end">0.4</text>
<line x1="320.00" y1="448.48" x2="317.20" y2="448.48" stroke="#444" stroke-width="0.9" />
<text x="314.2" y="451.28000000000003" font-size="7.9" fill="#555" text-anchor="end">0.6</text>
<line x1="320.00" y1="424.64" x2="317.20" y2="424.64" stroke="#444" stroke-width="0.9" />
<text x="314.2" y="427.44" font-size="7.9" fill="#555" text-anchor="end">0.8</text>
<line x1="320.00" y1="400.80" x2="317.20" y2="400.80" stroke="#444" stroke-width="0.9" />
<text x="314.2" y="403.6" font-size="7.9" fill="#555" text-anchor="end">1</text>
<text x="300.8" y="465" font-size="9.0" fill="#555" text-anchor="middle" transform="rotate(-90 300.8 465)">Peak time (normalized)</text>
<text x="356.8" y="532.6" font-size="9.0" fill="#333" text-anchor="middle">Contingent</text>
<text x="430" y="532.6" font-size="9.0" fill="#333" text-anchor="middle">Yoked</text>
<line x1="378.80" y1="454.10" x2="408.00" y2="436.60" stroke="#c4c6c8" stroke-width="0.75" />
<line x1="378.80" y1="463.60" x2="408.00" y2="515.70" stroke="#c4c6c8" stroke-width="0.75" />
<line x1="378.80" y1="475.90" x2="408.00" y2="478.00" stroke="#c4c6c8" stroke-width="0.75" />
<line x1="378.80" y1="477.40" x2="408.00" y2="482.00" stroke="#c4c6c8" stroke-width="0.75" />
<line x1="378.80" y1="480.20" x2="408.00" y2="485.70" stroke="#c4c6c8" stroke-width="0.75" />
<line x1="378.80" y1="483.20" x2="408.00" y2="490.30" stroke="#c4c6c8" stroke-width="0.75" />
<line x1="378.80" y1="485.70" x2="408.00" y2="481.10" stroke="#c4c6c8" stroke-width="0.75" />
<line x1="378.80" y1="488.80" x2="408.00" y2="492.40" stroke="#c4c6c8" stroke-width="0.75" />
<line x1="378.80" y1="490.90" x2="408.00" y2="497.30" stroke="#c4c6c8" stroke-width="0.75" />
<line x1="378.80" y1="494.00" x2="408.00" y2="488.80" stroke="#c4c6c8" stroke-width="0.75" />
<line x1="378.80" y1="502.60" x2="408.00" y2="495.80" stroke="#c4c6c8" stroke-width="0.75" />
<line x1="356.90" y1="454.70" x2="356.90" y2="476.50" stroke="#222" stroke-width="1.2" />
<line x1="356.90" y1="493.00" x2="356.90" y2="502.90" stroke="#222" stroke-width="1.2" />
<line x1="352.20" y1="454.70" x2="362.60" y2="454.70" stroke="#222" stroke-width="1.2" />
<line x1="352.20" y1="502.90" x2="362.60" y2="502.90" stroke="#222" stroke-width="1.2" />
<rect x="345.70" y="476.50" width="22.40" height="16.50" fill="#3e7a4e" stroke="#222" stroke-width="1.1" />
<line x1="346.30" y1="485.00" x2="367.50" y2="485.00" stroke="#1f3f28" stroke-width="1.0" />
<line x1="430.15" y1="478.30" x2="430.15" y2="480.50" stroke="#222" stroke-width="1.2" />
<line x1="430.15" y1="495.80" x2="430.15" y2="516.30" stroke="#222" stroke-width="1.2" />
<line x1="424.80" y1="478.30" x2="435.50" y2="478.30" stroke="#222" stroke-width="1.2" />
<line x1="424.80" y1="516.30" x2="435.50" y2="516.30" stroke="#222" stroke-width="1.2" />
<rect x="419.30" y="480.50" width="21.70" height="15.30" fill="#b4b7ba" stroke="#222" stroke-width="1.1" />
<line x1="419.90" y1="485.70" x2="440.40" y2="485.70" stroke="#707478" stroke-width="1.0" />
<text x="485.8" y="397.4" font-size="13.8" fill="#111" font-weight="bold">D2</text>
<text x="601.5" y="394.3" font-size="14.1" fill="#2a7bbf" text-anchor="middle">Retraction</text>
<line x1="530.80" y1="400.20" x2="530.80" y2="520.30" stroke="#444" stroke-width="1.2" />
<line x1="530.20" y1="519.70" x2="677.30" y2="519.70" stroke="#444" stroke-width="1.2" />
<line x1="530.80" y1="519.70" x2="528.00" y2="519.70" stroke="#444" stroke-width="0.9" />
<text x="527.1999999999999" y="523.3000000000001" font-size="7.9" fill="#555" text-anchor="end">0</text>
<line x1="530.80" y1="495.80" x2="528.00" y2="495.80" stroke="#444" stroke-width="0.9" />
<text x="525.0" y="498.6000000000001" font-size="7.9" fill="#555" text-anchor="end">0.2</text>
<line x1="530.80" y1="471.90" x2="528.00" y2="471.90" stroke="#444" stroke-width="0.9" />
<text x="525.0" y="474.70000000000005" font-size="7.9" fill="#555" text-anchor="end">0.4</text>
<line x1="530.80" y1="448.00" x2="528.00" y2="448.00" stroke="#444" stroke-width="0.9" />
<text x="525.0" y="450.80000000000007" font-size="7.9" fill="#555" text-anchor="end">0.6</text>
<line x1="530.80" y1="424.10" x2="528.00" y2="424.10" stroke="#444" stroke-width="0.9" />
<text x="525.0" y="426.90000000000003" font-size="7.9" fill="#555" text-anchor="end">0.8</text>
<line x1="530.80" y1="400.20" x2="528.00" y2="400.20" stroke="#444" stroke-width="0.9" />
<text x="525.0" y="403.00000000000006" font-size="7.9" fill="#555" text-anchor="end">1</text>
<text x="510.8" y="465" font-size="9.0" fill="#555" text-anchor="middle" transform="rotate(-90 510.8 465)">Peak time (normalized)</text>
<text x="567" y="532.3" font-size="9.0" fill="#333" text-anchor="middle">Contingent</text>
<text x="640.5" y="532.3" font-size="9.0" fill="#333" text-anchor="middle">Yoked</text>
<line x1="589.10" y1="406.20" x2="618.60" y2="412.40" stroke="#c4c6c8" stroke-width="0.75" />
<line x1="589.10" y1="407.00" x2="618.60" y2="414.50" stroke="#c4c6c8" stroke-width="0.75" />
<line x1="589.10" y1="416.60" x2="618.60" y2="407.00" stroke="#c4c6c8" stroke-width="0.75" />
<line x1="589.10" y1="425.70" x2="618.60" y2="414.50" stroke="#c4c6c8" stroke-width="0.75" />
<line x1="589.10" y1="426.60" x2="618.60" y2="419.90" stroke="#c4c6c8" stroke-width="0.75" />
<line x1="589.10" y1="430.70" x2="618.60" y2="422.40" stroke="#c4c6c8" stroke-width="0.75" />
<line x1="589.10" y1="434.00" x2="618.60" y2="423.20" stroke="#c4c6c8" stroke-width="0.75" />
<line x1="589.10" y1="434.90" x2="618.60" y2="432.00" stroke="#c4c6c8" stroke-width="0.75" />
<line x1="589.10" y1="438.20" x2="618.60" y2="444.80" stroke="#c4c6c8" stroke-width="0.75" />
<line x1="589.10" y1="444.80" x2="618.60" y2="435.30" stroke="#c4c6c8" stroke-width="0.75" />
<line x1="589.10" y1="449.80" x2="618.60" y2="422.40" stroke="#c4c6c8" stroke-width="0.75" />
<line x1="567.25" y1="406.00" x2="567.25" y2="418.60" stroke="#222" stroke-width="1.2" />
<line x1="567.25" y1="437.60" x2="567.25" y2="449.20" stroke="#222" stroke-width="1.2" />
<line x1="562.40" y1="406.00" x2="572.50" y2="406.00" stroke="#222" stroke-width="1.2" />
<line x1="562.40" y1="449.20" x2="572.50" y2="449.20" stroke="#222" stroke-width="1.2" />
<rect x="556.20" y="418.60" width="22.10" height="19.00" fill="#3e7a4e" stroke="#222" stroke-width="1.1" />
<line x1="556.80" y1="430.50" x2="577.70" y2="430.50" stroke="#1f3f28" stroke-width="1.0" />
<line x1="640.40" y1="407.20" x2="640.40" y2="413.60" stroke="#222" stroke-width="1.2" />
<line x1="640.40" y1="430.20" x2="640.40" y2="444.60" stroke="#222" stroke-width="1.2" />
<line x1="635.30" y1="407.20" x2="645.80" y2="407.20" stroke="#222" stroke-width="1.2" />
<line x1="635.30" y1="444.60" x2="645.80" y2="444.60" stroke="#222" stroke-width="1.2" />
<rect x="629.20" y="413.60" width="22.40" height="16.60" fill="#b4b7ba" stroke="#222" stroke-width="1.1" />
<line x1="629.80" y1="422.20" x2="651.00" y2="422.20" stroke="#707478" stroke-width="1.0" />
<line x1="567.60" y1="475.60" x2="594.60" y2="475.60" stroke="#222" stroke-width="1.1" />
<line x1="613.00" y1="475.60" x2="640.50" y2="475.60" stroke="#222" stroke-width="1.1" />
<line x1="604.40" y1="472.20" x2="604.40" y2="478.20" stroke="#333" stroke-width="0.9" />
<line x1="601.80" y1="473.70" x2="607.00" y2="476.70" stroke="#333" stroke-width="0.9" />
<line x1="601.80" y1="476.70" x2="607.00" y2="473.70" stroke="#333" stroke-width="0.9" />
<text x="292.4" y="572.7" font-size="13.8" fill="#111" font-weight="bold">E1</text>
<text x="401.2" y="571.3" font-size="14.0" fill="#f0883a" text-anchor="middle">Protraction</text>
<line x1="319.70" y1="584.00" x2="319.70" y2="707.90" stroke="#444" stroke-width="1.2" />
<line x1="319.10" y1="707.30" x2="461.60" y2="707.30" stroke="#444" stroke-width="1.2" />
<line x1="319.70" y1="707.30" x2="316.90" y2="707.30" stroke="#444" stroke-width="0.9" />
<text x="316.09999999999997" y="710.9" font-size="7.9" fill="#555" text-anchor="end">0</text>
<line x1="319.70" y1="682.64" x2="316.90" y2="682.64" stroke="#444" stroke-width="0.9" />
<text x="313.9" y="685.4399999999999" font-size="7.9" fill="#555" text-anchor="end">0.01</text>
<line x1="319.70" y1="657.98" x2="316.90" y2="657.98" stroke="#444" stroke-width="0.9" />
<text x="313.9" y="660.7799999999999" font-size="7.9" fill="#555" text-anchor="end">0.02</text>
<line x1="319.70" y1="633.32" x2="316.90" y2="633.32" stroke="#444" stroke-width="0.9" />
<text x="313.9" y="636.1199999999999" font-size="7.9" fill="#555" text-anchor="end">0.03</text>
<line x1="319.70" y1="608.66" x2="316.90" y2="608.66" stroke="#444" stroke-width="0.9" />
<text x="313.9" y="611.4599999999999" font-size="7.9" fill="#555" text-anchor="end">0.04</text>
<line x1="319.70" y1="584.00" x2="316.90" y2="584.00" stroke="#444" stroke-width="0.9" />
<text x="313.9" y="586.8" font-size="7.9" fill="#555" text-anchor="end">0.05</text>
<text x="295.5" y="648.7" font-size="9.6" fill="#555" text-anchor="middle" transform="rotate(-90 295.5 648.7)">Peak Magnitude</text>
<text x="354.3" y="720.2" font-size="9.0" fill="#333" text-anchor="middle">Contingent</text>
<text x="424.8" y="720.2" font-size="9.0" fill="#333" text-anchor="middle">Yoked</text>
<line x1="376.10" y1="674.10" x2="404.80" y2="617.70" stroke="#c4c6c8" stroke-width="0.75" />
<line x1="376.10" y1="638.20" x2="404.80" y2="672.40" stroke="#c4c6c8" stroke-width="0.75" />
<line x1="376.10" y1="655.10" x2="404.80" y2="659.20" stroke="#c4c6c8" stroke-width="0.75" />
<line x1="376.10" y1="661.40" x2="404.80" y2="661.90" stroke="#c4c6c8" stroke-width="0.75" />
<line x1="376.10" y1="666.40" x2="404.80" y2="664.10" stroke="#c4c6c8" stroke-width="0.75" />
<line x1="376.10" y1="666.90" x2="404.80" y2="667.50" stroke="#c4c6c8" stroke-width="0.75" />
<line x1="376.10" y1="669.70" x2="404.80" y2="671.30" stroke="#c4c6c8" stroke-width="0.75" />
<line x1="376.10" y1="679.60" x2="404.80" y2="679.60" stroke="#c4c6c8" stroke-width="0.75" />
<line x1="376.10" y1="680.70" x2="404.80" y2="682.90" stroke="#c4c6c8" stroke-width="0.75" />
<line x1="376.10" y1="684.60" x2="404.80" y2="654.20" stroke="#c4c6c8" stroke-width="0.75" />
<line x1="376.10" y1="660.00" x2="404.80" y2="664.00" stroke="#c4c6c8" stroke-width="0.75" />
<line x1="355.25" y1="655.50" x2="355.25" y2="662.50" stroke="#222" stroke-width="1.2" />
<line x1="355.25" y1="678.50" x2="355.25" y2="684.60" stroke="#222" stroke-width="1.2" />
<line x1="350.30" y1="655.50" x2="360.70" y2="655.50" stroke="#222" stroke-width="1.2" />
<line x1="350.30" y1="684.60" x2="360.70" y2="684.60" stroke="#222" stroke-width="1.2" />
<rect x="344.50" y="662.50" width="21.50" height="16.00" fill="#3e7a4e" stroke="#222" stroke-width="1.1" />
<line x1="345.10" y1="669.00" x2="365.40" y2="669.00" stroke="#1f3f28" stroke-width="1.0" />
<line x1="425.75" y1="653.60" x2="425.75" y2="660.00" stroke="#222" stroke-width="1.2" />
<line x1="425.75" y1="672.60" x2="425.75" y2="682.80" stroke="#222" stroke-width="1.2" />
<line x1="421.10" y1="653.60" x2="431.60" y2="653.60" stroke="#222" stroke-width="1.2" />
<line x1="421.10" y1="682.80" x2="431.60" y2="682.80" stroke="#222" stroke-width="1.2" />
<rect x="415.00" y="660.00" width="21.50" height="12.60" fill="#b4b7ba" stroke="#222" stroke-width="1.1" />
<line x1="415.60" y1="663.80" x2="435.90" y2="663.80" stroke="#707478" stroke-width="1.0" />
<text x="485.8" y="572.7" font-size="13.8" fill="#111" font-weight="bold">E2</text>
<text x="601.5" y="571.3" font-size="14.1" fill="#2a7bbf" text-anchor="middle">Retraction</text>
<line x1="533.20" y1="584.00" x2="533.20" y2="708.20" stroke="#444" stroke-width="1.2" />
<line x1="532.60" y1="707.60" x2="681.00" y2="707.60" stroke="#444" stroke-width="1.2" />
<line x1="533.20" y1="707.60" x2="530.40" y2="707.60" stroke="#444" stroke-width="0.9" />
<text x="529.6" y="711.2" font-size="7.9" fill="#555" text-anchor="end">0</text>
<line x1="533.20" y1="682.88" x2="530.40" y2="682.88" stroke="#444" stroke-width="0.9" />
<text x="527.4000000000001" y="685.68" font-size="7.9" fill="#555" text-anchor="end">0.01</text>
<line x1="533.20" y1="658.16" x2="530.40" y2="658.16" stroke="#444" stroke-width="0.9" />
<text x="527.4000000000001" y="660.96" font-size="7.9" fill="#555" text-anchor="end">0.02</text>
<line x1="533.20" y1="633.44" x2="530.40" y2="633.44" stroke="#444" stroke-width="0.9" />
<text x="527.4000000000001" y="636.24" font-size="7.9" fill="#555" text-anchor="end">0.03</text>
<line x1="533.20" y1="608.72" x2="530.40" y2="608.72" stroke="#444" stroke-width="0.9" />
<text x="527.4000000000001" y="611.52" font-size="7.9" fill="#555" text-anchor="end">0.04</text>
<line x1="533.20" y1="584.00" x2="530.40" y2="584.00" stroke="#444" stroke-width="0.9" />
<text x="527.4000000000001" y="586.8" font-size="7.9" fill="#555" text-anchor="end">0.05</text>
<text x="509.0" y="648.7" font-size="9.6" fill="#555" text-anchor="middle" transform="rotate(-90 509.0 648.7)">Peak Magnitude</text>
<text x="570" y="720.5" font-size="9.0" fill="#333" text-anchor="middle">Contingent</text>
<text x="643.6" y="720.5" font-size="9.0" fill="#333" text-anchor="middle">Yoked</text>
<line x1="592.20" y1="622.20" x2="621.80" y2="657.10" stroke="#c4c6c8" stroke-width="0.75" />
<line x1="592.20" y1="653.20" x2="621.80" y2="667.60" stroke="#c4c6c8" stroke-width="0.75" />
<line x1="592.20" y1="664.30" x2="621.80" y2="656.40" stroke="#c4c6c8" stroke-width="0.75" />
<line x1="592.20" y1="665.70" x2="621.80" y2="665.70" stroke="#c4c6c8" stroke-width="0.75" />
<line x1="592.20" y1="669.00" x2="621.80" y2="669.00" stroke="#c4c6c8" stroke-width="0.75" />
<line x1="592.20" y1="672.90" x2="621.80" y2="667.60" stroke="#c4c6c8" stroke-width="0.75" />
<line x1="592.20" y1="674.20" x2="621.80" y2="674.90" stroke="#c4c6c8" stroke-width="0.75" />
<line x1="592.20" y1="675.50" x2="621.80" y2="659.70" stroke="#c4c6c8" stroke-width="0.75" />
<line x1="592.20" y1="680.10" x2="621.80" y2="658.40" stroke="#c4c6c8" stroke-width="0.75" />
<line x1="592.20" y1="680.10" x2="621.80" y2="706.40" stroke="#c4c6c8" stroke-width="0.75" />
<line x1="592.20" y1="667.60" x2="621.80" y2="671.60" stroke="#c4c6c8" stroke-width="0.75" />
<line x1="570.35" y1="652.40" x2="570.35" y2="664.00" stroke="#222" stroke-width="1.2" />
<line x1="570.35" y1="676.60" x2="570.35" y2="680.30" stroke="#222" stroke-width="1.2" />
<line x1="565.40" y1="652.40" x2="575.20" y2="652.40" stroke="#222" stroke-width="1.2" />
<line x1="565.40" y1="680.30" x2="575.20" y2="680.30" stroke="#222" stroke-width="1.2" />
<rect x="559.30" y="664.00" width="22.10" height="12.60" fill="#3e7a4e" stroke="#222" stroke-width="1.1" />
<line x1="559.90" y1="669.00" x2="580.80" y2="669.00" stroke="#1f3f28" stroke-width="1.0" />
<line x1="643.80" y1="655.50" x2="643.80" y2="660.40" stroke="#222" stroke-width="1.2" />
<line x1="643.80" y1="672.30" x2="643.80" y2="675.40" stroke="#222" stroke-width="1.2" />
<line x1="638.40" y1="655.50" x2="649.10" y2="655.50" stroke="#222" stroke-width="1.2" />
<line x1="638.40" y1="675.40" x2="649.10" y2="675.40" stroke="#222" stroke-width="1.2" />
<rect x="632.30" y="660.40" width="23.00" height="11.90" fill="#b4b7ba" stroke="#222" stroke-width="1.1" />
<line x1="632.90" y1="668.40" x2="654.70" y2="668.40" stroke="#707478" stroke-width="1.0" /></svg></body></html>
